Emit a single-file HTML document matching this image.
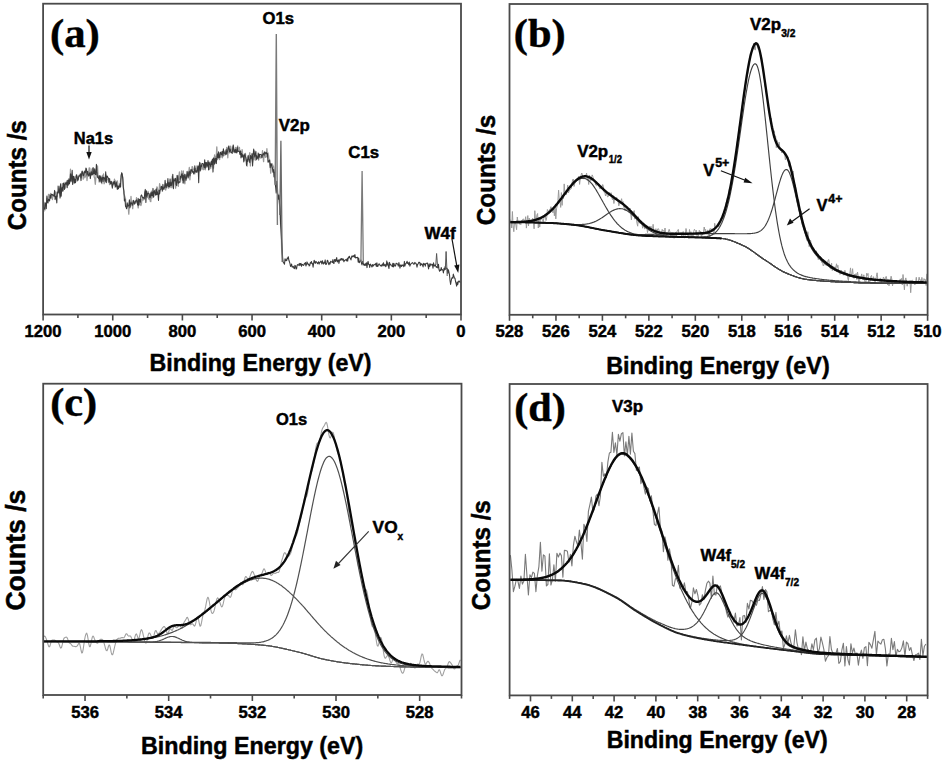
<!DOCTYPE html>
<html><head><meta charset="utf-8"><style>html,body{margin:0;padding:0;background:#fff;width:945px;height:762px;overflow:hidden}svg{display:block}</style></head>
<body><svg width="945" height="762" viewBox="0 0 945 762">
<rect width="945" height="762" fill="#fff"/>
<g clip-path="none">
<polyline fill="none" stroke="#9a9a9a" stroke-width="1.3" stroke-linejoin="round" points="43.6,201.7 44.1,202.7 44.7,209.4 45.2,209.9 45.8,204.4 46.3,205.0 46.9,198.2 47.4,198.5 48.0,199.1 48.5,194.4 49.1,194.4 49.6,197.8 50.2,196.1 50.7,193.4 51.3,197.9 51.8,195.5 52.4,199.5 52.9,195.8 53.5,194.3 54.0,195.3 54.6,193.9 55.1,191.8 55.7,192.2 56.2,195.5 56.8,194.7 57.3,196.4 57.9,186.1 58.4,190.0 59.0,189.4 59.5,190.8 60.1,188.2 60.6,187.5 61.2,191.2 61.7,188.6 62.3,183.7 62.8,191.4 63.4,189.7 63.9,184.0 64.5,188.0 65.0,182.3 65.6,188.0 66.1,183.2 66.7,181.0 67.2,182.1 67.8,180.4 68.3,183.3 68.9,182.9 69.4,182.1 70.0,179.8 70.5,169.2 71.1,181.3 71.6,174.4 72.2,181.1 72.7,183.7 73.3,180.5 73.8,178.0 74.4,178.4 74.9,178.2 75.5,176.5 76.0,176.0 76.6,174.6 77.1,181.2 77.7,176.9 78.2,179.8 78.8,175.5 79.3,176.2 79.9,175.1 80.4,176.9 81.0,177.7 81.5,175.5 82.1,172.1 82.6,171.5 83.2,179.2 83.7,172.5 84.3,172.1 84.8,177.8 85.4,176.5 85.9,174.6 86.5,171.5 87.0,180.5 87.6,174.0 88.1,174.5 88.7,172.0 89.2,167.9 89.8,168.1 90.3,173.8 90.9,173.7 91.4,171.9 92.0,169.1 92.5,168.5 93.1,172.5 93.6,169.0 94.2,177.1 94.7,178.3 95.3,184.3 95.8,178.4 96.4,174.1 96.9,173.8 97.5,165.8 98.0,175.8 98.6,177.7 99.1,182.0 99.7,181.4 100.2,181.2 100.8,179.9 101.3,181.2 101.9,183.7 102.4,175.3 103.0,177.2 103.5,174.0 104.1,183.8 104.6,182.6 105.2,180.7 105.7,174.1 106.3,178.9 106.8,178.1 107.4,179.7 107.9,179.4 108.5,182.3 109.0,179.9 109.6,184.6 110.1,183.1 110.7,181.9 111.2,182.9 111.8,181.9 112.3,186.2 112.9,182.7 113.4,184.7 114.0,182.6 114.5,179.1 115.1,187.1 115.6,180.8 116.2,186.6 116.7,186.7 117.3,180.9 117.8,184.2 118.4,186.6 118.9,186.5 119.5,185.3 120.0,187.5 120.6,180.1 121.1,177.9 121.7,173.0 122.2,176.5 122.8,176.9 123.3,185.6 123.9,193.4 124.4,195.2 125.0,197.2 125.5,198.8 126.1,206.5 126.6,208.3 127.2,206.0 127.7,204.0 128.3,208.1 128.8,214.2 129.4,204.8 129.9,206.6 130.5,206.5 131.0,196.5 131.6,205.1 132.1,202.1 132.7,208.7 133.2,203.0 133.8,201.0 134.3,202.6 134.9,203.6 135.4,200.9 136.0,202.3 136.5,197.7 137.1,201.2 137.6,204.2 138.2,207.9 138.7,203.4 139.3,201.7 139.8,204.5 140.4,203.7 140.9,205.5 141.5,203.3 142.0,199.1 142.6,200.1 143.1,199.6 143.7,199.8 144.2,199.2 144.8,195.7 145.3,191.1 145.9,195.6 146.4,190.9 147.0,197.5 147.5,197.1 148.1,191.3 148.6,198.9 149.2,199.2 149.7,196.4 150.3,201.3 150.8,201.6 151.4,191.1 151.9,198.2 152.5,195.9 153.0,195.5 153.6,196.8 154.1,191.0 154.7,191.1 155.2,190.0 155.8,189.9 156.3,191.7 156.9,186.9 157.4,187.9 158.0,192.9 158.5,190.4 159.1,191.5 159.6,183.7 160.2,187.0 160.7,187.4 161.3,189.0 161.8,186.6 162.4,191.3 162.9,187.7 163.5,187.6 164.0,187.2 164.6,189.2 165.1,185.0 165.7,190.0 166.2,187.5 166.8,186.2 167.3,185.6 167.9,186.9 168.4,188.2 169.0,187.7 169.5,185.6 170.1,186.9 170.6,184.2 171.2,187.6 171.7,183.1 172.3,176.1 172.8,187.1 173.4,182.8 173.9,178.3 174.5,181.2 175.0,178.7 175.6,188.2 176.1,182.7 176.7,175.6 177.2,182.3 177.8,178.9 178.3,186.3 178.9,176.2 179.4,172.0 180.0,179.3 180.5,177.6 181.1,177.0 181.6,171.0 182.2,179.1 182.7,182.9 183.3,170.8 183.8,180.6 184.4,174.5 184.9,183.8 185.5,177.2 186.0,174.8 186.6,178.7 187.1,176.5 187.7,172.5 188.2,176.4 188.8,172.1 189.3,167.5 189.9,179.8 190.4,171.6 191.0,170.4 191.5,173.2 192.1,166.6 192.6,167.0 193.2,169.5 193.7,169.1 194.3,170.7 194.8,173.9 195.4,168.4 195.9,171.4 196.5,171.5 197.0,165.8 197.6,169.9 198.1,165.8 198.7,172.2 199.2,169.9 199.8,168.3 200.3,163.6 200.9,168.2 201.4,165.0 202.0,169.7 202.5,166.7 203.1,164.2 203.6,169.7 204.2,168.8 204.7,164.3 205.3,169.8 205.8,164.8 206.4,164.5 206.9,165.8 207.5,162.6 208.0,163.4 208.6,164.2 209.1,169.5 209.7,168.9 210.2,162.6 210.8,168.2 211.3,162.2 211.9,163.0 212.4,164.1 213.0,161.6 213.5,168.1 214.1,160.4 214.6,155.0 215.2,162.8 215.7,156.5 216.3,156.3 216.8,146.9 217.4,159.5 217.9,158.4 218.5,157.7 219.0,157.8 219.6,159.6 220.1,153.9 220.7,157.2 221.2,151.7 221.8,153.1 222.3,157.8 222.9,155.7 223.4,150.0 224.0,155.7 224.5,153.5 225.1,151.1 225.6,154.8 226.2,151.7 226.7,147.5 227.3,148.6 227.8,157.8 228.4,146.6 228.9,151.9 229.5,152.8 230.0,152.6 230.6,146.1 231.1,148.7 231.7,149.8 232.2,151.6 232.8,146.5 233.3,144.8 233.9,152.1 234.4,152.6 235.0,150.4 235.5,147.4 236.1,150.9 236.6,150.1 237.2,152.7 237.7,146.0 238.3,150.7 238.8,150.0 239.4,147.4 239.9,152.4 240.5,152.5 241.0,151.6 241.6,154.9 242.1,149.6 242.7,154.7 243.2,157.0 243.8,157.2 244.3,160.5 244.9,153.7 245.4,153.4 246.0,159.9 246.5,160.9 247.1,166.1 247.6,160.8 248.2,155.6 248.7,160.9 249.3,155.1 249.8,152.7 250.4,165.9 250.9,158.1 251.5,159.1 252.0,158.3 252.6,162.2 253.1,156.8 253.7,159.6 254.2,152.1 254.8,150.9 255.3,160.1 255.9,160.2 256.4,157.0 257.0,155.9 257.5,155.7 258.1,152.8 258.6,160.1 259.2,157.1 259.7,156.5 260.3,156.0 260.8,158.2 261.4,156.3 261.9,157.1 262.5,150.7 263.0,156.2 263.6,161.6 264.1,152.6 264.7,153.9 265.2,157.2 265.8,157.3 266.3,156.1 266.9,148.7 267.4,156.9 268.0,152.8 268.5,155.4 269.1,161.1 269.6,159.5 270.2,164.3 270.7,173.2 271.3,166.5 271.8,167.7 272.4,163.8 272.9,166.1 273.5,166.1 274.0,169.3 274.6,170.9 275.1,179.4 275.7,185.8 276.2,184.7 276.8,184.8 277.3,186.9 277.9,195.1 278.4,196.0 279.0,201.4 279.5,204.4 280.1,210.9 280.6,225.2 281.2,229.2 281.7,251.5 282.3,256.5 282.8,260.4 283.4,261.1" />
<polyline fill="none" stroke="#3a3a3a" stroke-width="1.05" stroke-linejoin="round" points="43.6,212.0 44.1,208.1 44.7,208.8 45.2,202.8 45.8,204.3 46.3,208.7 46.9,196.1 47.4,202.0 48.0,203.0 48.5,199.1 49.1,199.8 49.6,201.0 50.2,195.3 50.7,198.1 51.3,194.2 51.8,194.5 52.4,194.4 52.9,195.4 53.5,195.8 54.0,196.2 54.6,190.4 55.1,199.7 55.7,196.8 56.2,196.0 56.8,202.9 57.3,191.9 57.9,193.3 58.4,192.4 59.0,186.0 59.5,192.4 60.1,198.1 60.6,183.8 61.2,196.3 61.7,189.1 62.3,187.2 62.8,190.9 63.4,183.0 63.9,184.2 64.5,189.5 65.0,184.2 65.6,183.1 66.1,184.3 66.7,182.3 67.2,187.7 67.8,180.3 68.3,185.1 68.9,178.7 69.4,183.9 70.0,181.3 70.5,173.8 71.1,180.9 71.6,177.6 72.2,170.2 72.7,184.4 73.3,176.4 73.8,176.2 74.4,183.1 74.9,179.0 75.5,182.8 76.0,178.9 76.6,175.1 77.1,177.1 77.7,180.5 78.2,179.4 78.8,176.3 79.3,176.1 79.9,175.3 80.4,173.7 81.0,180.6 81.5,174.7 82.1,171.1 82.6,172.7 83.2,175.8 83.7,175.2 84.3,172.7 84.8,171.0 85.4,173.0 85.9,168.0 86.5,169.0 87.0,175.1 87.6,171.3 88.1,173.7 88.7,176.1 89.2,174.4 89.8,172.6 90.3,178.6 90.9,174.4 91.4,171.7 92.0,175.1 92.5,174.5 93.1,167.6 93.6,174.0 94.2,173.6 94.7,168.8 95.3,174.5 95.8,174.7 96.4,164.3 96.9,171.9 97.5,177.3 98.0,177.6 98.6,178.6 99.1,175.6 99.7,181.2 100.2,175.8 100.8,178.5 101.3,182.8 101.9,176.9 102.4,177.3 103.0,181.8 103.5,177.4 104.1,177.6 104.6,178.9 105.2,181.2 105.7,171.7 106.3,182.7 106.8,176.0 107.4,176.3 107.9,177.6 108.5,178.2 109.0,182.0 109.6,178.6 110.1,182.7 110.7,184.0 111.2,181.2 111.8,183.8 112.3,188.2 112.9,184.6 113.4,181.9 114.0,183.7 114.5,181.4 115.1,184.9 115.6,186.7 116.2,182.0 116.7,184.8 117.3,189.5 117.8,185.9 118.4,188.8 118.9,186.3 119.5,186.9 120.0,183.6 120.6,187.0 121.1,175.5 121.7,172.9 122.2,173.9 122.8,179.0 123.3,187.5 123.9,191.0 124.4,200.9 125.0,199.3 125.5,206.4 126.1,206.8 126.6,208.8 127.2,202.8 127.7,206.2 128.3,206.1 128.8,205.3 129.4,199.7 129.9,207.9 130.5,204.1 131.0,202.1 131.6,203.9 132.1,203.7 132.7,205.3 133.2,200.3 133.8,201.0 134.3,204.1 134.9,203.4 135.4,201.7 136.0,200.9 136.5,199.9 137.1,201.8 137.6,205.0 138.2,198.4 138.7,205.4 139.3,199.4 139.8,199.3 140.4,202.5 140.9,195.9 141.5,194.9 142.0,195.9 142.6,198.1 143.1,198.1 143.7,197.3 144.2,198.8 144.8,192.3 145.3,189.4 145.9,202.5 146.4,191.1 147.0,196.2 147.5,193.8 148.1,193.0 148.6,193.8 149.2,193.7 149.7,197.8 150.3,197.4 150.8,192.7 151.4,195.8 151.9,192.2 152.5,195.7 153.0,188.4 153.6,197.2 154.1,192.0 154.7,190.8 155.2,193.7 155.8,195.3 156.3,188.9 156.9,194.6 157.4,191.7 158.0,194.4 158.5,200.5 159.1,190.0 159.6,194.0 160.2,190.1 160.7,189.5 161.3,186.3 161.8,187.7 162.4,190.4 162.9,184.2 163.5,189.3 164.0,188.1 164.6,187.6 165.1,180.3 165.7,186.0 166.2,187.8 166.8,183.6 167.3,185.7 167.9,178.5 168.4,186.8 169.0,182.7 169.5,186.8 170.1,178.9 170.6,185.7 171.2,182.8 171.7,185.5 172.3,180.4 172.8,174.3 173.4,188.7 173.9,179.8 174.5,179.9 175.0,180.8 175.6,178.4 176.1,184.4 176.7,185.6 177.2,178.5 177.8,175.4 178.3,183.2 178.9,182.8 179.4,181.7 180.0,182.3 180.5,176.3 181.1,177.9 181.6,174.2 182.2,173.8 182.7,180.2 183.3,175.2 183.8,183.1 184.4,176.6 184.9,174.3 185.5,178.0 186.0,180.5 186.6,176.5 187.1,171.3 187.7,175.5 188.2,178.0 188.8,172.4 189.3,171.3 189.9,176.0 190.4,173.2 191.0,169.4 191.5,171.0 192.1,169.7 192.6,172.3 193.2,171.4 193.7,174.0 194.3,172.5 194.8,165.8 195.4,171.1 195.9,172.3 196.5,170.8 197.0,172.2 197.6,167.6 198.1,166.2 198.7,182.8 199.2,165.5 199.8,162.2 200.3,170.9 200.9,165.8 201.4,166.7 202.0,163.4 202.5,163.4 203.1,163.7 203.6,165.7 204.2,167.5 204.7,159.8 205.3,168.1 205.8,162.5 206.4,162.6 206.9,167.2 207.5,164.9 208.0,160.6 208.6,169.9 209.1,162.0 209.7,164.7 210.2,164.0 210.8,166.8 211.3,161.1 211.9,164.6 212.4,159.1 213.0,172.1 213.5,158.0 214.1,158.5 214.6,164.3 215.2,159.3 215.7,158.2 216.3,163.6 216.8,157.8 217.4,153.9 217.9,157.7 218.5,151.8 219.0,157.7 219.6,157.4 220.1,152.5 220.7,152.4 221.2,154.7 221.8,154.3 222.3,151.6 222.9,156.0 223.4,148.7 224.0,153.3 224.5,153.0 225.1,153.0 225.6,154.3 226.2,149.6 226.7,154.3 227.3,151.8 227.8,150.1 228.4,147.7 228.9,145.9 229.5,151.8 230.0,149.0 230.6,150.3 231.1,152.7 231.7,152.3 232.2,153.4 232.8,147.8 233.3,145.6 233.9,151.7 234.4,149.9 235.0,152.3 235.5,149.4 236.1,152.9 236.6,152.1 237.2,147.0 237.7,151.5 238.3,151.4 238.8,151.1 239.4,151.7 239.9,154.5 240.5,150.9 241.0,157.9 241.6,153.3 242.1,157.0 242.7,154.7 243.2,154.9 243.8,162.0 244.3,156.1 244.9,154.1 245.4,156.4 246.0,158.2 246.5,165.4 247.1,159.7 247.6,161.4 248.2,155.7 248.7,159.2 249.3,159.8 249.8,162.7 250.4,155.4 250.9,158.7 251.5,157.6 252.0,153.6 252.6,165.9 253.1,155.2 253.7,149.1 254.2,153.7 254.8,157.0 255.3,154.2 255.9,151.6 256.4,159.4 257.0,155.9 257.5,158.0 258.1,159.0 258.6,153.5 259.2,157.2 259.7,154.2 260.3,154.6 260.8,154.5 261.4,154.7 261.9,157.7 262.5,154.9 263.0,154.0 263.6,153.6 264.1,155.3 264.7,151.8 265.2,152.8 265.8,154.0 266.3,152.5 266.9,153.7 267.4,153.5 268.0,162.3 268.5,161.8 269.1,160.5 269.6,160.3 270.2,167.8 270.7,163.7 271.3,163.7 271.8,166.2 272.4,167.6 272.9,172.2 273.5,169.6 274.0,177.0 274.6,172.1 275.1,183.5 275.7,187.6 276.2,193.1 276.8,181.2 277.3,191.2 277.9,196.2 278.4,199.3 279.0,194.9 279.5,200.0 280.1,208.1 280.6,223.4 281.2,233.7 281.7,242.9 282.3,250.6 282.8,261.7 283.4,262.0 283.9,263.3 284.5,264.2 285.0,258.7 285.6,260.8 286.1,259.8 286.7,260.6 287.2,258.0 287.8,258.6 288.3,256.7 288.9,260.3 289.4,261.7 290.0,263.7 290.5,266.5 291.1,265.8 291.6,264.0 292.2,267.2 292.7,266.9 293.3,266.3 293.8,268.1 294.4,268.6 294.9,265.3 295.5,265.8 296.0,269.0 296.6,268.7 297.1,265.4 297.7,264.5 298.2,265.1 298.8,265.2 299.3,263.4 299.9,265.6 300.4,263.5 301.0,263.4 301.5,266.3 302.1,264.4 302.6,264.5 303.2,265.3 303.7,265.4 304.3,263.6 304.8,263.9 305.4,262.5 305.9,266.0 306.5,264.4 307.0,261.9 307.6,263.5 308.1,264.5 308.7,264.1 309.2,266.0 309.8,265.4 310.3,262.6 310.9,263.2 311.4,261.5 312.0,263.7 312.5,263.5 313.1,267.2 313.6,263.4 314.2,260.2 314.7,262.3 315.3,263.4 315.8,261.4 316.4,261.9 316.9,262.6 317.5,263.7 318.0,262.9 318.6,261.8 319.1,264.2 319.7,262.3 320.2,262.4 320.8,261.1 321.3,261.9 321.9,264.0 322.4,260.7 323.0,262.9 323.5,264.0 324.1,262.3 324.6,263.1 325.2,259.9 325.7,264.5 326.3,264.2 326.8,262.9 327.4,260.2 327.9,260.9 328.5,263.7 329.0,264.7 329.6,262.6 330.1,263.9 330.7,261.2 331.2,261.7 331.8,261.9 332.3,262.5 332.9,259.6 333.4,263.1 334.0,263.5 334.5,259.8 335.1,259.4 335.6,261.6 336.2,260.2 336.7,257.6 337.3,262.0 337.8,261.0 338.4,259.9 338.9,263.5 339.5,260.6 340.0,259.2 340.6,260.3 341.1,258.5 341.7,258.8 342.2,260.3 342.8,258.8 343.3,258.9 343.9,261.8 344.4,260.5 345.0,260.3 345.5,259.8 346.1,259.6 346.6,260.9 347.2,258.6 347.7,261.2 348.3,257.0 348.8,257.9 349.4,256.2 349.9,257.7 350.5,258.7 351.0,259.9 351.6,256.7 352.1,255.8 352.7,256.9 353.2,256.3 353.8,255.5 354.3,257.2 354.9,254.6 355.4,257.7 356.0,258.0 356.5,257.4 357.1,257.4 357.6,257.2 358.2,262.3 358.7,258.1 359.3,262.7 359.8,262.0 360.4,260.7 360.9,260.0 361.5,263.5 362.0,264.9 362.6,261.4 363.1,262.7 363.7,265.0 364.2,264.3 364.8,265.5 365.3,263.7 365.9,265.3 366.4,262.7 367.0,267.6 367.5,263.5 368.1,261.4 368.6,264.4 369.2,264.4 369.7,267.4 370.3,264.1 370.8,264.6 371.4,265.9 371.9,267.0 372.5,264.6 373.0,266.2 373.6,265.4 374.1,264.3 374.7,264.8 375.2,264.8 375.8,263.4 376.3,266.5 376.9,262.8 377.4,266.5 378.0,266.2 378.5,264.7 379.1,263.7 379.6,264.5 380.2,265.5 380.7,265.9 381.3,265.1 381.8,266.3 382.4,264.1 382.9,265.3 383.5,262.7 384.0,266.0 384.6,265.2 385.1,264.4 385.7,266.7 386.2,266.0 386.8,260.9 387.3,265.0 387.9,262.8 388.4,266.4 389.0,268.5 389.5,262.3 390.1,264.9 390.6,264.4 391.2,265.3 391.7,265.7 392.3,266.6 392.8,263.3 393.4,266.9 393.9,263.3 394.5,265.0 395.0,266.3 395.6,265.6 396.1,263.2 396.7,263.5 397.2,263.8 397.8,264.4 398.3,266.1 398.9,262.5 399.4,265.1 400.0,268.1 400.5,265.1 401.1,265.0 401.6,266.5 402.2,265.0 402.7,265.5 403.3,265.0 403.8,266.8 404.4,261.4 404.9,266.0 405.5,263.7 406.0,263.7 406.6,262.6 407.1,261.3 407.7,263.5 408.2,262.9 408.8,264.8 409.3,262.0 409.9,266.2 410.4,264.5 411.0,263.8 411.5,263.2 412.1,263.1 412.6,262.6 413.2,263.5 413.7,264.3 414.3,264.1 414.8,262.4 415.4,263.3 415.9,263.2 416.5,264.7 417.0,267.2 417.6,264.2 418.1,264.1 418.7,262.3 419.2,262.6 419.8,262.2 420.3,265.7 420.9,263.6 421.4,264.8 422.0,263.9 422.5,265.0 423.1,266.9 423.6,263.3 424.2,264.4 424.7,263.8 425.3,266.2 425.8,263.5 426.4,263.4 426.9,263.1 427.5,263.1 428.0,265.8 428.6,268.9 429.1,263.7 429.7,266.6 430.2,265.6 430.8,263.7 431.3,264.9 431.9,265.0 432.4,264.4 433.0,268.2 433.5,262.7 434.1,266.0 434.6,266.0 435.2,264.8 435.7,266.1 436.3,267.4 436.8,266.6 437.4,267.2 437.9,267.9 438.5,264.2 439.0,269.6 439.6,271.2 440.1,269.9 440.7,270.5 441.2,267.5 441.8,269.9 442.3,269.5 442.9,270.4 443.4,273.0 444.0,268.4 444.5,269.9 445.1,266.5 445.6,268.3 446.2,268.4 446.7,268.0 447.3,268.8 447.8,273.4 448.4,269.7 448.9,271.9 449.5,274.9 450.0,280.5 450.6,284.5 451.1,281.4 451.7,278.5 452.2,277.5 452.8,278.3 453.3,274.1 453.9,276.1 454.4,278.0 455.0,278.3 455.5,281.3 456.1,283.5 456.6,286.1 457.2,281.9 457.7,284.7 458.3,282.1 458.8,281.1 459.4,281.1 459.9,282.3 460.5,281.6" />
<polyline fill="none" stroke="#7a7a7a" stroke-width="1.4" points="275.2,185 276.3,34 277.4,225"/>
<polyline fill="none" stroke="#6a6a6a" stroke-width="1.3" points="279.8,215 280.9,140.7 282.2,262"/>
<polyline fill="none" stroke="#7a7a7a" stroke-width="1.3" points="360.9,262 362.1,171 363.3,263"/>
<polyline fill="none" stroke="#555" stroke-width="1.0" points="435.8,265 436.6,253.5 437.6,267"/>
<polyline fill="none" stroke="#555" stroke-width="1.0" points="445.3,270 446.1,251.5 447.2,276"/>
<text x="73.80" y="144.00" style="font-family:'Liberation Sans',sans-serif;font-weight:bold;font-size:16px" text-anchor="start" textLength="39.20" lengthAdjust="spacingAndGlyphs" stroke="#000" stroke-width="0.45" >Na1s</text>
<line x1="89" y1="145.5" x2="89" y2="154" stroke="#111" stroke-width="1.2"/>
<polygon points="86.3,152 91.7,152 89,159.5" fill="#111"/>
<text x="262.60" y="24.00" style="font-family:'Liberation Sans',sans-serif;font-weight:bold;font-size:16px" text-anchor="start" textLength="31.50" lengthAdjust="spacingAndGlyphs" stroke="#000" stroke-width="0.45" >O1s</text>
<text x="278.80" y="131.00" style="font-family:'Liberation Sans',sans-serif;font-weight:bold;font-size:16px" text-anchor="start" textLength="31.00" lengthAdjust="spacingAndGlyphs" stroke="#000" stroke-width="0.45" >V2p</text>
<text x="348.30" y="158.20" style="font-family:'Liberation Sans',sans-serif;font-weight:bold;font-size:16px" text-anchor="start" textLength="30.80" lengthAdjust="spacingAndGlyphs" stroke="#000" stroke-width="0.45" >C1s</text>
<text x="424.50" y="238.50" style="font-family:'Liberation Sans',sans-serif;font-weight:bold;font-size:16px" text-anchor="start" textLength="31.20" lengthAdjust="spacingAndGlyphs" stroke="#000" stroke-width="0.45" >W4f</text>
<line x1="452" y1="239" x2="456.8" y2="266" stroke="#111" stroke-width="1.2"/>
<polygon points="454.2,265.5 459.4,264.6 458.2,273" fill="#111"/>
<polyline fill="none" stroke="#9a9a9a" stroke-width="1.0" stroke-linejoin="round" points="510.3,220.1 511.0,220.2 511.7,228.0 512.4,211.5 513.1,225.8 513.8,231.7 514.5,222.2 515.2,222.0 515.9,225.1 516.6,229.7 517.3,217.0 518.0,222.4 518.7,221.2 519.4,224.3 520.1,222.6 520.8,224.7 521.5,220.1 522.2,222.1 522.9,219.0 523.6,219.0 524.3,221.1 525.0,221.1 525.7,216.7 526.4,228.1 527.1,220.9 527.8,215.6 528.5,225.9 529.2,218.1 529.9,223.2 530.6,220.9 531.3,221.9 532.0,221.5 532.7,218.2 533.4,220.6 534.1,228.8 534.8,210.7 535.5,220.2 536.2,221.5 536.9,215.0 537.6,213.5 538.3,228.0 539.0,217.1 539.7,227.1 540.4,220.3 541.1,218.1 541.8,219.4 542.5,219.7 543.2,221.6 543.9,218.0 544.6,216.4 545.3,216.0 546.0,220.5 546.7,217.7 547.4,209.5 548.1,210.5 548.8,214.0 549.5,209.4 550.2,209.8 550.9,206.7 551.6,208.9 552.3,211.1 553.0,212.8 553.7,207.9 554.4,215.8 555.1,205.9 555.8,218.9 556.5,208.8 557.2,205.9 557.9,200.8 558.6,190.2 559.3,200.5 560.0,201.0 560.7,207.4 561.4,192.6 562.1,205.4 562.8,195.4 563.5,198.6 564.2,183.9 564.9,194.2 565.6,191.3 566.3,194.6 567.0,191.2 567.7,185.1 568.4,193.0 569.1,191.0 569.8,189.7 570.5,189.4 571.2,188.8 571.9,184.6 572.6,179.8 573.3,179.0 574.0,186.5 574.7,183.8 575.4,181.3 576.1,179.1 576.8,179.9 577.5,179.3 578.2,177.8 578.9,176.2 579.6,184.4 580.3,178.2 581.0,175.4 581.7,173.0 582.4,174.5 583.1,178.7 583.8,178.7 584.5,175.7 585.2,176.5 585.9,175.4 586.6,173.1 587.3,180.5 588.0,177.9 588.7,184.5 589.4,175.1 590.1,177.3 590.8,180.8 591.5,177.8 592.2,174.9 592.9,176.7 593.6,180.4 594.3,181.7 595.0,181.0 595.7,185.0 596.4,185.6 597.1,184.2 597.8,184.0 598.5,183.9 599.2,187.0 599.9,188.8 600.6,186.9 601.3,188.7 602.0,187.1 602.7,184.5 603.4,186.4 604.1,192.3 604.8,192.0 605.5,196.0 606.2,192.0 606.9,195.0 607.6,196.9 608.3,196.5 609.0,192.2 609.7,194.0 610.4,195.5 611.1,192.7 611.8,197.6 612.5,199.7 613.2,195.7 613.9,203.5 614.6,197.2 615.3,197.9 616.0,198.3 616.7,197.4 617.4,201.2 618.1,200.5 618.8,205.9 619.5,203.2 620.2,203.5 620.9,201.8 621.6,198.7 622.3,203.2 623.0,201.5 623.7,207.4 624.4,205.1 625.1,210.8 625.8,208.6 626.5,209.5 627.2,208.4 627.9,209.0 628.6,211.0 629.3,212.5 630.0,208.3 630.7,212.7 631.4,219.8 632.1,212.4 632.8,212.6 633.5,212.1 634.2,210.6 634.9,219.2 635.6,216.6 636.3,218.1 637.0,223.4 637.7,226.2 638.4,216.7 639.1,223.2 639.8,222.6 640.5,222.7 641.2,223.6 641.9,222.7 642.6,228.2 643.3,225.9 644.0,225.7 644.7,228.9 645.4,228.4 646.1,227.7 646.8,227.8 647.5,232.6 648.2,229.3 648.9,227.9 649.6,226.1 650.3,228.0 651.0,226.3 651.7,230.1 652.4,230.9 653.1,224.3 653.8,230.8 654.5,233.0 655.2,231.8 655.9,228.7 656.6,235.5 657.3,229.9 658.0,228.5 658.7,229.1 659.4,232.4 660.1,235.6 660.8,236.3 661.5,233.5 662.2,229.4 662.9,231.1 663.6,230.5 664.3,232.8 665.0,228.0 665.7,233.8 666.4,235.4 667.1,233.1 667.8,235.0 668.5,230.8 669.2,229.3 669.9,231.8 670.6,237.2 671.3,236.8 672.0,232.4 672.7,237.4 673.4,232.8 674.1,238.3 674.8,235.2 675.5,232.4 676.2,236.2 676.9,231.4 677.6,231.0 678.3,229.4 679.0,234.5 679.7,233.6 680.4,233.5 681.1,232.5 681.8,238.0 682.5,232.5 683.2,231.5 683.9,237.4 684.6,238.0 685.3,234.7 686.0,228.5 686.7,231.9 687.4,235.5 688.1,233.7 688.8,238.3 689.5,229.5 690.2,235.7 690.9,231.7 691.6,237.6 692.3,233.4 693.0,236.7 693.7,231.6 694.4,229.3 695.1,230.2 695.8,231.7 696.5,230.4 697.2,237.1 697.9,237.5 698.6,234.3 699.3,230.3 700.0,233.0 700.7,231.3 701.4,237.6 702.1,234.2 702.8,234.6 703.5,231.9 704.2,227.0 704.9,230.6 705.6,229.4 706.3,233.8 707.0,232.8 707.7,229.9 708.4,230.9 709.1,236.6 709.8,228.8 710.5,228.6 711.2,230.3 711.9,228.6 712.6,228.9 713.3,231.4 714.0,234.5 714.7,223.3 715.4,228.0 716.1,227.4 716.8,226.3 717.5,225.1 718.2,223.7 718.9,226.7 719.6,221.1 720.3,220.8 721.0,219.8 721.7,218.6 722.4,216.2 723.1,217.9 723.8,213.0 724.5,211.5 725.2,208.6 725.9,203.3 726.6,201.3 727.3,197.9 728.0,198.8 728.7,193.0 729.4,188.7 730.1,189.2 730.8,186.5 731.5,175.9 732.2,182.3 732.9,173.2 733.6,168.6 734.3,167.6 735.0,160.1 735.7,153.4 736.4,156.9 737.1,142.2 737.8,140.1 738.5,137.8 739.2,126.9 739.9,124.5 740.6,120.7 741.3,121.5 742.0,106.4 742.7,103.7 743.4,100.7 744.1,93.9 744.8,85.2 745.5,85.2 746.2,79.7 746.9,76.3 747.6,74.1 748.3,69.7 749.0,64.2 749.7,60.4 750.4,53.1 751.1,53.1 751.8,51.6 752.5,47.6 753.2,47.3 753.9,43.0 754.6,49.0 755.3,50.1 756.0,42.2 756.7,44.7 757.4,43.5 758.1,49.4 758.8,48.8 759.5,50.2 760.2,52.3 760.9,56.8 761.6,57.2 762.3,66.4 763.0,66.7 763.7,75.1 764.4,78.7 765.1,86.5 765.8,88.2 766.5,96.3 767.2,95.4 767.9,104.8 768.6,107.0 769.3,112.8 770.0,116.7 770.7,123.4 771.4,118.3 772.1,128.8 772.8,126.6 773.5,137.6 774.2,130.7 774.9,136.0 775.6,136.0 776.3,147.7 777.0,140.4 777.7,145.9 778.4,145.0 779.1,142.2 779.8,147.3 780.5,151.0 781.2,149.0 781.9,153.0 782.6,149.7 783.3,151.5 784.0,151.1 784.7,154.2 785.4,159.9 786.1,156.4 786.8,157.2 787.5,156.3 788.2,157.6 788.9,166.3 789.6,160.8 790.3,163.9 791.0,169.0 791.7,170.8 792.4,180.9 793.1,171.0 793.8,182.5 794.5,186.8 795.2,184.7 795.9,189.6 796.6,196.3 797.3,203.3 798.0,199.0 798.7,200.3 799.4,211.3 800.1,216.1 800.8,213.5 801.5,210.9 802.2,224.7 802.9,222.4 803.6,228.9 804.3,227.8 805.0,229.1 805.7,231.0 806.4,238.8 807.1,240.6 807.8,231.7 808.5,237.0 809.2,246.7 809.9,241.8 810.6,240.3 811.3,245.7 812.0,246.7 812.7,247.9 813.4,247.9 814.1,249.5 814.8,250.0 815.5,253.3 816.2,250.8 816.9,253.2 817.6,254.5 818.3,259.6 819.0,257.6 819.7,256.9 820.4,259.5 821.1,259.8 821.8,262.5 822.5,261.4 823.2,265.9 823.9,265.2 824.6,261.6 825.3,261.0 826.0,265.5 826.7,264.9 827.4,263.7 828.1,260.1 828.8,259.5 829.5,266.6 830.2,268.4 830.9,269.0 831.6,263.2 832.3,270.6 833.0,266.4 833.7,269.6 834.4,270.1 835.1,266.8 835.8,267.9 836.5,263.8 837.2,267.6 837.9,265.3 838.6,272.3 839.3,271.5 840.0,274.4 840.7,273.2 841.4,270.1 842.1,273.7 842.8,271.5 843.5,275.2 844.2,274.5 844.9,270.3 845.6,273.9 846.3,274.4 847.0,273.4 847.7,277.7 848.4,280.7 849.1,273.9 849.8,274.1 850.5,267.9 851.2,275.3 851.9,274.4 852.6,268.7 853.3,277.2 854.0,278.4 854.7,274.0 855.4,275.4 856.1,273.5 856.8,279.6 857.5,272.0 858.2,276.2 858.9,284.0 859.6,277.7 860.3,279.2 861.0,277.3 861.7,273.9 862.4,277.9 863.1,279.5 863.8,274.8 864.5,279.5 865.2,282.7 865.9,282.2 866.6,273.3 867.3,275.5 868.0,273.4 868.7,282.6 869.4,281.2 870.1,281.6 870.8,276.3 871.5,275.4 872.2,279.7 872.9,279.9 873.6,276.7 874.3,280.1 875.0,281.9 875.7,280.6 876.4,276.3 877.1,272.8 877.8,279.1 878.5,280.6 879.2,279.2 879.9,278.7 880.6,277.9 881.3,282.7 882.0,280.2 882.7,280.8 883.4,277.1 884.1,278.4 884.8,281.1 885.5,277.2 886.2,276.4 886.9,279.6 887.6,284.8 888.3,281.4 889.0,285.8 889.7,280.4 890.4,279.9 891.1,276.2 891.8,279.1 892.5,285.9 893.2,282.2 893.9,283.6 894.6,283.6 895.3,281.2 896.0,280.6 896.7,281.7 897.4,283.6 898.1,283.0 898.8,283.1 899.5,282.0 900.2,278.9 900.9,280.7 901.6,278.4 902.3,285.0 903.0,274.5 903.7,281.0 904.4,289.8 905.1,280.6 905.8,277.9 906.5,281.8 907.2,286.2 907.9,281.3 908.6,284.0 909.3,282.3 910.0,280.7 910.7,292.7 911.4,282.3 912.1,280.2 912.8,280.4 913.5,283.4 914.2,283.5 914.9,284.8 915.6,282.7 916.3,277.3 917.0,284.0 917.7,281.2 918.4,281.3 919.1,277.2 919.8,280.3 920.5,279.8 921.2,282.2 921.9,277.4 922.6,282.5 923.3,282.8 924.0,278.6 924.7,280.3 925.4,279.5 926.1,285.5 926.8,273.8" />
<polyline fill="none" stroke="#404040" stroke-width="1.15" stroke-linejoin="round" points="510.3,222.1 511.0,222.1 511.7,222.1 512.4,222.1 513.1,222.1 513.8,222.1 514.5,222.1 515.2,222.1 515.9,222.1 516.6,222.0 517.3,222.0 518.0,222.0 518.7,222.0 519.4,222.0 520.1,221.9 520.8,221.9 521.5,221.9 522.2,221.9 522.9,221.8 523.6,221.8 524.3,221.7 525.0,221.7 525.7,221.6 526.4,221.5 527.1,221.5 527.8,221.4 528.5,221.3 529.2,221.2 529.9,221.1 530.6,221.0 531.3,220.9 532.0,220.7 532.7,220.6 533.4,220.4 534.1,220.3 534.8,220.1 535.5,219.9 536.2,219.7 536.9,219.5 537.6,219.2 538.3,219.0 539.0,218.7 539.7,218.4 540.4,218.1 541.1,217.7 541.8,217.4 542.5,217.0 543.2,216.6 543.9,216.2 544.6,215.8 545.3,215.3 546.0,214.8 546.7,214.3 547.4,213.8 548.1,213.2 548.8,212.6 549.5,212.0 550.2,211.4 550.9,210.7 551.6,210.0 552.3,209.3 553.0,208.6 553.7,207.8 554.4,207.1 555.1,206.3 555.8,205.5 556.5,204.6 557.2,203.8 557.9,202.9 558.6,202.0 559.3,201.2 560.0,200.3 560.7,199.3 561.4,198.4 562.1,197.5 562.8,196.6 563.5,195.6 564.2,194.7 564.9,193.7 565.6,192.8 566.3,191.9 567.0,191.0 567.7,190.1 568.4,189.2 569.1,188.3 569.8,187.4 570.5,186.6 571.2,185.8 571.9,185.0 572.6,184.3 573.3,183.5 574.0,182.9 574.7,182.2 575.4,181.6 576.1,181.0 576.8,180.5 577.5,180.1 578.2,179.6 578.9,179.3 579.6,179.0 580.3,178.7 581.0,178.5 581.7,178.4 582.4,178.3 583.1,178.3 583.8,178.3 584.5,178.4 585.2,178.6 585.9,178.8 586.6,179.2 587.3,179.5 588.0,180.0 588.7,180.6 589.4,181.2 590.1,181.8 590.8,182.6 591.5,183.4 592.2,184.2 592.9,185.1 593.6,186.1 594.3,187.1 595.0,188.2 595.7,189.3 596.4,190.4 597.1,191.6 597.8,192.7 598.5,194.0 599.2,195.2 599.9,196.4 600.6,197.7 601.3,199.0 602.0,200.2 602.7,201.5 603.4,202.8 604.1,204.0 604.8,205.3 605.5,206.5 606.2,207.7 606.9,208.9 607.6,210.1 608.3,211.3 609.0,212.4 609.7,213.5 610.4,214.6 611.1,215.7 611.8,216.7 612.5,217.7 613.2,218.7 613.9,219.6 614.6,220.5 615.3,221.4 616.0,222.2 616.7,223.0 617.4,223.8 618.1,224.5 618.8,225.2 619.5,225.9 620.2,226.5 620.9,227.1 621.6,227.7 622.3,228.3 623.0,228.8 623.7,229.3 624.4,229.7 625.1,230.2 625.8,230.6 626.5,231.0 627.2,231.4 627.9,231.7 628.6,232.0 629.3,232.3 630.0,232.6 630.7,232.9 631.4,233.1 632.1,233.4 632.8,233.6 633.5,233.8 634.2,234.0 634.9,234.2 635.6,234.3 636.3,234.5 637.0,234.6 637.7,234.8 638.4,234.9 639.1,235.0 639.8,235.1 640.5,235.2 641.2,235.3 641.9,235.4 642.6,235.4 643.3,235.5 644.0,235.6 644.7,235.6 645.4,235.7 646.1,235.7 646.8,235.8 647.5,235.8 648.2,235.9 648.9,235.9 649.6,236.0 650.3,236.0 651.0,236.0 651.7,236.1 652.4,236.1 653.1,236.1 653.8,236.2 654.5,236.2 655.2,236.2 655.9,236.2 656.6,236.3 657.3,236.3 658.0,236.3 658.7,236.4 659.4,236.4 660.1,236.4 660.8,236.4 661.5,236.4 662.2,236.5 662.9,236.5 663.6,236.5 664.3,236.5 665.0,236.5 665.7,236.6 666.4,236.6 667.1,236.6 667.8,236.6 668.5,236.6 669.2,236.7 669.9,236.7 670.6,236.7 671.3,236.7 672.0,236.7 672.7,236.7 673.4,236.8 674.1,236.8 674.8,236.8 675.5,236.8 676.2,236.8 676.9,236.8 677.6,236.9 678.3,236.9 679.0,236.9 679.7,236.9 680.4,236.9 681.1,236.9 681.8,237.0 682.5,237.0 683.2,237.0 683.9,237.0 684.6,237.0 685.3,237.1 686.0,237.1 686.7,237.1 687.4,237.1 688.1,237.1 688.8,237.2 689.5,237.2 690.2,237.2 690.9,237.2 691.6,237.3 692.3,237.3 693.0,237.3 693.7,237.3 694.4,237.3 695.1,237.4 695.8,237.4 696.5,237.4 697.2,237.4 697.9,237.4 698.6,237.5 699.3,237.5 700.0,237.5 700.7,237.5 701.4,237.5 702.1,237.6 702.8,237.6 703.5,237.6 704.2,237.6 704.9,237.6 705.6,237.7 706.3,237.7 707.0,237.7 707.7,237.7 708.4,237.8 709.1,237.8 709.8,237.8 710.5,237.8 711.2,237.9 711.9,237.9 712.6,237.9 713.3,238.0 714.0,238.0 714.7,238.0 715.4,238.1 716.1,238.1 716.8,238.2 717.5,238.2 718.2,238.2 718.9,238.3 719.6,238.3 720.3,238.4 721.0,238.4 721.7,238.5 722.4,238.5 723.1,238.6 723.8,238.7 724.5,238.8 725.2,238.9 725.9,239.1 726.6,239.2 727.3,239.4 728.0,239.6 728.7,239.8 729.4,240.0 730.1,240.2 730.8,240.4 731.5,240.7 732.2,240.9 732.9,241.2 733.6,241.5 734.3,241.7 735.0,242.0 735.7,242.3 736.4,242.6 737.1,242.9 737.8,243.2 738.5,243.5 739.2,243.8 739.9,244.1 740.6,244.4 741.3,244.7 742.0,245.1 742.7,245.4 743.4,245.7 744.1,246.0 744.8,246.4 745.5,246.7 746.2,247.1 746.9,247.5 747.6,247.9 748.3,248.3 749.0,248.8 749.7,249.2 750.4,249.7 751.1,250.2 751.8,250.7 752.5,251.1 753.2,251.6 753.9,252.1 754.6,252.6 755.3,253.1 756.0,253.7 756.7,254.2 757.4,254.7 758.1,255.2 758.8,255.7 759.5,256.2 760.2,256.7 760.9,257.2 761.6,257.7 762.3,258.2 763.0,258.7 763.7,259.2 764.4,259.6 765.1,260.1 765.8,260.5 766.5,261.0 767.2,261.4 767.9,261.9 768.6,262.4 769.3,262.9 770.0,263.3 770.7,263.8 771.4,264.3 772.1,264.8 772.8,265.3 773.5,265.7 774.2,266.2 774.9,266.7 775.6,267.2 776.3,267.6 777.0,268.1 777.7,268.5 778.4,269.0 779.1,269.4 779.8,269.8 780.5,270.2 781.2,270.6 781.9,271.0 782.6,271.4 783.3,271.8 784.0,272.1 784.7,272.4 785.4,272.7 786.1,273.0 786.8,273.3 787.5,273.6 788.2,273.9 788.9,274.2 789.6,274.5 790.3,274.7 791.0,275.0 791.7,275.3 792.4,275.5 793.1,275.8 793.8,276.1 794.5,276.3 795.2,276.6 795.9,276.8 796.6,277.0 797.3,277.3 798.0,277.5 798.7,277.7 799.4,277.9 800.1,278.1 800.8,278.3 801.5,278.5 802.2,278.6 802.9,278.8 803.6,278.9 804.3,279.1 805.0,279.2 805.7,279.3 806.4,279.4 807.1,279.5 807.8,279.6 808.5,279.7 809.2,279.8 809.9,279.9 810.6,279.9 811.3,280.0 812.0,280.1 812.7,280.2 813.4,280.2 814.1,280.3 814.8,280.4 815.5,280.4 816.2,280.5 816.9,280.6 817.6,280.6 818.3,280.7 819.0,280.7 819.7,280.8 820.4,280.9 821.1,280.9 821.8,281.0 822.5,281.0 823.2,281.1 823.9,281.1 824.6,281.2 825.3,281.2 826.0,281.3 826.7,281.3 827.4,281.4 828.1,281.4 828.8,281.4 829.5,281.5 830.2,281.5 830.9,281.6 831.6,281.6 832.3,281.6 833.0,281.7 833.7,281.7 834.4,281.7 835.1,281.8 835.8,281.8 836.5,281.8 837.2,281.9 837.9,281.9 838.6,281.9 839.3,282.0 840.0,282.0 840.7,282.0 841.4,282.1 842.1,282.1 842.8,282.1 843.5,282.2 844.2,282.2 844.9,282.2 845.6,282.2 846.3,282.3 847.0,282.3 847.7,282.3 848.4,282.4 849.1,282.4 849.8,282.4 850.5,282.4 851.2,282.5 851.9,282.5 852.6,282.5 853.3,282.5 854.0,282.6 854.7,282.6 855.4,282.6 856.1,282.6 856.8,282.7 857.5,282.7 858.2,282.7 858.9,282.7 859.6,282.8 860.3,282.8 861.0,282.8 861.7,282.8 862.4,282.8 863.1,282.9 863.8,282.9 864.5,282.9 865.2,282.9 865.9,282.9 866.6,283.0 867.3,283.0 868.0,283.0 868.7,283.0 869.4,283.0 870.1,283.0 870.8,283.1 871.5,283.1 872.2,283.1 872.9,283.1 873.6,283.1 874.3,283.1 875.0,283.1 875.7,283.1 876.4,283.2 877.1,283.2 877.8,283.2 878.5,283.2 879.2,283.2 879.9,283.2 880.6,283.2 881.3,283.2 882.0,283.2 882.7,283.2 883.4,283.2 884.1,283.2 884.8,283.2 885.5,283.3 886.2,283.3 886.9,283.3 887.6,283.3 888.3,283.3 889.0,283.3 889.7,283.3 890.4,283.3 891.1,283.3 891.8,283.3 892.5,283.3 893.2,283.3 893.9,283.3 894.6,283.3 895.3,283.3 896.0,283.4 896.7,283.4 897.4,283.4 898.1,283.4 898.8,283.4 899.5,283.4 900.2,283.4 900.9,283.4 901.6,283.4 902.3,283.4 903.0,283.4 903.7,283.4 904.4,283.4 905.1,283.4 905.8,283.4 906.5,283.4 907.2,283.4 907.9,283.4 908.6,283.4 909.3,283.4 910.0,283.4 910.7,283.5 911.4,283.5 912.1,283.5 912.8,283.5 913.5,283.5 914.2,283.5 914.9,283.5 915.6,283.5 916.3,283.5 917.0,283.5 917.7,283.5 918.4,283.5 919.1,283.5 919.8,283.5 920.5,283.5 921.2,283.5 921.9,283.5 922.6,283.5 923.3,283.5 924.0,283.5 924.7,283.5 925.4,283.5 926.1,283.5 926.8,283.5" />
<polyline fill="none" stroke="#404040" stroke-width="1.15" stroke-linejoin="round" points="510.3,222.2 511.0,222.2 511.7,222.2 512.4,222.2 513.1,222.2 513.8,222.2 514.5,222.2 515.2,222.2 515.9,222.2 516.6,222.2 517.3,222.2 518.0,222.2 518.7,222.3 519.4,222.3 520.1,222.3 520.8,222.3 521.5,222.3 522.2,222.3 522.9,222.3 523.6,222.3 524.3,222.3 525.0,222.3 525.7,222.4 526.4,222.4 527.1,222.4 527.8,222.4 528.5,222.4 529.2,222.4 529.9,222.4 530.6,222.5 531.3,222.5 532.0,222.5 532.7,222.5 533.4,222.5 534.1,222.5 534.8,222.6 535.5,222.6 536.2,222.6 536.9,222.6 537.6,222.6 538.3,222.6 539.0,222.7 539.7,222.7 540.4,222.7 541.1,222.7 541.8,222.7 542.5,222.8 543.2,222.8 543.9,222.8 544.6,222.8 545.3,222.8 546.0,222.9 546.7,222.9 547.4,222.9 548.1,222.9 548.8,223.0 549.5,223.0 550.2,223.0 550.9,223.0 551.6,223.1 552.3,223.1 553.0,223.1 553.7,223.1 554.4,223.2 555.1,223.2 555.8,223.3 556.5,223.3 557.2,223.3 557.9,223.4 558.6,223.4 559.3,223.5 560.0,223.5 560.7,223.6 561.4,223.6 562.1,223.7 562.8,223.7 563.5,223.8 564.2,223.8 564.9,223.9 565.6,223.9 566.3,224.0 567.0,224.0 567.7,224.1 568.4,224.1 569.1,224.2 569.8,224.2 570.5,224.3 571.2,224.3 571.9,224.3 572.6,224.4 573.3,224.4 574.0,224.4 574.7,224.5 575.4,224.5 576.1,224.5 576.8,224.5 577.5,224.5 578.2,224.5 578.9,224.5 579.6,224.5 580.3,224.5 581.0,224.5 581.7,224.5 582.4,224.4 583.1,224.4 583.8,224.3 584.5,224.3 585.2,224.2 585.9,224.1 586.6,224.0 587.3,223.9 588.0,223.8 588.7,223.7 589.4,223.5 590.1,223.3 590.8,223.1 591.5,222.9 592.2,222.7 592.9,222.4 593.6,222.2 594.3,221.9 595.0,221.6 595.7,221.3 596.4,220.9 597.1,220.6 597.8,220.2 598.5,219.8 599.2,219.4 599.9,219.0 600.6,218.6 601.3,218.1 602.0,217.7 602.7,217.2 603.4,216.7 604.1,216.2 604.8,215.7 605.5,215.2 606.2,214.7 606.9,214.2 607.6,213.8 608.3,213.3 609.0,212.8 609.7,212.4 610.4,211.9 611.1,211.5 611.8,211.1 612.5,210.7 613.2,210.4 613.9,210.1 614.6,209.8 615.3,209.5 616.0,209.3 616.7,209.1 617.4,208.9 618.1,208.8 618.8,208.7 619.5,208.6 620.2,208.6 620.9,208.7 621.6,208.7 622.3,208.8 623.0,209.0 623.7,209.2 624.4,209.4 625.1,209.7 625.8,210.1 626.5,210.4 627.2,210.8 627.9,211.3 628.6,211.8 629.3,212.3 630.0,212.8 630.7,213.4 631.4,214.0 632.1,214.6 632.8,215.2 633.5,215.9 634.2,216.6 634.9,217.3 635.6,218.0 636.3,218.7 637.0,219.4 637.7,220.1 638.4,220.8 639.1,221.5 639.8,222.2 640.5,222.8 641.2,223.5 641.9,224.2 642.6,224.8 643.3,225.5 644.0,226.1 644.7,226.7 645.4,227.3 646.1,227.8 646.8,228.4 647.5,228.9 648.2,229.4 648.9,229.9 649.6,230.3 650.3,230.8 651.0,231.2 651.7,231.6 652.4,232.0 653.1,232.3 653.8,232.7 654.5,233.0 655.2,233.3 655.9,233.6 656.6,233.8 657.3,234.1 658.0,234.3 658.7,234.5 659.4,234.7 660.1,234.9 660.8,235.1 661.5,235.2 662.2,235.4 662.9,235.5 663.6,235.6 664.3,235.7 665.0,235.8 665.7,235.9 666.4,236.0 667.1,236.1 667.8,236.2 668.5,236.3 669.2,236.3 669.9,236.4 670.6,236.4 671.3,236.5 672.0,236.5 672.7,236.6 673.4,236.6 674.1,236.6 674.8,236.7 675.5,236.7 676.2,236.7 676.9,236.8 677.6,236.8 678.3,236.8 679.0,236.8 679.7,236.9 680.4,236.9 681.1,236.9 681.8,236.9 682.5,237.0 683.2,237.0 683.9,237.0 684.6,237.0 685.3,237.0 686.0,237.1 686.7,237.1 687.4,237.1 688.1,237.1 688.8,237.2 689.5,237.2 690.2,237.2 690.9,237.2 691.6,237.2 692.3,237.3 693.0,237.3 693.7,237.3 694.4,237.3 695.1,237.4 695.8,237.4 696.5,237.4 697.2,237.4 697.9,237.4 698.6,237.5 699.3,237.5 700.0,237.5 700.7,237.5 701.4,237.5 702.1,237.6 702.8,237.6 703.5,237.6 704.2,237.6 704.9,237.6 705.6,237.7 706.3,237.7 707.0,237.7 707.7,237.7 708.4,237.8 709.1,237.8 709.8,237.8 710.5,237.8 711.2,237.9 711.9,237.9 712.6,237.9 713.3,238.0 714.0,238.0 714.7,238.0 715.4,238.1 716.1,238.1 716.8,238.2 717.5,238.2 718.2,238.2 718.9,238.3 719.6,238.3 720.3,238.4 721.0,238.4 721.7,238.5 722.4,238.5 723.1,238.6 723.8,238.7 724.5,238.8 725.2,238.9 725.9,239.1 726.6,239.2 727.3,239.4 728.0,239.6 728.7,239.8 729.4,240.0 730.1,240.2 730.8,240.4 731.5,240.7 732.2,240.9 732.9,241.2 733.6,241.5 734.3,241.7 735.0,242.0 735.7,242.3 736.4,242.6 737.1,242.9 737.8,243.2 738.5,243.5 739.2,243.8 739.9,244.1 740.6,244.4 741.3,244.7 742.0,245.1 742.7,245.4 743.4,245.7 744.1,246.0 744.8,246.4 745.5,246.7 746.2,247.1 746.9,247.5 747.6,247.9 748.3,248.3 749.0,248.8 749.7,249.2 750.4,249.7 751.1,250.2 751.8,250.7 752.5,251.1 753.2,251.6 753.9,252.1 754.6,252.6 755.3,253.1 756.0,253.7 756.7,254.2 757.4,254.7 758.1,255.2 758.8,255.7 759.5,256.2 760.2,256.7 760.9,257.2 761.6,257.7 762.3,258.2 763.0,258.7 763.7,259.2 764.4,259.6 765.1,260.1 765.8,260.5 766.5,261.0 767.2,261.4 767.9,261.9 768.6,262.4 769.3,262.9 770.0,263.3 770.7,263.8 771.4,264.3 772.1,264.8 772.8,265.3 773.5,265.7 774.2,266.2 774.9,266.7 775.6,267.2 776.3,267.6 777.0,268.1 777.7,268.5 778.4,269.0 779.1,269.4 779.8,269.8 780.5,270.2 781.2,270.6 781.9,271.0 782.6,271.4 783.3,271.8 784.0,272.1 784.7,272.4 785.4,272.7 786.1,273.0 786.8,273.3 787.5,273.6 788.2,273.9 788.9,274.2 789.6,274.5 790.3,274.7 791.0,275.0 791.7,275.3 792.4,275.5 793.1,275.8 793.8,276.1 794.5,276.3 795.2,276.6 795.9,276.8 796.6,277.0 797.3,277.3 798.0,277.5 798.7,277.7 799.4,277.9 800.1,278.1 800.8,278.3 801.5,278.5 802.2,278.6 802.9,278.8 803.6,278.9 804.3,279.1 805.0,279.2 805.7,279.3 806.4,279.4 807.1,279.5 807.8,279.6 808.5,279.7 809.2,279.8 809.9,279.9 810.6,279.9 811.3,280.0 812.0,280.1 812.7,280.2 813.4,280.2 814.1,280.3 814.8,280.4 815.5,280.4 816.2,280.5 816.9,280.6 817.6,280.6 818.3,280.7 819.0,280.7 819.7,280.8 820.4,280.9 821.1,280.9 821.8,281.0 822.5,281.0 823.2,281.1 823.9,281.1 824.6,281.2 825.3,281.2 826.0,281.3 826.7,281.3 827.4,281.4 828.1,281.4 828.8,281.4 829.5,281.5 830.2,281.5 830.9,281.6 831.6,281.6 832.3,281.6 833.0,281.7 833.7,281.7 834.4,281.7 835.1,281.8 835.8,281.8 836.5,281.8 837.2,281.9 837.9,281.9 838.6,281.9 839.3,282.0 840.0,282.0 840.7,282.0 841.4,282.1 842.1,282.1 842.8,282.1 843.5,282.2 844.2,282.2 844.9,282.2 845.6,282.2 846.3,282.3 847.0,282.3 847.7,282.3 848.4,282.4 849.1,282.4 849.8,282.4 850.5,282.4 851.2,282.5 851.9,282.5 852.6,282.5 853.3,282.5 854.0,282.6 854.7,282.6 855.4,282.6 856.1,282.6 856.8,282.7 857.5,282.7 858.2,282.7 858.9,282.7 859.6,282.8 860.3,282.8 861.0,282.8 861.7,282.8 862.4,282.8 863.1,282.9 863.8,282.9 864.5,282.9 865.2,282.9 865.9,282.9 866.6,283.0 867.3,283.0 868.0,283.0 868.7,283.0 869.4,283.0 870.1,283.0 870.8,283.1 871.5,283.1 872.2,283.1 872.9,283.1 873.6,283.1 874.3,283.1 875.0,283.1 875.7,283.1 876.4,283.2 877.1,283.2 877.8,283.2 878.5,283.2 879.2,283.2 879.9,283.2 880.6,283.2 881.3,283.2 882.0,283.2 882.7,283.2 883.4,283.2 884.1,283.2 884.8,283.2 885.5,283.3 886.2,283.3 886.9,283.3 887.6,283.3 888.3,283.3 889.0,283.3 889.7,283.3 890.4,283.3 891.1,283.3 891.8,283.3 892.5,283.3 893.2,283.3 893.9,283.3 894.6,283.3 895.3,283.3 896.0,283.4 896.7,283.4 897.4,283.4 898.1,283.4 898.8,283.4 899.5,283.4 900.2,283.4 900.9,283.4 901.6,283.4 902.3,283.4 903.0,283.4 903.7,283.4 904.4,283.4 905.1,283.4 905.8,283.4 906.5,283.4 907.2,283.4 907.9,283.4 908.6,283.4 909.3,283.4 910.0,283.4 910.7,283.5 911.4,283.5 912.1,283.5 912.8,283.5 913.5,283.5 914.2,283.5 914.9,283.5 915.6,283.5 916.3,283.5 917.0,283.5 917.7,283.5 918.4,283.5 919.1,283.5 919.8,283.5 920.5,283.5 921.2,283.5 921.9,283.5 922.6,283.5 923.3,283.5 924.0,283.5 924.7,283.5 925.4,283.5 926.1,283.5 926.8,283.5" />
<polyline fill="none" stroke="#404040" stroke-width="1.15" stroke-linejoin="round" points="510.3,222.2 511.0,222.2 511.7,222.2 512.4,222.2 513.1,222.2 513.8,222.2 514.5,222.2 515.2,222.2 515.9,222.2 516.6,222.2 517.3,222.2 518.0,222.2 518.7,222.3 519.4,222.3 520.1,222.3 520.8,222.3 521.5,222.3 522.2,222.3 522.9,222.3 523.6,222.3 524.3,222.3 525.0,222.3 525.7,222.4 526.4,222.4 527.1,222.4 527.8,222.4 528.5,222.4 529.2,222.4 529.9,222.4 530.6,222.5 531.3,222.5 532.0,222.5 532.7,222.5 533.4,222.5 534.1,222.5 534.8,222.6 535.5,222.6 536.2,222.6 536.9,222.6 537.6,222.6 538.3,222.6 539.0,222.7 539.7,222.7 540.4,222.7 541.1,222.7 541.8,222.7 542.5,222.8 543.2,222.8 543.9,222.8 544.6,222.8 545.3,222.8 546.0,222.9 546.7,222.9 547.4,222.9 548.1,222.9 548.8,223.0 549.5,223.0 550.2,223.0 550.9,223.0 551.6,223.1 552.3,223.1 553.0,223.1 553.7,223.2 554.4,223.2 555.1,223.2 555.8,223.3 556.5,223.3 557.2,223.4 557.9,223.4 558.6,223.5 559.3,223.5 560.0,223.6 560.7,223.6 561.4,223.7 562.1,223.7 562.8,223.8 563.5,223.8 564.2,223.9 564.9,224.0 565.6,224.0 566.3,224.1 567.0,224.2 567.7,224.2 568.4,224.3 569.1,224.4 569.8,224.4 570.5,224.5 571.2,224.6 571.9,224.7 572.6,224.7 573.3,224.8 574.0,224.9 574.7,225.0 575.4,225.0 576.1,225.1 576.8,225.2 577.5,225.3 578.2,225.4 578.9,225.5 579.6,225.6 580.3,225.7 581.0,225.8 581.7,225.9 582.4,226.1 583.1,226.2 583.8,226.3 584.5,226.4 585.2,226.6 585.9,226.7 586.6,226.8 587.3,227.0 588.0,227.1 588.7,227.2 589.4,227.4 590.1,227.5 590.8,227.7 591.5,227.8 592.2,227.9 592.9,228.1 593.6,228.2 594.3,228.4 595.0,228.5 595.7,228.7 596.4,228.8 597.1,229.0 597.8,229.1 598.5,229.2 599.2,229.4 599.9,229.5 600.6,229.6 601.3,229.8 602.0,229.9 602.7,230.0 603.4,230.2 604.1,230.3 604.8,230.4 605.5,230.5 606.2,230.6 606.9,230.7 607.6,230.9 608.3,231.0 609.0,231.1 609.7,231.2 610.4,231.3 611.1,231.4 611.8,231.6 612.5,231.7 613.2,231.8 613.9,231.9 614.6,232.0 615.3,232.2 616.0,232.3 616.7,232.4 617.4,232.5 618.1,232.6 618.8,232.8 619.5,232.9 620.2,233.0 620.9,233.1 621.6,233.2 622.3,233.3 623.0,233.4 623.7,233.6 624.4,233.7 625.1,233.8 625.8,233.9 626.5,234.0 627.2,234.1 627.9,234.2 628.6,234.3 629.3,234.4 630.0,234.5 630.7,234.6 631.4,234.7 632.1,234.7 632.8,234.8 633.5,234.9 634.2,235.0 634.9,235.1 635.6,235.1 636.3,235.2 637.0,235.3 637.7,235.3 638.4,235.4 639.1,235.4 639.8,235.5 640.5,235.5 641.2,235.6 641.9,235.6 642.6,235.7 643.3,235.7 644.0,235.7 644.7,235.8 645.4,235.8 646.1,235.9 646.8,235.9 647.5,235.9 648.2,236.0 648.9,236.0 649.6,236.0 650.3,236.0 651.0,236.1 651.7,236.1 652.4,236.1 653.1,236.2 653.8,236.2 654.5,236.2 655.2,236.2 655.9,236.3 656.6,236.3 657.3,236.3 658.0,236.3 658.7,236.4 659.4,236.4 660.1,236.4 660.8,236.4 661.5,236.4 662.2,236.5 662.9,236.5 663.6,236.5 664.3,236.5 665.0,236.5 665.7,236.6 666.4,236.6 667.1,236.6 667.8,236.6 668.5,236.6 669.2,236.7 669.9,236.7 670.6,236.7 671.3,236.7 672.0,236.7 672.7,236.7 673.4,236.8 674.1,236.8 674.8,236.8 675.5,236.8 676.2,236.8 676.9,236.8 677.6,236.9 678.3,236.9 679.0,236.9 679.7,236.9 680.4,236.9 681.1,236.9 681.8,237.0 682.5,237.0 683.2,237.0 683.9,237.0 684.6,237.0 685.3,237.1 686.0,237.1 686.7,237.1 687.4,237.1 688.1,237.1 688.8,237.1 689.5,237.2 690.2,237.2 690.9,237.2 691.6,237.2 692.3,237.2 693.0,237.3 693.7,237.3 694.4,237.3 695.1,237.3 695.8,237.3 696.5,237.3 697.2,237.3 697.9,237.3 698.6,237.3 699.3,237.3 700.0,237.3 700.7,237.2 701.4,237.2 702.1,237.2 702.8,237.1 703.5,237.1 704.2,237.0 704.9,236.9 705.6,236.8 706.3,236.7 707.0,236.6 707.7,236.4 708.4,236.3 709.1,236.1 709.8,235.8 710.5,235.6 711.2,235.3 711.9,234.9 712.6,234.6 713.3,234.1 714.0,233.6 714.7,233.1 715.4,232.5 716.1,231.8 716.8,231.1 717.5,230.2 718.2,229.3 718.9,228.3 719.6,227.2 720.3,226.0 721.0,224.6 721.7,223.2 722.4,221.6 723.1,219.9 723.8,218.1 724.5,216.1 725.2,214.0 725.9,211.8 726.6,209.4 727.3,206.9 728.0,204.2 728.7,201.3 729.4,198.3 730.1,195.1 730.8,191.7 731.5,188.2 732.2,184.5 732.9,180.7 733.6,176.7 734.3,172.5 735.0,168.2 735.7,163.8 736.4,159.3 737.1,154.6 737.8,149.9 738.5,145.1 739.2,140.2 739.9,135.3 740.6,130.3 741.3,125.4 742.0,120.5 742.7,115.6 743.4,110.8 744.1,106.0 744.8,101.5 745.5,97.0 746.2,92.8 746.9,88.8 747.6,85.0 748.3,81.4 749.0,78.1 749.7,75.2 750.4,72.5 751.1,70.2 751.8,68.2 752.5,66.5 753.2,65.3 753.9,64.4 754.6,63.9 755.3,63.8 756.0,64.2 756.7,65.0 757.4,66.5 758.1,68.6 758.8,71.4 759.5,74.7 760.2,78.6 760.9,83.0 761.6,87.9 762.3,93.2 763.0,98.8 763.7,104.7 764.4,110.9 765.1,117.3 765.8,123.9 766.5,130.6 767.2,137.3 767.9,144.1 768.6,150.9 769.3,157.6 770.0,164.3 770.7,170.8 771.4,177.2 772.1,183.4 772.8,189.4 773.5,195.2 774.2,200.8 774.9,206.2 775.6,211.3 776.3,216.2 777.0,220.8 777.7,225.1 778.4,229.2 779.1,233.0 779.8,236.6 780.5,239.9 781.2,243.0 781.9,245.9 782.6,248.5 783.3,250.9 784.0,253.2 784.7,255.2 785.4,257.1 786.1,258.8 786.8,260.3 787.5,261.8 788.2,263.1 788.9,264.3 789.6,265.3 790.3,266.4 791.0,267.3 791.7,268.1 792.4,268.9 793.1,269.6 793.8,270.3 794.5,270.9 795.2,271.5 795.9,272.0 796.6,272.5 797.3,273.0 798.0,273.4 798.7,273.8 799.4,274.2 800.1,274.5 800.8,274.8 801.5,275.1 802.2,275.4 802.9,275.7 803.6,275.9 804.3,276.2 805.0,276.4 805.7,276.6 806.4,276.8 807.1,276.9 807.8,277.1 808.5,277.3 809.2,277.4 809.9,277.5 810.6,277.7 811.3,277.8 812.0,277.9 812.7,278.1 813.4,278.2 814.1,278.3 814.8,278.4 815.5,278.5 816.2,278.6 816.9,278.7 817.6,278.8 818.3,278.9 819.0,279.0 819.7,279.1 820.4,279.2 821.1,279.3 821.8,279.4 822.5,279.5 823.2,279.6 823.9,279.6 824.6,279.7 825.3,279.8 826.0,279.9 826.7,279.9 827.4,280.0 828.1,280.1 828.8,280.1 829.5,280.2 830.2,280.3 830.9,280.3 831.6,280.4 832.3,280.4 833.0,280.5 833.7,280.6 834.4,280.6 835.1,280.7 835.8,280.7 836.5,280.8 837.2,280.8 837.9,280.9 838.6,280.9 839.3,281.0 840.0,281.0 840.7,281.1 841.4,281.1 842.1,281.1 842.8,281.2 843.5,281.2 844.2,281.3 844.9,281.3 845.6,281.4 846.3,281.4 847.0,281.4 847.7,281.5 848.4,281.5 849.1,281.6 849.8,281.6 850.5,281.6 851.2,281.7 851.9,281.7 852.6,281.8 853.3,281.8 854.0,281.8 854.7,281.9 855.4,281.9 856.1,281.9 856.8,282.0 857.5,282.0 858.2,282.0 858.9,282.1 859.6,282.1 860.3,282.1 861.0,282.2 861.7,282.2 862.4,282.2 863.1,282.2 863.8,282.3 864.5,282.3 865.2,282.3 865.9,282.4 866.6,282.4 867.3,282.4 868.0,282.4 868.7,282.4 869.4,282.5 870.1,282.5 870.8,282.5 871.5,282.5 872.2,282.6 872.9,282.6 873.6,282.6 874.3,282.6 875.0,282.6 875.7,282.6 876.4,282.7 877.1,282.7 877.8,282.7 878.5,282.7 879.2,282.7 879.9,282.7 880.6,282.8 881.3,282.8 882.0,282.8 882.7,282.8 883.4,282.8 884.1,282.8 884.8,282.8 885.5,282.8 886.2,282.8 886.9,282.9 887.6,282.9 888.3,282.9 889.0,282.9 889.7,282.9 890.4,282.9 891.1,282.9 891.8,282.9 892.5,282.9 893.2,283.0 893.9,283.0 894.6,283.0 895.3,283.0 896.0,283.0 896.7,283.0 897.4,283.0 898.1,283.0 898.8,283.0 899.5,283.0 900.2,283.0 900.9,283.1 901.6,283.1 902.3,283.1 903.0,283.1 903.7,283.1 904.4,283.1 905.1,283.1 905.8,283.1 906.5,283.1 907.2,283.1 907.9,283.1 908.6,283.1 909.3,283.1 910.0,283.1 910.7,283.2 911.4,283.2 912.1,283.2 912.8,283.2 913.5,283.2 914.2,283.2 914.9,283.2 915.6,283.2 916.3,283.2 917.0,283.2 917.7,283.2 918.4,283.2 919.1,283.2 919.8,283.2 920.5,283.2 921.2,283.2 921.9,283.2 922.6,283.2 923.3,283.2 924.0,283.2 924.7,283.2 925.4,283.3 926.1,283.3 926.8,283.3" />
<polyline fill="none" stroke="#404040" stroke-width="1.15" stroke-linejoin="round" points="510.3,222.2 511.0,222.2 511.7,222.2 512.4,222.2 513.1,222.2 513.8,222.2 514.5,222.2 515.2,222.2 515.9,222.2 516.6,222.2 517.3,222.2 518.0,222.2 518.7,222.3 519.4,222.3 520.1,222.3 520.8,222.3 521.5,222.3 522.2,222.3 522.9,222.3 523.6,222.3 524.3,222.3 525.0,222.3 525.7,222.4 526.4,222.4 527.1,222.4 527.8,222.4 528.5,222.4 529.2,222.4 529.9,222.4 530.6,222.5 531.3,222.5 532.0,222.5 532.7,222.5 533.4,222.5 534.1,222.5 534.8,222.6 535.5,222.6 536.2,222.6 536.9,222.6 537.6,222.6 538.3,222.6 539.0,222.7 539.7,222.7 540.4,222.7 541.1,222.7 541.8,222.7 542.5,222.8 543.2,222.8 543.9,222.8 544.6,222.8 545.3,222.8 546.0,222.9 546.7,222.9 547.4,222.9 548.1,222.9 548.8,223.0 549.5,223.0 550.2,223.0 550.9,223.0 551.6,223.1 552.3,223.1 553.0,223.1 553.7,223.2 554.4,223.2 555.1,223.2 555.8,223.3 556.5,223.3 557.2,223.4 557.9,223.4 558.6,223.5 559.3,223.5 560.0,223.6 560.7,223.6 561.4,223.7 562.1,223.7 562.8,223.8 563.5,223.8 564.2,223.9 564.9,224.0 565.6,224.0 566.3,224.1 567.0,224.2 567.7,224.2 568.4,224.3 569.1,224.4 569.8,224.4 570.5,224.5 571.2,224.6 571.9,224.7 572.6,224.7 573.3,224.8 574.0,224.9 574.7,225.0 575.4,225.0 576.1,225.1 576.8,225.2 577.5,225.3 578.2,225.4 578.9,225.5 579.6,225.6 580.3,225.7 581.0,225.8 581.7,226.0 582.4,226.1 583.1,226.2 583.8,226.3 584.5,226.5 585.2,226.6 585.9,226.7 586.6,226.9 587.3,227.0 588.0,227.2 588.7,227.3 589.4,227.4 590.1,227.6 590.8,227.7 591.5,227.9 592.2,228.0 592.9,228.2 593.6,228.3 594.3,228.5 595.0,228.6 595.7,228.8 596.4,228.9 597.1,229.0 597.8,229.2 598.5,229.3 599.2,229.5 599.9,229.6 600.6,229.7 601.3,229.8 602.0,230.0 602.7,230.1 603.4,230.2 604.1,230.3 604.8,230.4 605.5,230.5 606.2,230.6 606.9,230.7 607.6,230.8 608.3,230.9 609.0,231.0 609.7,231.1 610.4,231.2 611.1,231.4 611.8,231.5 612.5,231.6 613.2,231.7 613.9,231.8 614.6,231.9 615.3,232.0 616.0,232.1 616.7,232.2 617.4,232.3 618.1,232.4 618.8,232.5 619.5,232.6 620.2,232.8 620.9,232.9 621.6,233.0 622.3,233.1 623.0,233.1 623.7,233.2 624.4,233.3 625.1,233.4 625.8,233.5 626.5,233.6 627.2,233.7 627.9,233.8 628.6,233.8 629.3,233.9 630.0,234.0 630.7,234.0 631.4,234.1 632.1,234.2 632.8,234.2 633.5,234.3 634.2,234.3 634.9,234.4 635.6,234.4 636.3,234.4 637.0,234.4 637.7,234.5 638.4,234.5 639.1,234.5 639.8,234.5 640.5,234.5 641.2,234.5 641.9,234.5 642.6,234.5 643.3,234.5 644.0,234.5 644.7,234.5 645.4,234.4 646.1,234.4 646.8,234.4 647.5,234.4 648.2,234.4 648.9,234.4 649.6,234.4 650.3,234.3 651.0,234.3 651.7,234.3 652.4,234.3 653.1,234.3 653.8,234.3 654.5,234.2 655.2,234.2 655.9,234.2 656.6,234.2 657.3,234.2 658.0,234.2 658.7,234.2 659.4,234.2 660.1,234.1 660.8,234.1 661.5,234.1 662.2,234.1 662.9,234.1 663.6,234.1 664.3,234.1 665.0,234.1 665.7,234.0 666.4,234.0 667.1,234.0 667.8,234.0 668.5,234.0 669.2,234.0 669.9,234.0 670.6,234.0 671.3,233.9 672.0,233.9 672.7,233.9 673.4,233.9 674.1,233.9 674.8,233.9 675.5,233.9 676.2,233.9 676.9,233.8 677.6,233.8 678.3,233.8 679.0,233.8 679.7,233.8 680.4,233.8 681.1,233.8 681.8,233.8 682.5,233.8 683.2,233.7 683.9,233.7 684.6,233.7 685.3,233.7 686.0,233.7 686.7,233.7 687.4,233.7 688.1,233.7 688.8,233.7 689.5,233.7 690.2,233.7 690.9,233.6 691.6,233.6 692.3,233.6 693.0,233.6 693.7,233.6 694.4,233.6 695.1,233.6 695.8,233.6 696.5,233.6 697.2,233.6 697.9,233.6 698.6,233.6 699.3,233.6 700.0,233.6 700.7,233.6 701.4,233.6 702.1,233.6 702.8,233.6 703.5,233.6 704.2,233.6 704.9,233.6 705.6,233.6 706.3,233.6 707.0,233.6 707.7,233.6 708.4,233.6 709.1,233.6 709.8,233.6 710.5,233.6 711.2,233.6 711.9,233.6 712.6,233.6 713.3,233.6 714.0,233.6 714.7,233.6 715.4,233.6 716.1,233.6 716.8,233.6 717.5,233.6 718.2,233.6 718.9,233.6 719.6,233.6 720.3,233.6 721.0,233.6 721.7,233.6 722.4,233.6 723.1,233.6 723.8,233.6 724.5,233.6 725.2,233.6 725.9,233.6 726.6,233.6 727.3,233.6 728.0,233.6 728.7,233.6 729.4,233.6 730.1,233.6 730.8,233.6 731.5,233.6 732.2,233.6 732.9,233.6 733.6,233.6 734.3,233.6 735.0,233.7 735.7,233.7 736.4,233.7 737.1,233.7 737.8,233.7 738.5,233.7 739.2,233.7 739.9,233.7 740.6,233.7 741.3,233.7 742.0,233.7 742.7,233.7 743.4,233.7 744.1,233.7 744.8,233.7 745.5,233.7 746.2,233.7 746.9,233.7 747.6,233.6 748.3,233.6 749.0,233.6 749.7,233.6 750.4,233.6 751.1,233.5 751.8,233.5 752.5,233.4 753.2,233.3 753.9,233.2 754.6,233.1 755.3,233.0 756.0,232.8 756.7,232.6 757.4,232.4 758.1,232.2 758.8,231.8 759.5,231.5 760.2,231.1 760.9,230.6 761.6,230.0 762.3,229.4 763.0,228.7 763.7,227.9 764.4,227.0 765.1,226.0 765.8,224.9 766.5,223.6 767.2,222.3 767.9,220.8 768.6,219.2 769.3,217.4 770.0,215.6 770.7,213.6 771.4,211.5 772.1,209.3 772.8,206.9 773.5,204.5 774.2,202.0 774.9,199.5 775.6,196.9 776.3,194.2 777.0,191.6 777.7,189.0 778.4,186.4 779.1,183.9 779.8,181.6 780.5,179.3 781.2,177.2 781.9,175.4 782.6,173.7 783.3,172.3 784.0,171.2 784.7,170.4 785.4,169.8 786.1,169.6 786.8,169.6 787.5,170.0 788.2,170.7 788.9,171.8 789.6,173.3 790.3,175.0 791.0,177.0 791.7,179.2 792.4,181.7 793.1,184.3 793.8,187.1 794.5,190.1 795.2,193.2 795.9,196.3 796.6,199.5 797.3,202.7 798.0,205.9 798.7,209.0 799.4,212.1 800.1,215.1 800.8,218.0 801.5,220.8 802.2,223.5 802.9,226.1 803.6,228.5 804.3,230.8 805.0,233.0 805.7,235.1 806.4,237.0 807.1,238.8 807.8,240.6 808.5,242.2 809.2,243.8 809.9,245.2 810.6,246.6 811.3,247.9 812.0,249.1 812.7,250.3 813.4,251.4 814.1,252.4 814.8,253.3 815.5,254.2 816.2,255.1 816.9,255.9 817.6,256.7 818.3,257.5 819.0,258.2 819.7,258.9 820.4,259.6 821.1,260.2 821.8,260.8 822.5,261.4 823.2,262.0 823.9,262.6 824.6,263.2 825.3,263.7 826.0,264.2 826.7,264.8 827.4,265.3 828.1,265.8 828.8,266.3 829.5,266.8 830.2,267.3 830.9,267.8 831.6,268.3 832.3,268.7 833.0,269.1 833.7,269.6 834.4,270.0 835.1,270.4 835.8,270.7 836.5,271.1 837.2,271.4 837.9,271.7 838.6,272.0 839.3,272.3 840.0,272.6 840.7,272.9 841.4,273.2 842.1,273.5 842.8,273.8 843.5,274.0 844.2,274.3 844.9,274.6 845.6,274.8 846.3,275.0 847.0,275.3 847.7,275.5 848.4,275.7 849.1,275.9 849.8,276.1 850.5,276.3 851.2,276.5 851.9,276.7 852.6,276.8 853.3,277.0 854.0,277.1 854.7,277.3 855.4,277.4 856.1,277.5 856.8,277.7 857.5,277.8 858.2,277.9 858.9,278.0 859.6,278.2 860.3,278.3 861.0,278.4 861.7,278.5 862.4,278.6 863.1,278.7 863.8,278.9 864.5,279.0 865.2,279.1 865.9,279.2 866.6,279.3 867.3,279.4 868.0,279.4 868.7,279.5 869.4,279.6 870.1,279.7 870.8,279.8 871.5,279.9 872.2,280.0 872.9,280.0 873.6,280.1 874.3,280.2 875.0,280.2 875.7,280.3 876.4,280.4 877.1,280.4 877.8,280.5 878.5,280.5 879.2,280.6 879.9,280.6 880.6,280.7 881.3,280.7 882.0,280.8 882.7,280.8 883.4,280.9 884.1,280.9 884.8,281.0 885.5,281.0 886.2,281.1 886.9,281.1 887.6,281.1 888.3,281.2 889.0,281.2 889.7,281.3 890.4,281.3 891.1,281.4 891.8,281.4 892.5,281.4 893.2,281.5 893.9,281.5 894.6,281.6 895.3,281.6 896.0,281.6 896.7,281.7 897.4,281.7 898.1,281.7 898.8,281.8 899.5,281.8 900.2,281.9 900.9,281.9 901.6,281.9 902.3,282.0 903.0,282.0 903.7,282.0 904.4,282.1 905.1,282.1 905.8,282.1 906.5,282.1 907.2,282.2 907.9,282.2 908.6,282.2 909.3,282.3 910.0,282.3 910.7,282.3 911.4,282.3 912.1,282.4 912.8,282.4 913.5,282.4 914.2,282.4 914.9,282.4 915.6,282.5 916.3,282.5 917.0,282.5 917.7,282.5 918.4,282.5 919.1,282.5 919.8,282.6 920.5,282.6 921.2,282.6 921.9,282.6 922.6,282.6 923.3,282.6 924.0,282.6 924.7,282.6 925.4,282.6 926.1,282.6 926.8,282.6" />
<polyline fill="none" stroke="#454545" stroke-width="1.15" stroke-linejoin="round" points="510.3,222.2 511.0,222.2 511.7,222.2 512.4,222.2 513.1,222.2 513.8,222.2 514.5,222.2 515.2,222.2 515.9,222.2 516.6,222.2 517.3,222.2 518.0,222.2 518.7,222.3 519.4,222.3 520.1,222.3 520.8,222.3 521.5,222.3 522.2,222.3 522.9,222.3 523.6,222.3 524.3,222.3 525.0,222.3 525.7,222.4 526.4,222.4 527.1,222.4 527.8,222.4 528.5,222.4 529.2,222.4 529.9,222.4 530.6,222.5 531.3,222.5 532.0,222.5 532.7,222.5 533.4,222.5 534.1,222.5 534.8,222.6 535.5,222.6 536.2,222.6 536.9,222.6 537.6,222.6 538.3,222.6 539.0,222.7 539.7,222.7 540.4,222.7 541.1,222.7 541.8,222.7 542.5,222.8 543.2,222.8 543.9,222.8 544.6,222.8 545.3,222.8 546.0,222.9 546.7,222.9 547.4,222.9 548.1,222.9 548.8,223.0 549.5,223.0 550.2,223.0 550.9,223.0 551.6,223.1 552.3,223.1 553.0,223.1 553.7,223.2 554.4,223.2 555.1,223.2 555.8,223.3 556.5,223.3 557.2,223.4 557.9,223.4 558.6,223.5 559.3,223.5 560.0,223.6 560.7,223.6 561.4,223.7 562.1,223.7 562.8,223.8 563.5,223.8 564.2,223.9 564.9,224.0 565.6,224.0 566.3,224.1 567.0,224.2 567.7,224.2 568.4,224.3 569.1,224.4 569.8,224.4 570.5,224.5 571.2,224.6 571.9,224.7 572.6,224.7 573.3,224.8 574.0,224.9 574.7,225.0 575.4,225.0 576.1,225.1 576.8,225.2 577.5,225.3 578.2,225.4 578.9,225.5 579.6,225.6 580.3,225.7 581.0,225.8 581.7,225.9 582.4,226.1 583.1,226.2 583.8,226.3 584.5,226.4 585.2,226.6 585.9,226.7 586.6,226.8 587.3,227.0 588.0,227.1 588.7,227.2 589.4,227.4 590.1,227.5 590.8,227.7 591.5,227.8 592.2,227.9 592.9,228.1 593.6,228.2 594.3,228.4 595.0,228.5 595.7,228.7 596.4,228.8 597.1,229.0 597.8,229.1 598.5,229.2 599.2,229.4 599.9,229.5 600.6,229.6 601.3,229.8 602.0,229.9 602.7,230.0 603.4,230.2 604.1,230.3 604.8,230.4 605.5,230.5 606.2,230.6 606.9,230.7 607.6,230.9 608.3,231.0 609.0,231.1 609.7,231.2 610.4,231.3 611.1,231.4 611.8,231.6 612.5,231.7 613.2,231.8 613.9,231.9 614.6,232.0 615.3,232.2 616.0,232.3 616.7,232.4 617.4,232.5 618.1,232.6 618.8,232.8 619.5,232.9 620.2,233.0 620.9,233.1 621.6,233.2 622.3,233.3 623.0,233.4 623.7,233.6 624.4,233.7 625.1,233.8 625.8,233.9 626.5,234.0 627.2,234.1 627.9,234.2 628.6,234.3 629.3,234.4 630.0,234.5 630.7,234.6 631.4,234.7 632.1,234.7 632.8,234.8 633.5,234.9 634.2,235.0 634.9,235.1 635.6,235.1 636.3,235.2 637.0,235.3 637.7,235.3 638.4,235.4 639.1,235.4 639.8,235.5 640.5,235.5 641.2,235.6 641.9,235.6 642.6,235.7 643.3,235.7 644.0,235.7 644.7,235.8 645.4,235.8 646.1,235.9 646.8,235.9 647.5,235.9 648.2,236.0 648.9,236.0 649.6,236.0 650.3,236.0 651.0,236.1 651.7,236.1 652.4,236.1 653.1,236.2 653.8,236.2 654.5,236.2 655.2,236.2 655.9,236.3 656.6,236.3 657.3,236.3 658.0,236.3 658.7,236.4 659.4,236.4 660.1,236.4 660.8,236.4 661.5,236.4 662.2,236.5 662.9,236.5 663.6,236.5 664.3,236.5 665.0,236.5 665.7,236.6 666.4,236.6 667.1,236.6 667.8,236.6 668.5,236.6 669.2,236.7 669.9,236.7 670.6,236.7 671.3,236.7 672.0,236.7 672.7,236.7 673.4,236.8 674.1,236.8 674.8,236.8 675.5,236.8 676.2,236.8 676.9,236.8 677.6,236.9 678.3,236.9 679.0,236.9 679.7,236.9 680.4,236.9 681.1,236.9 681.8,237.0 682.5,237.0 683.2,237.0 683.9,237.0 684.6,237.0 685.3,237.1 686.0,237.1 686.7,237.1 687.4,237.1 688.1,237.1 688.8,237.2 689.5,237.2 690.2,237.2 690.9,237.2 691.6,237.3 692.3,237.3 693.0,237.3 693.7,237.3 694.4,237.3 695.1,237.4 695.8,237.4 696.5,237.4 697.2,237.4 697.9,237.4 698.6,237.5 699.3,237.5 700.0,237.5 700.7,237.5 701.4,237.5 702.1,237.6 702.8,237.6 703.5,237.6 704.2,237.6 704.9,237.6 705.6,237.7 706.3,237.7 707.0,237.7 707.7,237.7 708.4,237.8 709.1,237.8 709.8,237.8 710.5,237.8 711.2,237.9 711.9,237.9 712.6,237.9 713.3,238.0 714.0,238.0 714.7,238.0 715.4,238.1 716.1,238.1 716.8,238.2 717.5,238.2 718.2,238.2 718.9,238.3 719.6,238.3 720.3,238.4 721.0,238.4 721.7,238.5 722.4,238.5 723.1,238.6 723.8,238.7 724.5,238.8 725.2,238.9 725.9,239.1 726.6,239.2 727.3,239.4 728.0,239.6 728.7,239.8 729.4,240.0 730.1,240.2 730.8,240.4 731.5,240.7 732.2,240.9 732.9,241.2 733.6,241.5 734.3,241.7 735.0,242.0 735.7,242.3 736.4,242.6 737.1,242.9 737.8,243.2 738.5,243.5 739.2,243.8 739.9,244.1 740.6,244.4 741.3,244.7 742.0,245.1 742.7,245.4 743.4,245.7 744.1,246.0 744.8,246.4 745.5,246.7 746.2,247.1 746.9,247.5 747.6,247.9 748.3,248.3 749.0,248.8 749.7,249.2 750.4,249.7 751.1,250.2 751.8,250.7 752.5,251.1 753.2,251.6 753.9,252.1 754.6,252.6 755.3,253.1 756.0,253.7 756.7,254.2 757.4,254.7 758.1,255.2 758.8,255.7 759.5,256.2 760.2,256.7 760.9,257.2 761.6,257.7 762.3,258.2 763.0,258.7 763.7,259.2 764.4,259.6 765.1,260.1 765.8,260.5 766.5,261.0 767.2,261.4 767.9,261.9 768.6,262.4 769.3,262.9 770.0,263.3 770.7,263.8 771.4,264.3 772.1,264.8 772.8,265.3 773.5,265.7 774.2,266.2 774.9,266.7 775.6,267.2 776.3,267.6 777.0,268.1 777.7,268.5 778.4,269.0 779.1,269.4 779.8,269.8 780.5,270.2 781.2,270.6 781.9,271.0 782.6,271.4 783.3,271.8 784.0,272.1 784.7,272.4 785.4,272.7 786.1,273.0 786.8,273.3 787.5,273.6 788.2,273.9 788.9,274.2 789.6,274.5 790.3,274.7 791.0,275.0 791.7,275.3 792.4,275.5 793.1,275.8 793.8,276.1 794.5,276.3 795.2,276.6 795.9,276.8 796.6,277.0 797.3,277.3 798.0,277.5 798.7,277.7 799.4,277.9 800.1,278.1 800.8,278.3 801.5,278.5 802.2,278.6 802.9,278.8 803.6,278.9 804.3,279.1 805.0,279.2 805.7,279.3 806.4,279.4 807.1,279.5 807.8,279.6 808.5,279.7 809.2,279.8 809.9,279.9 810.6,279.9 811.3,280.0 812.0,280.1 812.7,280.2 813.4,280.2 814.1,280.3 814.8,280.4 815.5,280.4 816.2,280.5 816.9,280.6 817.6,280.6 818.3,280.7 819.0,280.7 819.7,280.8 820.4,280.9 821.1,280.9 821.8,281.0 822.5,281.0 823.2,281.1 823.9,281.1 824.6,281.2 825.3,281.2 826.0,281.3 826.7,281.3 827.4,281.4 828.1,281.4 828.8,281.4 829.5,281.5 830.2,281.5 830.9,281.6 831.6,281.6 832.3,281.6 833.0,281.7 833.7,281.7 834.4,281.7 835.1,281.8 835.8,281.8 836.5,281.8 837.2,281.9 837.9,281.9 838.6,281.9 839.3,282.0 840.0,282.0 840.7,282.0 841.4,282.1 842.1,282.1 842.8,282.1 843.5,282.2 844.2,282.2 844.9,282.2 845.6,282.2 846.3,282.3 847.0,282.3 847.7,282.3 848.4,282.4 849.1,282.4 849.8,282.4 850.5,282.4 851.2,282.5 851.9,282.5 852.6,282.5 853.3,282.5 854.0,282.6 854.7,282.6 855.4,282.6 856.1,282.6 856.8,282.7 857.5,282.7 858.2,282.7 858.9,282.7 859.6,282.8 860.3,282.8 861.0,282.8 861.7,282.8 862.4,282.8 863.1,282.9 863.8,282.9 864.5,282.9 865.2,282.9 865.9,282.9 866.6,283.0 867.3,283.0 868.0,283.0 868.7,283.0 869.4,283.0 870.1,283.0 870.8,283.1 871.5,283.1 872.2,283.1 872.9,283.1 873.6,283.1 874.3,283.1 875.0,283.1 875.7,283.1 876.4,283.2 877.1,283.2 877.8,283.2 878.5,283.2 879.2,283.2 879.9,283.2 880.6,283.2 881.3,283.2 882.0,283.2 882.7,283.2 883.4,283.2 884.1,283.2 884.8,283.2 885.5,283.3 886.2,283.3 886.9,283.3 887.6,283.3 888.3,283.3 889.0,283.3 889.7,283.3 890.4,283.3 891.1,283.3 891.8,283.3 892.5,283.3 893.2,283.3 893.9,283.3 894.6,283.3 895.3,283.3 896.0,283.4 896.7,283.4 897.4,283.4 898.1,283.4 898.8,283.4 899.5,283.4 900.2,283.4 900.9,283.4 901.6,283.4 902.3,283.4 903.0,283.4 903.7,283.4 904.4,283.4 905.1,283.4 905.8,283.4 906.5,283.4 907.2,283.4 907.9,283.4 908.6,283.4 909.3,283.4 910.0,283.4 910.7,283.5 911.4,283.5 912.1,283.5 912.8,283.5 913.5,283.5 914.2,283.5 914.9,283.5 915.6,283.5 916.3,283.5 917.0,283.5 917.7,283.5 918.4,283.5 919.1,283.5 919.8,283.5 920.5,283.5 921.2,283.5 921.9,283.5 922.6,283.5 923.3,283.5 924.0,283.5 924.7,283.5 925.4,283.5 926.1,283.5 926.8,283.5" />
<polyline fill="none" stroke="#111" stroke-width="2.0" stroke-linejoin="round" points="510.3,222.2 511.0,222.2 511.7,222.2 512.4,222.2 513.1,222.2 513.8,222.2 514.5,222.2 515.2,222.2 515.9,222.2 516.6,222.2 517.3,222.2 518.0,222.2 518.7,222.3 519.4,222.3 520.1,222.3 520.8,222.3 521.5,222.3 522.2,222.3 522.9,222.3 523.6,222.3 524.3,222.3 525.0,222.3 525.7,222.4 526.4,222.4 527.1,222.4 527.8,222.4 528.5,222.4 529.2,222.4 529.9,222.4 530.6,222.5 531.3,222.5 532.0,222.5 532.7,222.5 533.4,222.5 534.1,222.5 534.8,222.6 535.5,222.6 536.2,222.6 536.9,222.6 537.6,222.6 538.3,222.6 539.0,222.7 539.7,222.7 540.4,222.7 541.1,222.7 541.8,222.7 542.5,222.8 543.2,222.8 543.9,222.8 544.6,222.8 545.3,222.8 546.0,222.9 546.7,222.9 547.4,222.9 548.1,222.9 548.8,223.0 549.5,223.0 550.2,223.0 550.9,223.0 551.6,223.1 552.3,223.1 553.0,223.1 553.7,223.2 554.4,223.2 555.1,223.2 555.8,223.3 556.5,223.3 557.2,223.4 557.9,223.4 558.6,223.5 559.3,223.5 560.0,223.6 560.7,223.6 561.4,223.7 562.1,223.7 562.8,223.8 563.5,223.8 564.2,223.9 564.9,224.0 565.6,224.0 566.3,224.1 567.0,224.2 567.7,224.2 568.4,224.3 569.1,224.4 569.8,224.4 570.5,224.5 571.2,224.6 571.9,224.7 572.6,224.7 573.3,224.8 574.0,224.9 574.7,225.0 575.4,225.0 576.1,225.1 576.8,225.2 577.5,225.3 578.2,225.4 578.9,225.5 579.6,225.6 580.3,225.7 581.0,225.8 581.7,225.9 582.4,226.1 583.1,226.2 583.8,226.3 584.5,226.4 585.2,226.6 585.9,226.7 586.6,226.8 587.3,227.0 588.0,227.1 588.7,227.2 589.4,227.4 590.1,227.5 590.8,227.7 591.5,227.8 592.2,227.9 592.9,228.1 593.6,228.2 594.3,228.4 595.0,228.5 595.7,228.7 596.4,228.8 597.1,229.0 597.8,229.1 598.5,229.2 599.2,229.4 599.9,229.5 600.6,229.6 601.3,229.8 602.0,229.9 602.7,230.0 603.4,230.2 604.1,230.3 604.8,230.4 605.5,230.5 606.2,230.6 606.9,230.7 607.6,230.9 608.3,231.0 609.0,231.1 609.7,231.2 610.4,231.3 611.1,231.4 611.8,231.6 612.5,231.7 613.2,231.8 613.9,231.9 614.6,232.0 615.3,232.2 616.0,232.3 616.7,232.4 617.4,232.5 618.1,232.6 618.8,232.8 619.5,232.9 620.2,233.0 620.9,233.1 621.6,233.2 622.3,233.3 623.0,233.4 623.7,233.6 624.4,233.7 625.1,233.8 625.8,233.9 626.5,234.0 627.2,234.1 627.9,234.2 628.6,234.3 629.3,234.4 630.0,234.5 630.7,234.6 631.4,234.7 632.1,234.7 632.8,234.8 633.5,234.9 634.2,235.0 634.9,235.1 635.6,235.1 636.3,235.2 637.0,235.3 637.7,235.3 638.4,235.4 639.1,235.4 639.8,235.5 640.5,235.5 641.2,235.6 641.9,235.6 642.6,235.7 643.3,235.7 644.0,235.7 644.7,235.8 645.4,235.8 646.1,235.9 646.8,235.9 647.5,235.9 648.2,236.0 648.9,236.0 649.6,236.0 650.3,236.0 651.0,236.1 651.7,236.1 652.4,236.1 653.1,236.2 653.8,236.2 654.5,236.2 655.2,236.2 655.9,236.3 656.6,236.3 657.3,236.3 658.0,236.3 658.7,236.4 659.4,236.4 660.1,236.4 660.8,236.4 661.5,236.4 662.2,236.5 662.9,236.5 663.6,236.5 664.3,236.5 665.0,236.5 665.7,236.6 666.4,236.6 667.1,236.6 667.8,236.6 668.5,236.6 669.2,236.7 669.9,236.7 670.6,236.7 671.3,236.7 672.0,236.7 672.7,236.7 673.4,236.8 674.1,236.8 674.8,236.8 675.5,236.8 676.2,236.8 676.9,236.8 677.6,236.9 678.3,236.9 679.0,236.9 679.7,236.9 680.4,236.9 681.1,236.9 681.8,237.0 682.5,237.0 683.2,237.0 683.9,237.0 684.6,237.0 685.3,237.1 686.0,237.1 686.7,237.1 687.4,237.1 688.1,237.1 688.8,237.2 689.5,237.2 690.2,237.2 690.9,237.2 691.6,237.3 692.3,237.3 693.0,237.3 693.7,237.3 694.4,237.3 695.1,237.4 695.8,237.4 696.5,237.4 697.2,237.4 697.9,237.4 698.6,237.5 699.3,237.5 700.0,237.5 700.7,237.5 701.4,237.5 702.1,237.6 702.8,237.6 703.5,237.6 704.2,237.6 704.9,237.6 705.6,237.7 706.3,237.7 707.0,237.7 707.7,237.7 708.4,237.8 709.1,237.8 709.8,237.8 710.5,237.8 711.2,237.9 711.9,237.9 712.6,237.9 713.3,238.0 714.0,238.0 714.7,238.0 715.4,238.1 716.1,238.1 716.8,238.2 717.5,238.2 718.2,238.2 718.9,238.3 719.6,238.3 720.3,238.4 721.0,238.4 721.7,238.5" />
<polyline fill="none" stroke="#0a0a0a" stroke-width="2.4" stroke-linejoin="round" points="510.3,222.1 511.0,222.1 511.7,222.1 512.4,222.1 513.1,222.1 513.8,222.1 514.5,222.1 515.2,222.1 515.9,222.1 516.6,222.0 517.3,222.0 518.0,222.0 518.7,222.0 519.4,222.0 520.1,221.9 520.8,221.9 521.5,221.9 522.2,221.9 522.9,221.8 523.6,221.8 524.3,221.7 525.0,221.7 525.7,221.6 526.4,221.5 527.1,221.5 527.8,221.4 528.5,221.3 529.2,221.2 529.9,221.1 530.6,221.0 531.3,220.9 532.0,220.7 532.7,220.6 533.4,220.4 534.1,220.3 534.8,220.1 535.5,219.9 536.2,219.7 536.9,219.5 537.6,219.2 538.3,219.0 539.0,218.7 539.7,218.4 540.4,218.1 541.1,217.7 541.8,217.4 542.5,217.0 543.2,216.6 543.9,216.2 544.6,215.8 545.3,215.3 546.0,214.8 546.7,214.3 547.4,213.8 548.1,213.2 548.8,212.6 549.5,212.0 550.2,211.4 550.9,210.7 551.6,210.0 552.3,209.3 553.0,208.6 553.7,207.8 554.4,207.0 555.1,206.3 555.8,205.4 556.5,204.6 557.2,203.8 557.9,202.9 558.6,202.0 559.3,201.1 560.0,200.2 560.7,199.3 561.4,198.4 562.1,197.4 562.8,196.5 563.5,195.5 564.2,194.6 564.9,193.7 565.6,192.7 566.3,191.8 567.0,190.8 567.7,189.9 568.4,189.0 569.1,188.1 569.8,187.2 570.5,186.4 571.2,185.5 571.9,184.7 572.6,183.9 573.3,183.1 574.0,182.4 574.7,181.7 575.4,181.0 576.1,180.4 576.8,179.8 577.5,179.3 578.2,178.8 578.9,178.3 579.6,177.9 580.3,177.5 581.0,177.2 581.7,176.9 582.4,176.7 583.1,176.5 583.8,176.4 584.5,176.3 585.2,176.3 585.9,176.3 586.6,176.4 587.3,176.6 588.0,176.8 588.7,177.0 589.4,177.3 590.1,177.7 590.8,178.1 591.5,178.6 592.2,179.0 592.9,179.6 593.6,180.1 594.3,180.7 595.0,181.3 595.7,182.0 596.4,182.6 597.1,183.3 597.8,184.0 598.5,184.6 599.2,185.3 599.9,186.0 600.6,186.7 601.3,187.4 602.0,188.1 602.7,188.7 603.4,189.4 604.1,190.0 604.8,190.6 605.5,191.2 606.2,191.8 606.9,192.4 607.6,193.0 608.3,193.5 609.0,194.1 609.7,194.6 610.4,195.1 611.1,195.6 611.8,196.1 612.5,196.6 613.2,197.1 613.9,197.6 614.6,198.1 615.3,198.5 616.0,199.0 616.7,199.5 617.4,200.0 618.1,200.4 618.8,200.9 619.5,201.4 620.2,201.9 620.9,202.4 621.6,202.9 622.3,203.5 623.0,204.0 623.7,204.6 624.4,205.2 625.1,205.8 625.8,206.4 626.5,207.0 627.2,207.7 627.9,208.4 628.6,209.0 629.3,209.7 630.0,210.5 630.7,211.2 631.4,211.9 632.1,212.7 632.8,213.4 633.5,214.2 634.2,214.9 634.9,215.7 635.6,216.4 636.3,217.2 637.0,217.9 637.7,218.6 638.4,219.4 639.1,220.1 639.8,220.8 640.5,221.5 641.2,222.1 641.9,222.8 642.6,223.4 643.3,224.0 644.0,224.6 644.7,225.2 645.4,225.7 646.1,226.3 646.8,226.8 647.5,227.3 648.2,227.8 648.9,228.2 649.6,228.6 650.3,229.0 651.0,229.4 651.7,229.8 652.4,230.1 653.1,230.4 653.8,230.7 654.5,231.0 655.2,231.3 655.9,231.5 656.6,231.7 657.3,231.9 658.0,232.1 658.7,232.3 659.4,232.5 660.1,232.6 660.8,232.8 661.5,232.9 662.2,233.0 662.9,233.1 663.6,233.2 664.3,233.3 665.0,233.4 665.7,233.4 666.4,233.5 667.1,233.5 667.8,233.6 668.5,233.6 669.2,233.6 669.9,233.7 670.6,233.7 671.3,233.7 672.0,233.7 672.7,233.7 673.4,233.8 674.1,233.8 674.8,233.8 675.5,233.8 676.2,233.8 676.9,233.8 677.6,233.8 678.3,233.8 679.0,233.8 679.7,233.8 680.4,233.7 681.1,233.7 681.8,233.7 682.5,233.7 683.2,233.7 683.9,233.7 684.6,233.7 685.3,233.7 686.0,233.7 686.7,233.7 687.4,233.7 688.1,233.7 688.8,233.6 689.5,233.6 690.2,233.6 690.9,233.6 691.6,233.6 692.3,233.6 693.0,233.6 693.7,233.6 694.4,233.6 695.1,233.5 695.8,233.5 696.5,233.5 697.2,233.5 697.9,233.5 698.6,233.4 699.3,233.4 700.0,233.4 700.7,233.3 701.4,233.3 702.1,233.2 702.8,233.2 703.5,233.1 704.2,233.0 704.9,232.9 705.6,232.8 706.3,232.6 707.0,232.5 707.7,232.3 708.4,232.1 709.1,231.9 709.8,231.6 710.5,231.3 711.2,231.0 711.9,230.6 712.6,230.2 713.3,229.8 714.0,229.3 714.7,228.7 715.4,228.0 716.1,227.3 716.8,226.5 717.5,225.7 718.2,224.7 718.9,223.6 719.6,222.5 720.3,221.2 721.0,219.8 721.7,218.3 722.4,216.7 723.1,214.9 723.8,213.0 724.5,210.9 725.2,208.7 725.9,206.3 726.6,203.8 727.3,201.1 728.0,198.2 728.7,195.2 729.4,191.9 730.1,188.5 730.8,184.9 731.5,181.2 732.2,177.2 732.9,173.1 733.6,168.9 734.3,164.4 735.0,159.9 735.7,155.2 736.4,150.3 737.1,145.4 737.8,140.4 738.5,135.2 739.2,130.1 739.9,124.8 740.6,119.6 741.3,114.3 742.0,109.1 742.7,103.9 743.4,98.7 744.1,93.7 744.8,88.8 745.5,84.0 746.2,79.4 746.9,74.9 747.6,70.7 748.3,66.7 749.0,63.0 749.7,59.5 750.4,56.3 751.1,53.5 751.8,51.0 752.5,48.8 753.2,47.0 753.9,45.5 754.6,44.4 755.3,43.7 756.0,43.3 756.7,43.5 757.4,44.2 758.1,45.6 758.8,47.5 759.5,50.0 760.2,53.0 760.9,56.4 761.6,60.2 762.3,64.4 763.0,68.8 763.7,73.5 764.4,78.3 765.1,83.2 765.8,88.2 766.5,93.2 767.2,98.1 767.9,103.0 768.6,107.7 769.3,112.2 770.0,116.5 770.7,120.5 771.4,124.3 772.1,127.9 772.8,131.1 773.5,134.0 774.2,136.6 774.9,139.0 775.6,141.0 776.3,142.8 777.0,144.3 777.7,145.6 778.4,146.7 779.1,147.6 779.8,148.3 780.5,149.0 781.2,149.6 781.9,150.2 782.6,150.8 783.3,151.5 784.0,152.3 784.7,153.2 785.4,154.2 786.1,155.3 786.8,156.6 787.5,158.1 788.2,159.9 788.9,161.9 789.6,164.1 790.3,166.6 791.0,169.2 791.7,172.1 792.4,175.0 793.1,178.1 793.8,181.4 794.5,184.7 795.2,188.1 795.9,191.5 796.6,195.0 797.3,198.4 798.0,201.8 798.7,205.1 799.4,208.3 800.1,211.5 800.8,214.6 801.5,217.5 802.2,220.3 802.9,223.0 803.6,225.5 804.3,227.9 805.0,230.2 805.7,232.3 806.4,234.4 807.1,236.3 807.8,238.1 808.5,239.8 809.2,241.4 809.9,242.9 810.6,244.4 811.3,245.7 812.0,247.0 812.7,248.2 813.4,249.3 814.1,250.4 814.8,251.4 815.5,252.3 816.2,253.2 816.9,254.1 817.6,254.9 818.3,255.7 819.0,256.5 819.7,257.2 820.4,257.9 821.1,258.6 821.8,259.3 822.5,259.9 823.2,260.5 823.9,261.1 824.6,261.7 825.3,262.3 826.0,262.8 826.7,263.4 827.4,263.9 828.1,264.5 828.8,265.0 829.5,265.5 830.2,266.1 830.9,266.6 831.6,267.0 832.3,267.5 833.0,268.0 833.7,268.4 834.4,268.8 835.1,269.3 835.8,269.6 836.5,270.0 837.2,270.4 837.9,270.7 838.6,271.0 839.3,271.3 840.0,271.6 840.7,272.0 841.4,272.3 842.1,272.6 842.8,272.8 843.5,273.1 844.2,273.4 844.9,273.7 845.6,273.9 846.3,274.2 847.0,274.4 847.7,274.7 848.4,274.9 849.1,275.1 849.8,275.3 850.5,275.5 851.2,275.7 851.9,275.9 852.6,276.1 853.3,276.2 854.0,276.4 854.7,276.5 855.4,276.7 856.1,276.8 856.8,277.0 857.5,277.1 858.2,277.3 858.9,277.4 859.6,277.5 860.3,277.6 861.0,277.8 861.7,277.9 862.4,278.0 863.1,278.1 863.8,278.2 864.5,278.4 865.2,278.5 865.9,278.6 866.6,278.7 867.3,278.8 868.0,278.9 868.7,279.0 869.4,279.1 870.1,279.2 870.8,279.3 871.5,279.3 872.2,279.4 872.9,279.5 873.6,279.6 874.3,279.7 875.0,279.7 875.7,279.8 876.4,279.9 877.1,279.9 877.8,280.0 878.5,280.1 879.2,280.1 879.9,280.2 880.6,280.2 881.3,280.3 882.0,280.3 882.7,280.4 883.4,280.4 884.1,280.5 884.8,280.5 885.5,280.6 886.2,280.6 886.9,280.7 887.6,280.7 888.3,280.8 889.0,280.8 889.7,280.9 890.4,280.9 891.1,281.0 891.8,281.0 892.5,281.1 893.2,281.1 893.9,281.1 894.6,281.2 895.3,281.2 896.0,281.3 896.7,281.3 897.4,281.4 898.1,281.4 898.8,281.4 899.5,281.5 900.2,281.5 900.9,281.6 901.6,281.6 902.3,281.6 903.0,281.7 903.7,281.7 904.4,281.7 905.1,281.8 905.8,281.8 906.5,281.8 907.2,281.9 907.9,281.9 908.6,281.9 909.3,282.0 910.0,282.0 910.7,282.0 911.4,282.0 912.1,282.1 912.8,282.1 913.5,282.1 914.2,282.1 914.9,282.2 915.6,282.2 916.3,282.2 917.0,282.2 917.7,282.2 918.4,282.3 919.1,282.3 919.8,282.3 920.5,282.3 921.2,282.3 921.9,282.3 922.6,282.3 923.3,282.4 924.0,282.4 924.7,282.4 925.4,282.4 926.1,282.4 926.8,282.4" />
<text x="577.20" y="156.80" style="font-family:'Liberation Sans',sans-serif;font-weight:bold;font-size:16px" text-anchor="start" textLength="31.00" lengthAdjust="spacingAndGlyphs" stroke="#000" stroke-width="0.45" >V2p</text>
<text x="608.80" y="163.20" style="font-family:'Liberation Sans',sans-serif;font-weight:bold;font-size:11px" text-anchor="start" textLength="13.20" lengthAdjust="spacingAndGlyphs" stroke="#000" stroke-width="0.45" >1/2</text>
<text x="750.00" y="30.00" style="font-family:'Liberation Sans',sans-serif;font-weight:bold;font-size:16px" text-anchor="start" textLength="31.00" lengthAdjust="spacingAndGlyphs" stroke="#000" stroke-width="0.45" >V2p</text>
<text x="781.20" y="36.80" style="font-family:'Liberation Sans',sans-serif;font-weight:bold;font-size:11px" text-anchor="start" textLength="14.20" lengthAdjust="spacingAndGlyphs" stroke="#000" stroke-width="0.45" >3/2</text>
<text x="703.20" y="175.60" style="font-family:'Liberation Sans',sans-serif;font-weight:bold;font-size:16px" text-anchor="start" textLength="11.00" lengthAdjust="spacingAndGlyphs" stroke="#000" stroke-width="0.45" >V</text>
<text x="715.20" y="166.50" style="font-family:'Liberation Sans',sans-serif;font-weight:bold;font-size:12px" text-anchor="start" textLength="14.20" lengthAdjust="spacingAndGlyphs" stroke="#000" stroke-width="0.45" >5+</text>
<line x1="720.9" y1="170.7" x2="747" y2="181" stroke="#111" stroke-width="1.2"/>
<polygon points="745.2,177.8 743.6,182.4 752.6,183.2" fill="#111"/>
<text x="816.60" y="210.60" style="font-family:'Liberation Sans',sans-serif;font-weight:bold;font-size:16px" text-anchor="start" textLength="11.00" lengthAdjust="spacingAndGlyphs" stroke="#000" stroke-width="0.45" >V</text>
<text x="828.30" y="202.60" style="font-family:'Liberation Sans',sans-serif;font-weight:bold;font-size:12px" text-anchor="start" textLength="14.20" lengthAdjust="spacingAndGlyphs" stroke="#000" stroke-width="0.45" >4+</text>
<line x1="809.6" y1="208.7" x2="792" y2="221.5" stroke="#111" stroke-width="1.2"/>
<polygon points="790,218.5 793.6,222.8 786.8,225.6" fill="#111"/>
<polyline fill="none" stroke="#a0a0a0" stroke-width="1.1" stroke-linejoin="round" points="44.0,636.4 44.7,636.0 45.4,636.9 46.1,638.5 46.8,640.5 47.5,642.7 48.2,645.1 48.9,646.8 49.6,646.7 50.3,644.7 51.0,642.1 51.7,640.5 52.4,640.0 53.1,640.1 53.8,640.1 54.5,640.1 55.2,640.5 55.9,641.1 56.6,641.7 57.3,642.0 58.0,642.3 58.7,643.2 59.4,645.0 60.1,647.0 60.8,648.1 61.5,647.5 62.2,644.9 62.9,641.6 63.6,639.1 64.3,637.9 65.0,637.6 65.7,637.3 66.4,637.1 67.1,637.7 67.8,639.3 68.5,641.4 69.2,642.7 69.9,643.2 70.6,643.6 71.3,644.5 72.0,645.5 72.7,646.2 73.4,646.3 74.1,646.3 74.8,646.5 75.5,646.6 76.2,646.6 76.9,646.2 77.6,645.4 78.3,644.1 79.0,643.2 79.7,643.9 80.4,646.8 81.1,650.5 81.8,653.0 82.5,652.5 83.2,649.1 83.9,644.4 84.6,639.7 85.3,636.1 86.0,633.8 86.7,633.2 87.4,635.1 88.1,639.1 88.8,643.8 89.5,646.7 90.2,646.7 90.9,643.9 91.6,640.1 92.3,637.1 93.0,636.0 93.7,636.9 94.4,638.8 95.1,640.5 95.8,641.7 96.5,642.7 97.2,643.3 97.9,643.0 98.6,641.8 99.3,640.4 100.0,639.6 100.7,639.4 101.4,639.4 102.1,639.4 102.8,639.9 103.5,641.3 104.2,643.6 104.9,646.2 105.6,648.8 106.3,650.5 107.0,650.7 107.7,649.0 108.4,646.5 109.1,644.9 109.8,645.6 110.5,648.7 111.2,652.4 111.9,654.7 112.6,654.7 113.3,652.7 114.0,649.7 114.7,646.5 115.4,643.6 116.1,641.3 116.8,639.7 117.5,638.9 118.2,638.4 118.9,638.2 119.6,638.2 120.3,638.1 121.0,637.9 121.7,637.6 122.4,637.5 123.1,637.7 123.8,637.8 124.5,637.0 125.2,635.5 125.9,634.1 126.6,633.7 127.3,634.5 128.0,635.6 128.7,636.1 129.4,636.0 130.1,635.8 130.8,636.4 131.5,637.9 132.2,639.8 132.9,641.0 133.6,640.9 134.3,639.2 135.0,636.6 135.7,634.4 136.4,633.9 137.1,635.3 137.8,637.5 138.5,638.6 139.2,637.5 139.9,634.5 140.6,631.2 141.3,629.6 142.0,630.3 142.7,632.7 143.4,635.7 144.1,638.6 144.8,641.2 145.5,643.0 146.2,643.0 146.9,640.8 147.6,637.6 148.3,634.6 149.0,633.0 149.7,633.0 150.4,634.2 151.1,636.0 151.8,637.7 152.5,638.4 153.2,637.8 153.9,635.7 154.6,632.8 155.3,630.8 156.0,630.6 156.7,632.0 157.4,633.5 158.1,633.9 158.8,633.4 159.5,632.5 160.2,631.5 160.9,630.4 161.6,629.2 162.3,628.2 163.0,627.3 163.7,626.6 164.4,626.5 165.1,627.5 165.8,629.4 166.5,631.6 167.2,633.3 167.9,633.5 168.6,632.1 169.3,630.0 170.0,628.6 170.7,628.9 171.4,630.0 172.1,630.4 172.8,629.3 173.5,627.5 174.2,626.3 174.9,626.4 175.6,627.1 176.3,627.7 177.0,627.7 177.7,627.0 178.4,626.1 179.1,625.4 179.8,625.5 180.5,626.5 181.2,627.8 181.9,628.2 182.6,626.9 183.3,624.6 184.0,622.4 184.7,621.2 185.4,620.3 186.1,619.0 186.8,617.6 187.5,617.4 188.2,618.9 188.9,621.5 189.6,623.8 190.3,624.8 191.0,624.5 191.7,623.9 192.4,623.7 193.1,624.4 193.8,625.5 194.5,626.1 195.2,625.2 195.9,622.6 196.6,619.4 197.3,617.3 198.0,617.6 198.7,620.3 199.4,624.0 200.1,626.3 200.8,625.7 201.5,622.7 202.2,618.8 202.9,615.4 203.6,613.2 204.3,611.5 205.0,609.4 205.7,606.2 206.4,602.3 207.1,598.9 207.8,597.2 208.5,598.0 209.2,601.0 209.9,605.1 210.6,608.9 211.3,611.7 212.0,613.2 212.7,613.4 213.4,612.5 214.1,610.7 214.8,608.0 215.5,604.7 216.2,601.3 216.9,598.8 217.6,597.8 218.3,598.4 219.0,599.9 219.7,601.9 220.4,604.0 221.1,606.0 221.8,607.0 222.5,606.2 223.2,603.7 223.9,600.5 224.6,597.6 225.3,595.9 226.0,595.3 226.7,595.3 227.4,595.4 228.1,595.4 228.8,595.9 229.5,596.8 230.2,597.4 230.9,596.6 231.6,594.3 232.3,591.2 233.0,589.0 233.7,588.3 234.4,588.8 235.1,589.6 235.8,589.6 236.5,588.8 237.2,588.0 237.9,587.4 238.6,586.9 239.3,585.8 240.0,584.1 240.7,583.0 241.4,583.2 242.1,584.3 242.8,584.8 243.5,583.5 244.2,580.7 244.9,577.9 245.6,576.5 246.3,576.8 247.0,577.9 247.7,578.8 248.4,578.8 249.1,578.1 249.8,576.9 250.5,575.1 251.2,573.2 251.9,571.7 252.6,571.4 253.3,572.3 254.0,574.1 254.7,575.9 255.4,577.7 256.1,579.4 256.8,580.9 257.5,581.4 258.2,580.4 258.9,578.3 259.6,576.2 260.3,574.9 261.0,574.3 261.7,573.7 262.4,572.3 263.1,570.3 263.8,568.9 264.5,569.1 265.2,570.9 265.9,573.2 266.6,574.6 267.3,574.4 268.0,573.2 268.7,572.4 269.4,572.6 270.1,573.9 270.8,575.2 271.5,575.4 272.2,574.7 272.9,573.6 273.6,573.0 274.3,573.1 275.0,573.4 275.7,573.2 276.4,572.8 277.1,572.4 277.8,572.5 278.5,572.5 279.2,571.4 279.9,568.7 280.6,565.2 281.3,562.2 282.0,559.9 282.7,557.7 283.4,555.3 284.1,553.3 284.8,552.6 285.5,553.2 286.2,554.4 286.9,555.6 287.6,556.5 288.3,556.6 289.0,555.9 289.7,554.9 290.4,553.8 291.1,552.1 291.8,548.9 292.5,544.4 293.2,540.1 293.9,537.3 294.6,536.3 295.3,536.1 296.0,535.9 296.7,534.9 297.4,532.8 298.1,529.8 298.8,526.4 299.5,523.2 300.2,520.3 300.9,517.3 301.6,513.9 302.3,510.0 303.0,506.0 303.7,501.9 304.4,498.7 305.1,497.1 305.8,496.9 306.5,496.7 307.2,495.0 307.9,491.2 308.6,486.0 309.3,480.7 310.0,476.5 310.7,473.8 311.4,472.1 312.1,470.4 312.8,467.7 313.5,463.9 314.2,459.1 314.9,453.9 315.6,449.1 316.3,445.5 317.0,443.5 317.7,442.8 318.4,442.4 319.1,441.4 319.8,439.3 320.5,436.3 321.2,433.0 321.9,430.1 322.6,428.2 323.3,427.0 324.0,426.1 324.7,424.8 325.4,423.3 326.1,422.3 326.8,423.1 327.5,426.2 328.2,430.5 328.9,434.7 329.6,437.4 330.3,438.0 331.0,436.4 331.7,434.0 332.4,432.3 333.1,432.5 333.8,434.7 334.5,438.2 335.2,441.8 335.9,445.3 336.6,448.4 337.3,451.3 338.0,453.6 338.7,455.4 339.4,456.8 340.1,458.6 340.8,461.4 341.5,465.4 342.2,470.0 342.9,474.6 343.6,478.9 344.3,482.4 345.0,485.0 345.7,487.4 346.4,490.8 347.1,495.9 347.8,502.5 348.5,509.1 349.2,514.6 349.9,518.5 350.6,521.4 351.3,523.7 352.0,526.1 352.7,528.8 353.4,532.3 354.1,536.5 354.8,540.8 355.5,544.9 356.2,549.2 356.9,554.5 357.6,560.4 358.3,565.4 359.0,568.1 359.7,568.8 360.4,569.3 361.1,571.0 361.8,574.5 362.5,579.0 363.2,583.5 363.9,586.9 364.6,588.6 365.3,589.2 366.0,589.6 366.7,591.0 367.4,593.8 368.1,598.0 368.8,603.3 369.5,609.1 370.2,615.1 370.9,620.5 371.6,624.6 372.3,626.5 373.0,626.7 373.7,626.7 374.4,628.2 375.1,631.9 375.8,636.9 376.5,642.0 377.2,645.3 377.9,646.2 378.6,644.6 379.3,641.5 380.0,638.6 380.7,637.3 381.4,638.6 382.1,642.1 382.8,647.1 383.5,652.2 384.2,656.1 384.9,658.0 385.6,658.1 386.3,657.0 387.0,656.0 387.7,655.5 388.4,656.1 389.1,657.7 389.8,660.1 390.5,662.2 391.2,663.0 391.9,662.0 392.6,660.0 393.3,658.2 394.0,657.6 394.7,658.5 395.4,660.3 396.1,662.2 396.8,663.4 397.5,663.6 398.2,663.6 398.9,664.3 399.6,666.1 400.3,668.4 401.0,670.6 401.7,672.3 402.4,673.2 403.1,673.0 403.8,671.5 404.5,669.1 405.2,666.7 405.9,665.1 406.6,664.6 407.3,665.0 408.0,665.6 408.7,665.6 409.4,664.9 410.1,663.8 410.8,663.3 411.5,663.9 412.2,665.0 412.9,666.2 413.6,667.1 414.3,667.7 415.0,668.0 415.7,667.3 416.4,665.9 417.1,664.5 417.8,664.0 418.5,664.2 419.2,664.2 419.9,662.6 420.6,659.4 421.3,655.9 422.0,653.9 422.7,654.5 423.4,657.1 424.1,660.5 424.8,663.1 425.5,664.1 426.2,663.6 426.9,662.3 427.6,661.4 428.3,661.4 429.0,662.3 429.7,663.8 430.4,665.7 431.1,667.3 431.8,668.3 432.5,668.9 433.2,669.6 433.9,670.4 434.6,671.0 435.3,671.5 436.0,672.1 436.7,672.7 437.4,672.6 438.1,671.5 438.8,670.1 439.5,669.8 440.2,671.4 440.9,673.8 441.6,675.6 442.3,675.8 443.0,674.5 443.7,672.4 444.4,670.3 445.1,668.9 445.8,668.4 446.5,667.8 447.2,666.5 447.9,664.3 448.6,662.4 449.3,661.6 450.0,662.0 450.7,662.9 451.4,663.9 452.1,664.9 452.8,666.4 453.5,668.0 454.2,668.9 454.9,668.8 455.6,667.7 456.3,666.5 457.0,665.9 457.7,665.6 458.4,664.8 459.1,662.8 459.8,660.7 460.5,659.8" />
<polyline fill="none" stroke="#505050" stroke-width="1.2" stroke-linejoin="round" points="44.0,641.5 44.7,641.5 45.4,641.5 46.1,641.5 46.8,641.5 47.5,641.5 48.2,641.5 48.9,641.5 49.6,641.5 50.3,641.5 51.0,641.5 51.7,641.5 52.4,641.5 53.1,641.5 53.8,641.5 54.5,641.5 55.2,641.5 55.9,641.5 56.6,641.5 57.3,641.5 58.0,641.5 58.7,641.5 59.4,641.5 60.1,641.5 60.8,641.5 61.5,641.5 62.2,641.5 62.9,641.5 63.6,641.6 64.3,641.6 65.0,641.6 65.7,641.6 66.4,641.6 67.1,641.6 67.8,641.6 68.5,641.6 69.2,641.6 69.9,641.6 70.6,641.6 71.3,641.6 72.0,641.6 72.7,641.6 73.4,641.6 74.1,641.6 74.8,641.6 75.5,641.6 76.2,641.6 76.9,641.6 77.6,641.6 78.3,641.6 79.0,641.6 79.7,641.6 80.4,641.6 81.1,641.6 81.8,641.6 82.5,641.6 83.2,641.6 83.9,641.6 84.6,641.6 85.3,641.6 86.0,641.6 86.7,641.6 87.4,641.6 88.1,641.6 88.8,641.6 89.5,641.7 90.2,641.7 90.9,641.7 91.6,641.7 92.3,641.7 93.0,641.7 93.7,641.7 94.4,641.7 95.1,641.7 95.8,641.7 96.5,641.7 97.2,641.7 97.9,641.7 98.6,641.7 99.3,641.7 100.0,641.7 100.7,641.7 101.4,641.7 102.1,641.7 102.8,641.7 103.5,641.7 104.2,641.7 104.9,641.7 105.6,641.7 106.3,641.7 107.0,641.7 107.7,641.8 108.4,641.8 109.1,641.8 109.8,641.8 110.5,641.8 111.2,641.8 111.9,641.8 112.6,641.8 113.3,641.8 114.0,641.8 114.7,641.8 115.4,641.8 116.1,641.8 116.8,641.8 117.5,641.8 118.2,641.8 118.9,641.8 119.6,641.8 120.3,641.8 121.0,641.8 121.7,641.8 122.4,641.8 123.1,641.9 123.8,641.9 124.5,641.9 125.2,641.9 125.9,641.9 126.6,641.9 127.3,641.9 128.0,641.9 128.7,641.9 129.4,641.9 130.1,641.9 130.8,641.9 131.5,641.9 132.2,641.9 132.9,641.9 133.6,641.9 134.3,641.9 135.0,641.9 135.7,641.9 136.4,641.9 137.1,641.9 137.8,642.0 138.5,642.0 139.2,642.0 139.9,642.0 140.6,642.0 141.3,642.0 142.0,642.0 142.7,642.0 143.4,642.0 144.1,642.0 144.8,642.0 145.5,642.0 146.2,642.0 146.9,642.0 147.6,642.0 148.3,642.0 149.0,642.0 149.7,642.0 150.4,642.0 151.1,642.0 151.8,642.1 152.5,642.1 153.2,642.1 153.9,642.1 154.6,642.1 155.3,642.1 156.0,642.1 156.7,642.1 157.4,642.1 158.1,642.1 158.8,642.1 159.5,642.1 160.2,642.1 160.9,642.1 161.6,642.1 162.3,642.1 163.0,642.1 163.7,642.1 164.4,642.1 165.1,642.1 165.8,642.1 166.5,642.2 167.2,642.2 167.9,642.2 168.6,642.2 169.3,642.2 170.0,642.2 170.7,642.2 171.4,642.2 172.1,642.2 172.8,642.2 173.5,642.2 174.2,642.2 174.9,642.2 175.6,642.2 176.3,642.2 177.0,642.2 177.7,642.2 178.4,642.2 179.1,642.2 179.8,642.2 180.5,642.2 181.2,642.2 181.9,642.3 182.6,642.3 183.3,642.3 184.0,642.3 184.7,642.3 185.4,642.3 186.1,642.3 186.8,642.3 187.5,642.3 188.2,642.3 188.9,642.3 189.6,642.3 190.3,642.3 191.0,642.3 191.7,642.3 192.4,642.3 193.1,642.3 193.8,642.3 194.5,642.3 195.2,642.3 195.9,642.3 196.6,642.3 197.3,642.3 198.0,642.4 198.7,642.4 199.4,642.4 200.1,642.4 200.8,642.4 201.5,642.4 202.2,642.4 202.9,642.4 203.6,642.4 204.3,642.4 205.0,642.4 205.7,642.4 206.4,642.4 207.1,642.4 207.8,642.4 208.5,642.4 209.2,642.4 209.9,642.4 210.6,642.4 211.3,642.5 212.0,642.5 212.7,642.5 213.4,642.5 214.1,642.5 214.8,642.5 215.5,642.5 216.2,642.5 216.9,642.5 217.6,642.5 218.3,642.5 219.0,642.5 219.7,642.5 220.4,642.5 221.1,642.5 221.8,642.6 222.5,642.6 223.2,642.6 223.9,642.6 224.6,642.6 225.3,642.6 226.0,642.6 226.7,642.6 227.4,642.6 228.1,642.6 228.8,642.6 229.5,642.6 230.2,642.6 230.9,642.7 231.6,642.7 232.3,642.7 233.0,642.7 233.7,642.7 234.4,642.7 235.1,642.7 235.8,642.7 236.5,642.7 237.2,642.8 237.9,642.8 238.6,642.8 239.3,642.8 240.0,642.8 240.7,642.8 241.4,642.8 242.1,642.8 242.8,642.9 243.5,642.9 244.2,642.9 244.9,642.9 245.6,642.9 246.3,642.9 247.0,642.9 247.7,642.9 248.4,642.9 249.1,642.9 249.8,642.9 250.5,642.9 251.2,642.9 251.9,642.9 252.6,642.9 253.3,642.9 254.0,642.8 254.7,642.8 255.4,642.8 256.1,642.7 256.8,642.7 257.5,642.6 258.2,642.6 258.9,642.5 259.6,642.4 260.3,642.3 261.0,642.2 261.7,642.0 262.4,641.9 263.1,641.8 263.8,641.6 264.5,641.4 265.2,641.2 265.9,641.0 266.6,640.7 267.3,640.5 268.0,640.2 268.7,639.9 269.4,639.6 270.1,639.2 270.8,638.8 271.5,638.4 272.2,637.9 272.9,637.4 273.6,636.9 274.3,636.3 275.0,635.7 275.7,635.1 276.4,634.4 277.1,633.6 277.8,632.8 278.5,632.0 279.2,631.0 279.9,630.1 280.6,629.0 281.3,627.9 282.0,626.7 282.7,625.5 283.4,624.2 284.1,622.8 284.8,621.3 285.5,619.8 286.2,618.2 286.9,616.5 287.6,614.7 288.3,612.8 289.0,610.8 289.7,608.8 290.4,606.7 291.1,604.4 291.8,602.1 292.5,599.7 293.2,597.2 293.9,594.6 294.6,592.0 295.3,589.2 296.0,586.4 296.7,583.5 297.4,580.4 298.1,577.4 298.8,574.2 299.5,571.0 300.2,567.7 300.9,564.3 301.6,560.9 302.3,557.5 303.0,554.0 303.7,550.4 304.4,546.8 305.1,543.2 305.8,539.6 306.5,535.9 307.2,532.3 307.9,528.6 308.6,524.9 309.3,521.3 310.0,517.6 310.7,514.0 311.4,510.4 312.1,506.9 312.8,503.4 313.5,500.0 314.2,496.7 314.9,493.4 315.6,490.2 316.3,487.1 317.0,484.1 317.7,481.2 318.4,478.5 319.1,475.8 319.8,473.3 320.5,471.0 321.2,468.8 321.9,466.8 322.6,464.9 323.3,463.2 324.0,461.6 324.7,460.3 325.4,459.1 326.1,458.2 326.8,457.4 327.5,456.9 328.2,456.5 328.9,456.3 329.6,456.4 330.3,456.6 331.0,457.1 331.7,457.7 332.4,458.5 333.1,459.4 333.8,460.5 334.5,461.8 335.2,463.3 335.9,464.9 336.6,466.7 337.3,468.6 338.0,470.7 338.7,472.9 339.4,475.3 340.1,477.8 340.8,480.4 341.5,483.2 342.2,486.0 342.9,489.0 343.6,492.0 344.3,495.1 345.0,498.4 345.7,501.7 346.4,505.0 347.1,508.5 347.8,512.0 348.5,515.5 349.2,519.1 349.9,522.7 350.6,526.3 351.3,530.0 352.0,533.7 352.7,537.3 353.4,541.0 354.1,544.7 354.8,548.4 355.5,552.0 356.2,555.6 356.9,559.2 357.6,562.8 358.3,566.3 359.0,569.8 359.7,573.3 360.4,576.7 361.1,580.0 361.8,583.3 362.5,586.5 363.2,589.7 363.9,592.8 364.6,595.8 365.3,598.7 366.0,601.6 366.7,604.4 367.4,607.2 368.1,609.8 368.8,612.4 369.5,614.9 370.2,617.3 370.9,619.7 371.6,622.0 372.3,624.1 373.0,626.3 373.7,628.3 374.4,630.2 375.1,632.1 375.8,633.9 376.5,635.7 377.2,637.3 377.9,638.9 378.6,640.4 379.3,641.9 380.0,643.3 380.7,644.6 381.4,645.9 382.1,647.1 382.8,648.2 383.5,649.3 384.2,650.3 384.9,651.3 385.6,652.2 386.3,653.1 387.0,653.9 387.7,654.7 388.4,655.4 389.1,656.1 389.8,656.8 390.5,657.4 391.2,658.0 391.9,658.6 392.6,659.1 393.3,659.6 394.0,660.0 394.7,660.5 395.4,660.9 396.1,661.3 396.8,661.6 397.5,662.0 398.2,662.3 398.9,662.6 399.6,662.8 400.3,663.1 401.0,663.3 401.7,663.5 402.4,663.8 403.1,664.0 403.8,664.1 404.5,664.3 405.2,664.5 405.9,664.6 406.6,664.8 407.3,664.9 408.0,665.0 408.7,665.1 409.4,665.2 410.1,665.3 410.8,665.4 411.5,665.5 412.2,665.6 412.9,665.7 413.6,665.7 414.3,665.8 415.0,665.9 415.7,665.9 416.4,666.0 417.1,666.0 417.8,666.1 418.5,666.1 419.2,666.2 419.9,666.2 420.6,666.3 421.3,666.3 422.0,666.3 422.7,666.4 423.4,666.4 424.1,666.4 424.8,666.5 425.5,666.5 426.2,666.5 426.9,666.5 427.6,666.6 428.3,666.6 429.0,666.6 429.7,666.6 430.4,666.7 431.1,666.7 431.8,666.7 432.5,666.7 433.2,666.7 433.9,666.7 434.6,666.8 435.3,666.8 436.0,666.8 436.7,666.8 437.4,666.8 438.1,666.8 438.8,666.8 439.5,666.9 440.2,666.9 440.9,666.9 441.6,666.9 442.3,666.9 443.0,666.9 443.7,666.9 444.4,667.0 445.1,667.0 445.8,667.0 446.5,667.0 447.2,667.0 447.9,667.0 448.6,667.0 449.3,667.0 450.0,667.0 450.7,667.1 451.4,667.1 452.1,667.1 452.8,667.1 453.5,667.1 454.2,667.1 454.9,667.1 455.6,667.1 456.3,667.1 457.0,667.1 457.7,667.1 458.4,667.1 459.1,667.1 459.8,667.1 460.5,667.2" />
<polyline fill="none" stroke="#505050" stroke-width="1.2" stroke-linejoin="round" points="44.0,641.4 44.7,641.4 45.4,641.4 46.1,641.4 46.8,641.4 47.5,641.4 48.2,641.4 48.9,641.4 49.6,641.4 50.3,641.4 51.0,641.4 51.7,641.4 52.4,641.4 53.1,641.4 53.8,641.4 54.5,641.4 55.2,641.4 55.9,641.4 56.6,641.4 57.3,641.4 58.0,641.4 58.7,641.4 59.4,641.4 60.1,641.4 60.8,641.4 61.5,641.4 62.2,641.4 62.9,641.4 63.6,641.4 64.3,641.4 65.0,641.4 65.7,641.4 66.4,641.4 67.1,641.4 67.8,641.4 68.5,641.4 69.2,641.4 69.9,641.4 70.6,641.4 71.3,641.4 72.0,641.4 72.7,641.4 73.4,641.4 74.1,641.4 74.8,641.4 75.5,641.4 76.2,641.4 76.9,641.4 77.6,641.4 78.3,641.4 79.0,641.4 79.7,641.4 80.4,641.4 81.1,641.4 81.8,641.4 82.5,641.4 83.2,641.4 83.9,641.4 84.6,641.4 85.3,641.4 86.0,641.4 86.7,641.4 87.4,641.4 88.1,641.4 88.8,641.4 89.5,641.4 90.2,641.4 90.9,641.4 91.6,641.4 92.3,641.4 93.0,641.4 93.7,641.4 94.4,641.4 95.1,641.4 95.8,641.4 96.5,641.4 97.2,641.4 97.9,641.4 98.6,641.4 99.3,641.4 100.0,641.4 100.7,641.4 101.4,641.4 102.1,641.3 102.8,641.3 103.5,641.3 104.2,641.3 104.9,641.3 105.6,641.3 106.3,641.3 107.0,641.3 107.7,641.3 108.4,641.3 109.1,641.3 109.8,641.3 110.5,641.2 111.2,641.2 111.9,641.2 112.6,641.2 113.3,641.2 114.0,641.2 114.7,641.2 115.4,641.1 116.1,641.1 116.8,641.1 117.5,641.1 118.2,641.1 118.9,641.0 119.6,641.0 120.3,641.0 121.0,641.0 121.7,640.9 122.4,640.9 123.1,640.9 123.8,640.9 124.5,640.8 125.2,640.8 125.9,640.8 126.6,640.7 127.3,640.7 128.0,640.7 128.7,640.6 129.4,640.6 130.1,640.5 130.8,640.5 131.5,640.5 132.2,640.4 132.9,640.4 133.6,640.3 134.3,640.2 135.0,640.2 135.7,640.1 136.4,640.1 137.1,640.0 137.8,639.9 138.5,639.9 139.2,639.8 139.9,639.7 140.6,639.7 141.3,639.6 142.0,639.5 142.7,639.4 143.4,639.3 144.1,639.3 144.8,639.2 145.5,639.1 146.2,639.0 146.9,638.9 147.6,638.8 148.3,638.7 149.0,638.5 149.7,638.4 150.4,638.3 151.1,638.2 151.8,638.1 152.5,637.9 153.2,637.8 153.9,637.7 154.6,637.5 155.3,637.4 156.0,637.2 156.7,637.1 157.4,636.9 158.1,636.7 158.8,636.6 159.5,636.4 160.2,636.2 160.9,636.0 161.6,635.9 162.3,635.7 163.0,635.5 163.7,635.3 164.4,635.0 165.1,634.8 165.8,634.6 166.5,634.4 167.2,634.2 167.9,633.9 168.6,633.7 169.3,633.4 170.0,633.2 170.7,632.9 171.4,632.7 172.1,632.4 172.8,632.1 173.5,631.8 174.2,631.5 174.9,631.2 175.6,630.9 176.3,630.6 177.0,630.3 177.7,630.0 178.4,629.7 179.1,629.3 179.8,629.0 180.5,628.6 181.2,628.3 181.9,627.9 182.6,627.6 183.3,627.2 184.0,626.8 184.7,626.4 185.4,626.0 186.1,625.6 186.8,625.2 187.5,624.8 188.2,624.4 188.9,624.0 189.6,623.5 190.3,623.1 191.0,622.7 191.7,622.2 192.4,621.8 193.1,621.3 193.8,620.8 194.5,620.4 195.2,619.9 195.9,619.4 196.6,618.9 197.3,618.4 198.0,617.9 198.7,617.4 199.4,616.9 200.1,616.4 200.8,615.8 201.5,615.3 202.2,614.8 202.9,614.2 203.6,613.7 204.3,613.2 205.0,612.6 205.7,612.0 206.4,611.5 207.1,610.9 207.8,610.4 208.5,609.8 209.2,609.2 209.9,608.6 210.6,608.1 211.3,607.5 212.0,606.9 212.7,606.3 213.4,605.7 214.1,605.2 214.8,604.6 215.5,604.0 216.2,603.4 216.9,602.8 217.6,602.2 218.3,601.6 219.0,601.0 219.7,600.4 220.4,599.9 221.1,599.3 221.8,598.7 222.5,598.1 223.2,597.5 223.9,596.9 224.6,596.4 225.3,595.8 226.0,595.2 226.7,594.7 227.4,594.1 228.1,593.5 228.8,593.0 229.5,592.4 230.2,591.9 230.9,591.3 231.6,590.8 232.3,590.3 233.0,589.8 233.7,589.3 234.4,588.8 235.1,588.3 235.8,587.8 236.5,587.3 237.2,586.8 237.9,586.4 238.6,585.9 239.3,585.5 240.0,585.1 240.7,584.6 241.4,584.2 242.1,583.8 242.8,583.5 243.5,583.1 244.2,582.7 244.9,582.4 245.6,582.0 246.3,581.7 247.0,581.4 247.7,581.1 248.4,580.8 249.1,580.5 249.8,580.3 250.5,580.0 251.2,579.8 251.9,579.6 252.6,579.4 253.3,579.2 254.0,579.0 254.7,578.9 255.4,578.7 256.1,578.6 256.8,578.5 257.5,578.4 258.2,578.3 258.9,578.3 259.6,578.2 260.3,578.2 261.0,578.2 261.7,578.2 262.4,578.2 263.1,578.2 263.8,578.3 264.5,578.4 265.2,578.4 265.9,578.5 266.6,578.7 267.3,578.8 268.0,579.0 268.7,579.2 269.4,579.4 270.1,579.6 270.8,579.9 271.5,580.1 272.2,580.4 272.9,580.7 273.6,581.0 274.3,581.4 275.0,581.7 275.7,582.1 276.4,582.5 277.1,582.9 277.8,583.3 278.5,583.7 279.2,584.2 279.9,584.7 280.6,585.1 281.3,585.6 282.0,586.1 282.7,586.7 283.4,587.2 284.1,587.8 284.8,588.3 285.5,588.9 286.2,589.5 286.9,590.1 287.6,590.7 288.3,591.3 289.0,591.9 289.7,592.6 290.4,593.2 291.1,593.9 291.8,594.5 292.5,595.2 293.2,595.9 293.9,596.6 294.6,597.3 295.3,598.0 296.0,598.7 296.7,599.4 297.4,600.1 298.1,600.8 298.8,601.6 299.5,602.3 300.2,603.1 300.9,603.8 301.6,604.6 302.3,605.4 303.0,606.1 303.7,606.9 304.4,607.7 305.1,608.5 305.8,609.3 306.5,610.1 307.2,611.0 307.9,611.8 308.6,612.6 309.3,613.4 310.0,614.2 310.7,615.0 311.4,615.9 312.1,616.7 312.8,617.5 313.5,618.3 314.2,619.1 314.9,619.9 315.6,620.7 316.3,621.5 317.0,622.3 317.7,623.1 318.4,623.9 319.1,624.7 319.8,625.4 320.5,626.2 321.2,627.0 321.9,627.7 322.6,628.4 323.3,629.2 324.0,629.9 324.7,630.6 325.4,631.3 326.1,631.9 326.8,632.6 327.5,633.3 328.2,634.0 328.9,634.6 329.6,635.3 330.3,635.9 331.0,636.6 331.7,637.2 332.4,637.8 333.1,638.4 333.8,639.0 334.5,639.6 335.2,640.2 335.9,640.8 336.6,641.4 337.3,642.0 338.0,642.5 338.7,643.1 339.4,643.6 340.1,644.2 340.8,644.7 341.5,645.2 342.2,645.7 342.9,646.2 343.6,646.7 344.3,647.2 345.0,647.7 345.7,648.1 346.4,648.6 347.1,649.1 347.8,649.5 348.5,649.9 349.2,650.4 349.9,650.8 350.6,651.2 351.3,651.6 352.0,652.0 352.7,652.4 353.4,652.8 354.1,653.1 354.8,653.5 355.5,653.9 356.2,654.2 356.9,654.6 357.6,654.9 358.3,655.2 359.0,655.6 359.7,655.9 360.4,656.2 361.1,656.5 361.8,656.8 362.5,657.1 363.2,657.4 363.9,657.7 364.6,657.9 365.3,658.2 366.0,658.5 366.7,658.7 367.4,659.0 368.1,659.2 368.8,659.5 369.5,659.7 370.2,659.9 370.9,660.1 371.6,660.3 372.3,660.5 373.0,660.8 373.7,660.9 374.4,661.1 375.1,661.3 375.8,661.5 376.5,661.7 377.2,661.8 377.9,662.0 378.6,662.2 379.3,662.3 380.0,662.5 380.7,662.6 381.4,662.8 382.1,662.9 382.8,663.0 383.5,663.2 384.2,663.3 384.9,663.4 385.6,663.5 386.3,663.6 387.0,663.7 387.7,663.9 388.4,664.0 389.1,664.1 389.8,664.2 390.5,664.3 391.2,664.4 391.9,664.5 392.6,664.6 393.3,664.6 394.0,664.7 394.7,664.8 395.4,664.9 396.1,665.0 396.8,665.0 397.5,665.1 398.2,665.2 398.9,665.3 399.6,665.3 400.3,665.4 401.0,665.5 401.7,665.5 402.4,665.6 403.1,665.6 403.8,665.7 404.5,665.8 405.2,665.8 405.9,665.9 406.6,665.9 407.3,666.0 408.0,666.0 408.7,666.1 409.4,666.1 410.1,666.2 410.8,666.2 411.5,666.2 412.2,666.3 412.9,666.3 413.6,666.4 414.3,666.4 415.0,666.4 415.7,666.5 416.4,666.5 417.1,666.5 417.8,666.6 418.5,666.6 419.2,666.6 419.9,666.6 420.6,666.7 421.3,666.7 422.0,666.7 422.7,666.7 423.4,666.8 424.1,666.8 424.8,666.8 425.5,666.8 426.2,666.9 426.9,666.9 427.6,666.9 428.3,666.9 429.0,666.9 429.7,666.9 430.4,667.0 431.1,667.0 431.8,667.0 432.5,667.0 433.2,667.0 433.9,667.0 434.6,667.0 435.3,667.1 436.0,667.1 436.7,667.1 437.4,667.1 438.1,667.1 438.8,667.1 439.5,667.1 440.2,667.1 440.9,667.2 441.6,667.2 442.3,667.2 443.0,667.2 443.7,667.2 444.4,667.2 445.1,667.2 445.8,667.2 446.5,667.2 447.2,667.2 447.9,667.2 448.6,667.3 449.3,667.3 450.0,667.3 450.7,667.3 451.4,667.3 452.1,667.3 452.8,667.3 453.5,667.3 454.2,667.3 454.9,667.3 455.6,667.3 456.3,667.3 457.0,667.3 457.7,667.3 458.4,667.3 459.1,667.3 459.8,667.3 460.5,667.3" />
<polyline fill="none" stroke="#505050" stroke-width="1.2" stroke-linejoin="round" points="44.0,641.6 44.7,641.6 45.4,641.6 46.1,641.6 46.8,641.6 47.5,641.6 48.2,641.6 48.9,641.6 49.6,641.6 50.3,641.6 51.0,641.6 51.7,641.6 52.4,641.6 53.1,641.6 53.8,641.6 54.5,641.6 55.2,641.6 55.9,641.6 56.6,641.6 57.3,641.6 58.0,641.6 58.7,641.6 59.4,641.6 60.1,641.6 60.8,641.6 61.5,641.6 62.2,641.6 62.9,641.6 63.6,641.6 64.3,641.6 65.0,641.6 65.7,641.7 66.4,641.7 67.1,641.7 67.8,641.7 68.5,641.7 69.2,641.7 69.9,641.7 70.6,641.7 71.3,641.7 72.0,641.7 72.7,641.7 73.4,641.7 74.1,641.7 74.8,641.7 75.5,641.7 76.2,641.7 76.9,641.7 77.6,641.7 78.3,641.7 79.0,641.7 79.7,641.7 80.4,641.7 81.1,641.7 81.8,641.7 82.5,641.7 83.2,641.7 83.9,641.7 84.6,641.7 85.3,641.7 86.0,641.7 86.7,641.8 87.4,641.8 88.1,641.8 88.8,641.8 89.5,641.8 90.2,641.8 90.9,641.8 91.6,641.8 92.3,641.8 93.0,641.8 93.7,641.8 94.4,641.8 95.1,641.8 95.8,641.8 96.5,641.8 97.2,641.8 97.9,641.8 98.6,641.8 99.3,641.8 100.0,641.8 100.7,641.8 101.4,641.8 102.1,641.8 102.8,641.9 103.5,641.9 104.2,641.9 104.9,641.9 105.6,641.9 106.3,641.9 107.0,641.9 107.7,641.9 108.4,641.9 109.1,641.9 109.8,641.9 110.5,641.9 111.2,641.9 111.9,641.9 112.6,641.9 113.3,641.9 114.0,641.9 114.7,641.9 115.4,641.9 116.1,641.9 116.8,642.0 117.5,642.0 118.2,642.0 118.9,642.0 119.6,642.0 120.3,642.0 121.0,642.0 121.7,642.0 122.4,642.0 123.1,642.0 123.8,642.0 124.5,642.0 125.2,642.0 125.9,642.0 126.6,642.0 127.3,642.0 128.0,642.0 128.7,642.0 129.4,642.1 130.1,642.1 130.8,642.1 131.5,642.1 132.2,642.1 132.9,642.1 133.6,642.1 134.3,642.1 135.0,642.1 135.7,642.1 136.4,642.1 137.1,642.1 137.8,642.1 138.5,642.1 139.2,642.1 139.9,642.1 140.6,642.1 141.3,642.1 142.0,642.1 142.7,642.2 143.4,642.2 144.1,642.2 144.8,642.2 145.5,642.2 146.2,642.2 146.9,642.2 147.6,642.2 148.3,642.1 149.0,642.1 149.7,642.1 150.4,642.1 151.1,642.1 151.8,642.0 152.5,642.0 153.2,641.9 153.9,641.9 154.6,641.8 155.3,641.7 156.0,641.6 156.7,641.5 157.4,641.3 158.1,641.1 158.8,641.0 159.5,640.7 160.2,640.5 160.9,640.2 161.6,640.0 162.3,639.7 163.0,639.4 163.7,639.1 164.4,638.7 165.1,638.4 165.8,638.1 166.5,637.8 167.2,637.5 167.9,637.2 168.6,637.0 169.3,636.8 170.0,636.6 170.7,636.5 171.4,636.5 172.1,636.5 172.8,636.5 173.5,636.6 174.2,636.7 174.9,636.9 175.6,637.1 176.3,637.4 177.0,637.7 177.7,638.0 178.4,638.3 179.1,638.6 179.8,639.0 180.5,639.3 181.2,639.6 181.9,640.0 182.6,640.3 183.3,640.5 184.0,640.8 184.7,641.1 185.4,641.3 186.1,641.5 186.8,641.7 187.5,641.8 188.2,641.9 188.9,642.1 189.6,642.2 190.3,642.3 191.0,642.3 191.7,642.4 192.4,642.5 193.1,642.5 193.8,642.5 194.5,642.6 195.2,642.6 195.9,642.6 196.6,642.6 197.3,642.7 198.0,642.7 198.7,642.7 199.4,642.7 200.1,642.7 200.8,642.7 201.5,642.7 202.2,642.8 202.9,642.8 203.6,642.8 204.3,642.8 205.0,642.8 205.7,642.8 206.4,642.8 207.1,642.8 207.8,642.8 208.5,642.9 209.2,642.9 209.9,642.9 210.6,642.9 211.3,642.9 212.0,642.9 212.7,642.9 213.4,642.9 214.1,643.0 214.8,643.0 215.5,643.0 216.2,643.0 216.9,643.0 217.6,643.0 218.3,643.0 219.0,643.0 219.7,643.1 220.4,643.1 221.1,643.1 221.8,643.1 222.5,643.1 223.2,643.1 223.9,643.1 224.6,643.2 225.3,643.2 226.0,643.2 226.7,643.2 227.4,643.2 228.1,643.2 228.8,643.3 229.5,643.3 230.2,643.3 230.9,643.3 231.6,643.3 232.3,643.4 233.0,643.4 233.7,643.4 234.4,643.4 235.1,643.4 235.8,643.5 236.5,643.5 237.2,643.5 237.9,643.6 238.6,643.6 239.3,643.6 240.0,643.6 240.7,643.7 241.4,643.7 242.1,643.7 242.8,643.8 243.5,643.8 244.2,643.9 244.9,643.9 245.6,643.9 246.3,644.0 247.0,644.0 247.7,644.1 248.4,644.1 249.1,644.1 249.8,644.2 250.5,644.2 251.2,644.3 251.9,644.3 252.6,644.4 253.3,644.4 254.0,644.5 254.7,644.5 255.4,644.6 256.1,644.6 256.8,644.7 257.5,644.7 258.2,644.8 258.9,644.9 259.6,644.9 260.3,645.0 261.0,645.0 261.7,645.1 262.4,645.2 263.1,645.2 263.8,645.3 264.5,645.3 265.2,645.4 265.9,645.5 266.6,645.6 267.3,645.7 268.0,645.7 268.7,645.8 269.4,645.9 270.1,646.0 270.8,646.1 271.5,646.2 272.2,646.4 272.9,646.5 273.6,646.6 274.3,646.7 275.0,646.8 275.7,647.0 276.4,647.1 277.1,647.2 277.8,647.4 278.5,647.5 279.2,647.7 279.9,647.8 280.6,648.0 281.3,648.1 282.0,648.3 282.7,648.4 283.4,648.6 284.1,648.7 284.8,648.9 285.5,649.1 286.2,649.2 286.9,649.4 287.6,649.5 288.3,649.7 289.0,649.9 289.7,650.0 290.4,650.2 291.1,650.4 291.8,650.5 292.5,650.7 293.2,650.9 293.9,651.0 294.6,651.2 295.3,651.4 296.0,651.5 296.7,651.7 297.4,651.9 298.1,652.0 298.8,652.2 299.5,652.4 300.2,652.5 300.9,652.7 301.6,652.9 302.3,653.1 303.0,653.3 303.7,653.5 304.4,653.7 305.1,653.9 305.8,654.1 306.5,654.3 307.2,654.5 307.9,654.7 308.6,655.0 309.3,655.2 310.0,655.4 310.7,655.6 311.4,655.8 312.1,656.0 312.8,656.2 313.5,656.5 314.2,656.7 314.9,656.9 315.6,657.1 316.3,657.3 317.0,657.5 317.7,657.7 318.4,657.9 319.1,658.1 319.8,658.3 320.5,658.5 321.2,658.6 321.9,658.8 322.6,659.0 323.3,659.1 324.0,659.3 324.7,659.4 325.4,659.6 326.1,659.7 326.8,659.9 327.5,660.0 328.2,660.1 328.9,660.3 329.6,660.4 330.3,660.5 331.0,660.7 331.7,660.8 332.4,660.9 333.1,661.0 333.8,661.2 334.5,661.3 335.2,661.4 335.9,661.5 336.6,661.6 337.3,661.8 338.0,661.9 338.7,662.0 339.4,662.1 340.1,662.2 340.8,662.3 341.5,662.4 342.2,662.5 342.9,662.6 343.6,662.7 344.3,662.8 345.0,662.9 345.7,663.0 346.4,663.1 347.1,663.2 347.8,663.2 348.5,663.3 349.2,663.4 349.9,663.5 350.6,663.6 351.3,663.6 352.0,663.7 352.7,663.8 353.4,663.9 354.1,663.9 354.8,664.0 355.5,664.1 356.2,664.2 356.9,664.2 357.6,664.3 358.3,664.4 359.0,664.4 359.7,664.5 360.4,664.6 361.1,664.6 361.8,664.7 362.5,664.8 363.2,664.8 363.9,664.9 364.6,665.0 365.3,665.0 366.0,665.1 366.7,665.1 367.4,665.2 368.1,665.3 368.8,665.3 369.5,665.4 370.2,665.4 370.9,665.5 371.6,665.5 372.3,665.6 373.0,665.6 373.7,665.7 374.4,665.7 375.1,665.7 375.8,665.8 376.5,665.8 377.2,665.9 377.9,665.9 378.6,665.9 379.3,666.0 380.0,666.0 380.7,666.0 381.4,666.1 382.1,666.1 382.8,666.1 383.5,666.1 384.2,666.2 384.9,666.2 385.6,666.2 386.3,666.3 387.0,666.3 387.7,666.3 388.4,666.3 389.1,666.4 389.8,666.4 390.5,666.4 391.2,666.5 391.9,666.5 392.6,666.5 393.3,666.5 394.0,666.6 394.7,666.6 395.4,666.6 396.1,666.6 396.8,666.7 397.5,666.7 398.2,666.7 398.9,666.7 399.6,666.7 400.3,666.8 401.0,666.8 401.7,666.8 402.4,666.8 403.1,666.9 403.8,666.9 404.5,666.9 405.2,666.9 405.9,666.9 406.6,667.0 407.3,667.0 408.0,667.0 408.7,667.0 409.4,667.0 410.1,667.0 410.8,667.1 411.5,667.1 412.2,667.1 412.9,667.1 413.6,667.1 414.3,667.1 415.0,667.2 415.7,667.2 416.4,667.2 417.1,667.2 417.8,667.2 418.5,667.2 419.2,667.2 419.9,667.3 420.6,667.3 421.3,667.3 422.0,667.3 422.7,667.3 423.4,667.3 424.1,667.3 424.8,667.3 425.5,667.3 426.2,667.4 426.9,667.4 427.6,667.4 428.3,667.4 429.0,667.4 429.7,667.4 430.4,667.4 431.1,667.4 431.8,667.4 432.5,667.4 433.2,667.4 433.9,667.4 434.6,667.4 435.3,667.5 436.0,667.5 436.7,667.5 437.4,667.5 438.1,667.5 438.8,667.5 439.5,667.5 440.2,667.5 440.9,667.5 441.6,667.5 442.3,667.5 443.0,667.5 443.7,667.5 444.4,667.5 445.1,667.5 445.8,667.5 446.5,667.5 447.2,667.5 447.9,667.6 448.6,667.6 449.3,667.6 450.0,667.6 450.7,667.6 451.4,667.6 452.1,667.6 452.8,667.6 453.5,667.6 454.2,667.6 454.9,667.6 455.6,667.6 456.3,667.6 457.0,667.6 457.7,667.6 458.4,667.6 459.1,667.6 459.8,667.6 460.5,667.6" />
<polyline fill="none" stroke="#505050" stroke-width="1.2" stroke-linejoin="round" points="44.0,641.6 44.7,641.6 45.4,641.6 46.1,641.6 46.8,641.6 47.5,641.6 48.2,641.6 48.9,641.6 49.6,641.6 50.3,641.6 51.0,641.6 51.7,641.6 52.4,641.6 53.1,641.6 53.8,641.6 54.5,641.6 55.2,641.6 55.9,641.6 56.6,641.6 57.3,641.6 58.0,641.6 58.7,641.6 59.4,641.6 60.1,641.6 60.8,641.6 61.5,641.6 62.2,641.6 62.9,641.6 63.6,641.6 64.3,641.6 65.0,641.7 65.7,641.7 66.4,641.7 67.1,641.7 67.8,641.7 68.5,641.7 69.2,641.7 69.9,641.7 70.6,641.7 71.3,641.7 72.0,641.7 72.7,641.7 73.4,641.7 74.1,641.7 74.8,641.7 75.5,641.7 76.2,641.7 76.9,641.7 77.6,641.7 78.3,641.7 79.0,641.7 79.7,641.7 80.4,641.7 81.1,641.7 81.8,641.7 82.5,641.7 83.2,641.7 83.9,641.7 84.6,641.7 85.3,641.7 86.0,641.7 86.7,641.8 87.4,641.8 88.1,641.8 88.8,641.8 89.5,641.8 90.2,641.8 90.9,641.8 91.6,641.8 92.3,641.8 93.0,641.8 93.7,641.8 94.4,641.8 95.1,641.8 95.8,641.8 96.5,641.8 97.2,641.8 97.9,641.8 98.6,641.8 99.3,641.8 100.0,641.8 100.7,641.8 101.4,641.8 102.1,641.9 102.8,641.9 103.5,641.9 104.2,641.9 104.9,641.9 105.6,641.9 106.3,641.9 107.0,641.9 107.7,641.9 108.4,641.9 109.1,641.9 109.8,641.9 110.5,641.9 111.2,641.9 111.9,641.9 112.6,641.9 113.3,641.9 114.0,641.9 114.7,641.9 115.4,641.9 116.1,642.0 116.8,642.0 117.5,642.0 118.2,642.0 118.9,642.0 119.6,642.0 120.3,642.0 121.0,642.0 121.7,642.0 122.4,642.0 123.1,642.0 123.8,642.0 124.5,642.0 125.2,642.0 125.9,642.0 126.6,642.0 127.3,642.0 128.0,642.1 128.7,642.1 129.4,642.1 130.1,642.1 130.8,642.1 131.5,642.1 132.2,642.1 132.9,642.1 133.6,642.1 134.3,642.1 135.0,642.1 135.7,642.1 136.4,642.1 137.1,642.1 137.8,642.1 138.5,642.1 139.2,642.2 139.9,642.2 140.6,642.2 141.3,642.2 142.0,642.2 142.7,642.2 143.4,642.2 144.1,642.2 144.8,642.2 145.5,642.2 146.2,642.2 146.9,642.2 147.6,642.2 148.3,642.2 149.0,642.2 149.7,642.2 150.4,642.3 151.1,642.3 151.8,642.3 152.5,642.3 153.2,642.3 153.9,642.3 154.6,642.3 155.3,642.3 156.0,642.3 156.7,642.3 157.4,642.3 158.1,642.3 158.8,642.3 159.5,642.3 160.2,642.3 160.9,642.4 161.6,642.4 162.3,642.4 163.0,642.4 163.7,642.4 164.4,642.4 165.1,642.4 165.8,642.4 166.5,642.4 167.2,642.4 167.9,642.4 168.6,642.4 169.3,642.4 170.0,642.4 170.7,642.4 171.4,642.5 172.1,642.5 172.8,642.5 173.5,642.5 174.2,642.5 174.9,642.5 175.6,642.5 176.3,642.5 177.0,642.5 177.7,642.5 178.4,642.5 179.1,642.5 179.8,642.5 180.5,642.5 181.2,642.6 181.9,642.6 182.6,642.6 183.3,642.6 184.0,642.6 184.7,642.6 185.4,642.6 186.1,642.6 186.8,642.6 187.5,642.6 188.2,642.6 188.9,642.6 189.6,642.6 190.3,642.6 191.0,642.7 191.7,642.7 192.4,642.7 193.1,642.7 193.8,642.7 194.5,642.7 195.2,642.7 195.9,642.7 196.6,642.7 197.3,642.7 198.0,642.7 198.7,642.7 199.4,642.8 200.1,642.8 200.8,642.8 201.5,642.8 202.2,642.8 202.9,642.8 203.6,642.8 204.3,642.8 205.0,642.8 205.7,642.8 206.4,642.8 207.1,642.9 207.8,642.9 208.5,642.9 209.2,642.9 209.9,642.9 210.6,642.9 211.3,642.9 212.0,642.9 212.7,642.9 213.4,643.0 214.1,643.0 214.8,643.0 215.5,643.0 216.2,643.0 216.9,643.0 217.6,643.0 218.3,643.0 219.0,643.1 219.7,643.1 220.4,643.1 221.1,643.1 221.8,643.1 222.5,643.1 223.2,643.1 223.9,643.2 224.6,643.2 225.3,643.2 226.0,643.2 226.7,643.2 227.4,643.2 228.1,643.3 228.8,643.3 229.5,643.3 230.2,643.3 230.9,643.3 231.6,643.3 232.3,643.4 233.0,643.4 233.7,643.4 234.4,643.4 235.1,643.5 235.8,643.5 236.5,643.5 237.2,643.5 237.9,643.6 238.6,643.6 239.3,643.6 240.0,643.7 240.7,643.7 241.4,643.7 242.1,643.8 242.8,643.8 243.5,643.8 244.2,643.9 244.9,643.9 245.6,643.9 246.3,644.0 247.0,644.0 247.7,644.1 248.4,644.1 249.1,644.1 249.8,644.2 250.5,644.2 251.2,644.3 251.9,644.3 252.6,644.4 253.3,644.4 254.0,644.5 254.7,644.5 255.4,644.6 256.1,644.6 256.8,644.7 257.5,644.7 258.2,644.8 258.9,644.9 259.6,644.9 260.3,645.0 261.0,645.0 261.7,645.1 262.4,645.2 263.1,645.2 263.8,645.3 264.5,645.3 265.2,645.4 265.9,645.5 266.6,645.6 267.3,645.7 268.0,645.7 268.7,645.8 269.4,645.9 270.1,646.0 270.8,646.1 271.5,646.2 272.2,646.4 272.9,646.5 273.6,646.6 274.3,646.7 275.0,646.8 275.7,647.0 276.4,647.1 277.1,647.2 277.8,647.4 278.5,647.5 279.2,647.7 279.9,647.8 280.6,648.0 281.3,648.1 282.0,648.3 282.7,648.4 283.4,648.6 284.1,648.7 284.8,648.9 285.5,649.1 286.2,649.2 286.9,649.4 287.6,649.5 288.3,649.7 289.0,649.9 289.7,650.0 290.4,650.2 291.1,650.4 291.8,650.5 292.5,650.7 293.2,650.9 293.9,651.0 294.6,651.2 295.3,651.4 296.0,651.5 296.7,651.7 297.4,651.9 298.1,652.0 298.8,652.2 299.5,652.4 300.2,652.5 300.9,652.7 301.6,652.9 302.3,653.1 303.0,653.3 303.7,653.5 304.4,653.7 305.1,653.9 305.8,654.1 306.5,654.3 307.2,654.5 307.9,654.7 308.6,655.0 309.3,655.2 310.0,655.4 310.7,655.6 311.4,655.8 312.1,656.0 312.8,656.2 313.5,656.5 314.2,656.7 314.9,656.9 315.6,657.1 316.3,657.3 317.0,657.5 317.7,657.7 318.4,657.9 319.1,658.1 319.8,658.3 320.5,658.5 321.2,658.6 321.9,658.8 322.6,659.0 323.3,659.1 324.0,659.3 324.7,659.4 325.4,659.6 326.1,659.7 326.8,659.9 327.5,660.0 328.2,660.1 328.9,660.3 329.6,660.4 330.3,660.5 331.0,660.7 331.7,660.8 332.4,660.9 333.1,661.0 333.8,661.2 334.5,661.3 335.2,661.4 335.9,661.5 336.6,661.6 337.3,661.8 338.0,661.9 338.7,662.0 339.4,662.1 340.1,662.2 340.8,662.3 341.5,662.4 342.2,662.5 342.9,662.6 343.6,662.7 344.3,662.8 345.0,662.9 345.7,663.0 346.4,663.1 347.1,663.2 347.8,663.2 348.5,663.3 349.2,663.4 349.9,663.5 350.6,663.6 351.3,663.6 352.0,663.7 352.7,663.8 353.4,663.9 354.1,663.9 354.8,664.0 355.5,664.1 356.2,664.2 356.9,664.2 357.6,664.3 358.3,664.4 359.0,664.4 359.7,664.5 360.4,664.6 361.1,664.6 361.8,664.7 362.5,664.8 363.2,664.8 363.9,664.9 364.6,665.0 365.3,665.0 366.0,665.1 366.7,665.1 367.4,665.2 368.1,665.3 368.8,665.3 369.5,665.4 370.2,665.4 370.9,665.5 371.6,665.5 372.3,665.6 373.0,665.6 373.7,665.7 374.4,665.7 375.1,665.7 375.8,665.8 376.5,665.8 377.2,665.9 377.9,665.9 378.6,665.9 379.3,666.0 380.0,666.0 380.7,666.0 381.4,666.1 382.1,666.1 382.8,666.1 383.5,666.1 384.2,666.2 384.9,666.2 385.6,666.2 386.3,666.3 387.0,666.3 387.7,666.3 388.4,666.3 389.1,666.4 389.8,666.4 390.5,666.4 391.2,666.5 391.9,666.5 392.6,666.5 393.3,666.5 394.0,666.6 394.7,666.6 395.4,666.6 396.1,666.6 396.8,666.7 397.5,666.7 398.2,666.7 398.9,666.7 399.6,666.7 400.3,666.8 401.0,666.8 401.7,666.8 402.4,666.8 403.1,666.9 403.8,666.9 404.5,666.9 405.2,666.9 405.9,666.9 406.6,667.0 407.3,667.0 408.0,667.0 408.7,667.0 409.4,667.0 410.1,667.0 410.8,667.1 411.5,667.1 412.2,667.1 412.9,667.1 413.6,667.1 414.3,667.1 415.0,667.2 415.7,667.2 416.4,667.2 417.1,667.2 417.8,667.2 418.5,667.2 419.2,667.2 419.9,667.3 420.6,667.3 421.3,667.3 422.0,667.3 422.7,667.3 423.4,667.3 424.1,667.3 424.8,667.3 425.5,667.3 426.2,667.4 426.9,667.4 427.6,667.4 428.3,667.4 429.0,667.4 429.7,667.4 430.4,667.4 431.1,667.4 431.8,667.4 432.5,667.4 433.2,667.4 433.9,667.4 434.6,667.4 435.3,667.5 436.0,667.5 436.7,667.5 437.4,667.5 438.1,667.5 438.8,667.5 439.5,667.5 440.2,667.5 440.9,667.5 441.6,667.5 442.3,667.5 443.0,667.5 443.7,667.5 444.4,667.5 445.1,667.5 445.8,667.5 446.5,667.5 447.2,667.5 447.9,667.6 448.6,667.6 449.3,667.6 450.0,667.6 450.7,667.6 451.4,667.6 452.1,667.6 452.8,667.6 453.5,667.6 454.2,667.6 454.9,667.6 455.6,667.6 456.3,667.6 457.0,667.6 457.7,667.6 458.4,667.6 459.1,667.6 459.8,667.6 460.5,667.6" />
<polyline fill="none" stroke="#0a0a0a" stroke-width="2.3" stroke-linejoin="round" points="44.0,641.3 44.7,641.3 45.4,641.3 46.1,641.3 46.8,641.3 47.5,641.3 48.2,641.3 48.9,641.3 49.6,641.3 50.3,641.3 51.0,641.3 51.7,641.3 52.4,641.3 53.1,641.3 53.8,641.3 54.5,641.3 55.2,641.3 55.9,641.3 56.6,641.3 57.3,641.3 58.0,641.3 58.7,641.3 59.4,641.3 60.1,641.3 60.8,641.3 61.5,641.3 62.2,641.3 62.9,641.3 63.6,641.3 64.3,641.3 65.0,641.3 65.7,641.3 66.4,641.3 67.1,641.3 67.8,641.3 68.5,641.3 69.2,641.3 69.9,641.3 70.6,641.3 71.3,641.3 72.0,641.3 72.7,641.3 73.4,641.3 74.1,641.3 74.8,641.3 75.5,641.3 76.2,641.3 76.9,641.3 77.6,641.3 78.3,641.3 79.0,641.3 79.7,641.3 80.4,641.3 81.1,641.3 81.8,641.3 82.5,641.3 83.2,641.3 83.9,641.3 84.6,641.3 85.3,641.3 86.0,641.3 86.7,641.3 87.4,641.3 88.1,641.3 88.8,641.3 89.5,641.3 90.2,641.3 90.9,641.3 91.6,641.3 92.3,641.3 93.0,641.3 93.7,641.3 94.4,641.3 95.1,641.3 95.8,641.3 96.5,641.3 97.2,641.3 97.9,641.2 98.6,641.2 99.3,641.2 100.0,641.2 100.7,641.2 101.4,641.2 102.1,641.2 102.8,641.2 103.5,641.2 104.2,641.2 104.9,641.2 105.6,641.2 106.3,641.2 107.0,641.2 107.7,641.1 108.4,641.1 109.1,641.1 109.8,641.1 110.5,641.1 111.2,641.1 111.9,641.1 112.6,641.1 113.3,641.0 114.0,641.0 114.7,641.0 115.4,641.0 116.1,641.0 116.8,640.9 117.5,640.9 118.2,640.9 118.9,640.9 119.6,640.9 120.3,640.8 121.0,640.8 121.7,640.8 122.4,640.8 123.1,640.7 123.8,640.7 124.5,640.7 125.2,640.6 125.9,640.6 126.6,640.6 127.3,640.5 128.0,640.5 128.7,640.4 129.4,640.4 130.1,640.4 130.8,640.3 131.5,640.3 132.2,640.2 132.9,640.2 133.6,640.1 134.3,640.1 135.0,640.0 135.7,639.9 136.4,639.9 137.1,639.8 137.8,639.7 138.5,639.7 139.2,639.6 139.9,639.5 140.6,639.5 141.3,639.4 142.0,639.3 142.7,639.2 143.4,639.1 144.1,639.0 144.8,638.9 145.5,638.8 146.2,638.7 146.9,638.6 147.6,638.5 148.3,638.4 149.0,638.2 149.7,638.1 150.4,637.9 151.1,637.8 151.8,637.6 152.5,637.4 153.2,637.2 153.9,637.0 154.6,636.8 155.3,636.6 156.0,636.3 156.7,636.0 157.4,635.7 158.1,635.3 158.8,635.0 159.5,634.6 160.2,634.1 160.9,633.7 161.6,633.2 162.3,632.7 163.0,632.2 163.7,631.7 164.4,631.1 165.1,630.6 165.8,630.1 166.5,629.5 167.2,629.0 167.9,628.5 168.6,628.0 169.3,627.5 170.0,627.1 170.7,626.7 171.4,626.4 172.1,626.1 172.8,625.9 173.5,625.7 174.2,625.5 174.9,625.4 175.6,625.3 176.3,625.2 177.0,625.2 177.7,625.2 178.4,625.2 179.1,625.2 179.8,625.1 180.5,625.1 181.2,625.1 181.9,625.0 182.6,625.0 183.3,624.9 184.0,624.7 184.7,624.6 185.4,624.4 186.1,624.2 186.8,624.0 187.5,623.7 188.2,623.4 188.9,623.1 189.6,622.7 190.3,622.4 191.0,622.0 191.7,621.6 192.4,621.2 193.1,620.8 193.8,620.3 194.5,619.9 195.2,619.4 195.9,618.9 196.6,618.5 197.3,618.0 198.0,617.5 198.7,617.0 199.4,616.5 200.1,615.9 200.8,615.4 201.5,614.9 202.2,614.3 202.9,613.8 203.6,613.3 204.3,612.7 205.0,612.2 205.7,611.6 206.4,611.0 207.1,610.5 207.8,609.9 208.5,609.3 209.2,608.8 209.9,608.2 210.6,607.6 211.3,607.0 212.0,606.4 212.7,605.8 213.4,605.2 214.1,604.6 214.8,604.1 215.5,603.5 216.2,602.9 216.9,602.3 217.6,601.7 218.3,601.1 219.0,600.5 219.7,599.9 220.4,599.3 221.1,598.7 221.8,598.1 222.5,597.5 223.2,596.9 223.9,596.3 224.6,595.8 225.3,595.2 226.0,594.6 226.7,594.0 227.4,593.5 228.1,592.9 228.8,592.3 229.5,591.8 230.2,591.2 230.9,590.7 231.6,590.1 232.3,589.6 233.0,589.1 233.7,588.5 234.4,588.0 235.1,587.5 235.8,587.0 236.5,586.5 237.2,586.0 237.9,585.6 238.6,585.1 239.3,584.7 240.0,584.2 240.7,583.8 241.4,583.3 242.1,582.9 242.8,582.5 243.5,582.1 244.2,581.7 244.9,581.4 245.6,581.0 246.3,580.6 247.0,580.3 247.7,579.9 248.4,579.6 249.1,579.3 249.8,579.0 250.5,578.7 251.2,578.4 251.9,578.2 252.6,577.9 253.3,577.6 254.0,577.4 254.7,577.1 255.4,576.9 256.1,576.7 256.8,576.5 257.5,576.3 258.2,576.1 258.9,575.9 259.6,575.7 260.3,575.5 261.0,575.3 261.7,575.1 262.4,574.9 263.1,574.8 263.8,574.6 264.5,574.4 265.2,574.2 265.9,574.0 266.6,573.8 267.3,573.6 268.0,573.4 268.7,573.2 269.4,573.0 270.1,572.8 270.8,572.5 271.5,572.3 272.2,572.0 272.9,571.7 273.6,571.3 274.3,571.0 275.0,570.6 275.7,570.2 276.4,569.7 277.1,569.3 277.8,568.7 278.5,568.2 279.2,567.6 279.9,566.9 280.6,566.2 281.3,565.4 282.0,564.6 282.7,563.7 283.4,562.8 284.1,561.8 284.8,560.8 285.5,559.6 286.2,558.4 286.9,557.2 287.6,555.8 288.3,554.4 289.0,552.9 289.7,551.3 290.4,549.7 291.1,547.9 291.8,546.1 292.5,544.2 293.2,542.3 293.9,540.2 294.6,538.1 295.3,535.8 296.0,533.5 296.7,531.2 297.4,528.7 298.1,526.2 298.8,523.6 299.5,520.9 300.2,518.2 300.9,515.4 301.6,512.6 302.3,509.7 303.0,506.8 303.7,503.9 304.4,500.9 305.1,497.9 305.8,494.8 306.5,491.8 307.2,488.7 307.9,485.6 308.6,482.6 309.3,479.5 310.0,476.5 310.7,473.5 311.4,470.5 312.1,467.6 312.8,464.7 313.5,461.9 314.2,459.1 314.9,456.4 315.6,453.8 316.3,451.3 317.0,448.9 317.7,446.6 318.4,444.5 319.1,442.4 319.8,440.5 320.5,438.7 321.2,437.1 321.9,435.6 322.6,434.3 323.3,433.2 324.0,432.2 324.7,431.4 325.4,430.8 326.1,430.4 326.8,430.2 327.5,430.1 328.2,430.3 328.9,430.7 329.6,431.3 330.3,432.0 331.0,433.0 331.7,434.1 332.4,435.4 333.1,436.8 333.8,438.4 334.5,440.2 335.2,442.1 335.9,444.2 336.6,446.5 337.3,448.8 338.0,451.4 338.7,454.0 339.4,456.8 340.1,459.8 340.8,462.8 341.5,466.0 342.2,469.2 342.9,472.6 343.6,476.0 344.3,479.6 345.0,483.2 345.7,486.8 346.4,490.6 347.1,494.4 347.8,498.2 348.5,502.1 349.2,506.0 349.9,510.0 350.6,513.9 351.3,517.9 352.0,521.9 352.7,525.9 353.4,529.9 354.1,533.9 354.8,537.8 355.5,541.8 356.2,545.7 356.9,549.6 357.6,553.4 358.3,557.2 359.0,560.9 359.7,564.6 360.4,568.3 361.1,571.9 361.8,575.4 362.5,578.8 363.2,582.2 363.9,585.5 364.6,588.8 365.3,591.9 366.0,595.0 366.7,598.0 367.4,600.9 368.1,603.8 368.8,606.5 369.5,609.2 370.2,611.8 370.9,614.3 371.6,616.8 372.3,619.1 373.0,621.4 373.7,623.6 374.4,625.7 375.1,627.7 375.8,629.6 376.5,631.5 377.2,633.3 377.9,635.0 378.6,636.7 379.3,638.2 380.0,639.7 380.7,641.2 381.4,642.5 382.1,643.8 382.8,645.1 383.5,646.3 384.2,647.4 384.9,648.5 385.6,649.5 386.3,650.5 387.0,651.4 387.7,652.2 388.4,653.1 389.1,653.8 389.8,654.6 390.5,655.3 391.2,655.9 391.9,656.6 392.6,657.1 393.3,657.7 394.0,658.2 394.7,658.7 395.4,659.2 396.1,659.6 396.8,660.0 397.5,660.4 398.2,660.8 398.9,661.1 399.6,661.4 400.3,661.7 401.0,662.0 401.7,662.3 402.4,662.5 403.1,662.7 403.8,663.0 404.5,663.2 405.2,663.4 405.9,663.5 406.6,663.7 407.3,663.9 408.0,664.0 408.7,664.2 409.4,664.3 410.1,664.4 410.8,664.6 411.5,664.7 412.2,664.8 412.9,664.9 413.6,665.0 414.3,665.1 415.0,665.1 415.7,665.2 416.4,665.3 417.1,665.4 417.8,665.4 418.5,665.5 419.2,665.6 419.9,665.6 420.6,665.7 421.3,665.7 422.0,665.8 422.7,665.8 423.4,665.9 424.1,665.9 424.8,665.9 425.5,666.0 426.2,666.0 426.9,666.1 427.6,666.1 428.3,666.1 429.0,666.2 429.7,666.2 430.4,666.2 431.1,666.2 431.8,666.3 432.5,666.3 433.2,666.3 433.9,666.3 434.6,666.4 435.3,666.4 436.0,666.4 436.7,666.4 437.4,666.4 438.1,666.5 438.8,666.5 439.5,666.5 440.2,666.5 440.9,666.5 441.6,666.6 442.3,666.6 443.0,666.6 443.7,666.6 444.4,666.6 445.1,666.6 445.8,666.7 446.5,666.7 447.2,666.7 447.9,666.7 448.6,666.7 449.3,666.7 450.0,666.7 450.7,666.8 451.4,666.8 452.1,666.8 452.8,666.8 453.5,666.8 454.2,666.8 454.9,666.8 455.6,666.8 456.3,666.9 457.0,666.9 457.7,666.9 458.4,666.9 459.1,666.9 459.8,666.9 460.5,666.9" />
<text x="276.00" y="425.20" style="font-family:'Liberation Sans',sans-serif;font-weight:bold;font-size:16px" text-anchor="start" textLength="31.20" lengthAdjust="spacingAndGlyphs" stroke="#000" stroke-width="0.45" >O1s</text>
<text x="372.60" y="533.20" style="font-family:'Liberation Sans',sans-serif;font-weight:bold;font-size:16px" text-anchor="start" textLength="25.00" lengthAdjust="spacingAndGlyphs" stroke="#000" stroke-width="0.45" >VO</text>
<text x="397.40" y="539.80" style="font-family:'Liberation Sans',sans-serif;font-weight:bold;font-size:10px" text-anchor="start" textLength="5.60" lengthAdjust="spacingAndGlyphs" stroke="#000" stroke-width="0.45" >x</text>
<line x1="368.7" y1="531.3" x2="338.5" y2="563.5" stroke="#333" stroke-width="1.1"/>
<polygon points="336,560.8 340.6,565 333.4,568.8" fill="#222"/>
<polyline fill="none" stroke="#7a7a7a" stroke-width="1.1" stroke-linejoin="round" points="510.4,555.1 511.9,569.7 513.4,591.7 514.9,586.2 516.4,579.3 517.9,581.2 519.4,588.4 520.9,576.1 522.4,584.1 523.9,581.1 525.4,554.3 526.9,575.0 528.4,595.0 529.9,574.7 531.4,577.5 532.9,572.1 534.4,573.4 535.9,591.7 537.4,575.5 538.9,566.6 540.4,542.4 541.9,571.3 543.4,554.9 544.9,556.2 546.4,585.9 547.9,584.5 549.4,553.7 550.9,585.0 552.4,579.8 553.9,564.7 555.4,581.3 556.9,553.2 558.4,557.0 559.9,553.1 561.4,555.6 562.9,577.1 564.4,550.2 565.9,550.6 567.4,551.2 568.9,562.5 570.4,554.3 571.9,565.9 573.4,545.4 574.9,536.2 576.4,541.8 577.9,545.8 579.4,530.1 580.9,542.5 582.4,559.1 583.9,524.2 585.4,528.5 586.9,541.5 588.4,511.4 589.9,504.6 591.4,497.1 592.9,512.2 594.4,509.3 595.9,496.2 597.4,494.2 598.9,505.8 600.4,496.1 601.9,462.3 603.4,476.2 604.9,473.7 606.4,477.8 607.9,461.9 609.4,453.0 610.9,452.3 612.4,432.3 613.9,452.5 615.4,442.9 616.9,455.0 618.4,434.3 619.9,441.1 621.4,433.6 622.9,432.6 624.4,456.0 625.9,441.8 627.4,455.0 628.9,436.4 630.4,454.1 631.9,433.1 633.4,451.3 634.9,453.6 636.4,470.5 637.9,468.3 639.4,467.0 640.9,483.6 642.4,478.9 643.9,487.2 645.4,494.1 646.9,487.4 648.4,488.6 649.9,501.0 651.4,495.7 652.9,510.6 654.4,524.4 655.9,525.7 657.4,514.2 658.9,507.0 660.4,527.5 661.9,531.2 663.4,551.7 664.9,536.8 666.4,543.5 667.9,560.1 669.4,548.7 670.9,557.0 672.4,585.3 673.9,586.3 675.4,578.9 676.9,577.8 678.4,565.2 679.9,588.2 681.4,584.8 682.9,589.7 684.4,582.8 685.9,591.8 687.4,591.7 688.9,600.1 690.4,608.6 691.9,602.0 693.4,587.9 694.9,593.8 696.4,589.5 697.9,595.5 699.4,605.2 700.9,603.3 702.4,594.7 703.9,599.7 705.4,590.2 706.9,583.3 708.4,581.2 709.9,583.2 711.4,598.3 712.9,576.1 714.4,594.6 715.9,595.1 717.4,584.7 718.9,587.4 720.4,585.8 721.9,593.4 723.4,602.0 724.9,600.9 726.4,612.0 727.9,617.1 729.4,614.1 730.9,617.1 732.4,616.8 733.9,622.2 735.4,613.1 736.9,625.9 738.4,625.3 739.9,617.6 741.4,640.0 742.9,616.0 744.4,615.4 745.9,622.2 747.4,603.3 748.9,609.0 750.4,600.2 751.9,600.8 753.4,603.3 754.9,603.0 756.4,605.3 757.9,600.0 759.4,600.5 760.9,594.7 762.4,586.5 763.9,599.4 765.4,589.5 766.9,591.7 768.4,611.6 769.9,610.4 771.4,610.7 772.9,619.4 774.4,624.8 775.9,612.3 777.4,625.8 778.9,621.2 780.4,634.1 781.9,630.9 783.4,648.4 784.9,644.1 786.4,635.8 787.9,643.1 789.4,635.3 790.9,642.6 792.4,647.2 793.9,645.7 795.4,629.8 796.9,642.3 798.4,649.1 799.9,647.9 801.4,654.7 802.9,636.8 804.4,650.6 805.9,642.1 807.4,648.8 808.9,650.6 810.4,653.0 811.9,643.8 813.4,649.7 814.9,639.8 816.4,638.2 817.9,653.1 819.4,648.6 820.9,637.1 822.4,642.9 823.9,649.6 825.4,661.2 826.9,657.5 828.4,655.7 829.9,636.5 831.4,649.2 832.9,653.6 834.4,653.1 835.9,653.3 837.4,648.5 838.9,663.5 840.4,661.5 841.9,649.8 843.4,643.2 844.9,666.0 846.4,646.5 847.9,659.7 849.4,665.0 850.9,643.7 852.4,652.9 853.9,648.1 855.4,654.5 856.9,653.0 858.4,665.1 859.9,654.8 861.4,650.1 862.9,658.4 864.4,647.6 865.9,646.6 867.4,665.8 868.9,642.4 870.4,644.6 871.9,648.2 873.4,639.6 874.9,631.4 876.4,655.0 877.9,641.0 879.4,642.8 880.9,644.1 882.4,639.7 883.9,639.3 885.4,648.9 886.9,666.0 888.4,654.0 889.9,654.6 891.4,638.2 892.9,649.7 894.4,641.5 895.9,656.6 897.4,649.4 898.9,651.7 900.4,651.1 901.9,647.6 903.4,640.8 904.9,656.7 906.4,642.1 907.9,643.7 909.4,650.5 910.9,647.5 912.4,654.8 913.9,660.5 915.4,654.8 916.9,654.5 918.4,653.2 919.9,659.5 921.4,639.3 922.9,655.9 924.4,646.2 925.9,644.0" />
<polyline fill="none" stroke="#484848" stroke-width="1.15" stroke-linejoin="round" points="510.4,580.0 511.1,580.0 511.8,579.9 512.5,579.9 513.2,579.9 513.9,579.9 514.6,579.9 515.3,579.9 516.0,579.9 516.7,579.9 517.4,579.9 518.1,579.9 518.8,579.9 519.5,579.9 520.2,579.9 520.9,579.8 521.6,579.8 522.3,579.8 523.0,579.8 523.7,579.8 524.4,579.8 525.1,579.7 525.8,579.7 526.5,579.7 527.2,579.7 527.9,579.6 528.6,579.6 529.3,579.6 530.0,579.5 530.7,579.5 531.4,579.4 532.1,579.4 532.8,579.3 533.5,579.3 534.2,579.2 534.9,579.1 535.6,579.1 536.3,579.0 537.0,578.9 537.7,578.8 538.4,578.7 539.1,578.6 539.8,578.5 540.5,578.4 541.2,578.3 541.9,578.2 542.6,578.0 543.3,577.9 544.0,577.7 544.7,577.5 545.4,577.4 546.1,577.2 546.8,577.0 547.5,576.7 548.2,576.5 548.9,576.3 549.6,576.0 550.3,575.7 551.0,575.4 551.7,575.1 552.4,574.8 553.1,574.5 553.8,574.1 554.5,573.7 555.2,573.3 555.9,572.9 556.6,572.5 557.3,572.0 558.0,571.5 558.7,571.0 559.4,570.5 560.1,569.9 560.8,569.3 561.5,568.7 562.2,568.1 562.9,567.4 563.6,566.8 564.3,566.1 565.0,565.4 565.7,564.6 566.4,563.8 567.1,563.0 567.8,562.2 568.5,561.3 569.2,560.5 569.9,559.5 570.6,558.6 571.3,557.6 572.0,556.6 572.7,555.5 573.4,554.4 574.1,553.3 574.8,552.2 575.5,551.0 576.2,549.7 576.9,548.5 577.6,547.2 578.3,545.8 579.0,544.4 579.7,543.0 580.4,541.6 581.1,540.1 581.8,538.6 582.5,537.0 583.2,535.4 583.9,533.8 584.6,532.1 585.3,530.4 586.0,528.7 586.7,527.0 587.4,525.3 588.1,523.5 588.8,521.7 589.5,519.9 590.2,518.1 590.9,516.2 591.6,514.4 592.3,512.5 593.0,510.6 593.7,508.7 594.4,506.8 595.1,504.9 595.8,503.0 596.5,501.1 597.2,499.3 597.9,497.4 598.6,495.5 599.3,493.6 600.0,491.7 600.7,489.9 601.4,488.0 602.1,486.2 602.8,484.4 603.5,482.7 604.2,480.9 604.9,479.2 605.6,477.5 606.3,475.9 607.0,474.3 607.7,472.7 608.4,471.2 609.1,469.7 609.8,468.2 610.5,466.9 611.2,465.5 611.9,464.3 612.6,463.0 613.3,461.9 614.0,460.8 614.7,459.8 615.4,458.8 616.1,457.9 616.8,457.2 617.5,456.5 618.2,455.8 618.9,455.3 619.6,454.9 620.3,454.5 621.0,454.3 621.7,454.1 622.4,454.1 623.1,454.1 623.8,454.2 624.5,454.4 625.2,454.7 625.9,455.1 626.6,455.5 627.3,456.1 628.0,456.7 628.7,457.3 629.4,458.0 630.1,458.8 630.8,459.6 631.5,460.5 632.2,461.4 632.9,462.4 633.6,463.4 634.3,464.5 635.0,465.6 635.7,466.8 636.4,468.0 637.1,469.3 637.8,470.6 638.5,471.9 639.2,473.4 639.9,474.8 640.6,476.3 641.3,477.9 642.0,479.5 642.7,481.1 643.4,482.8 644.1,484.5 644.8,486.2 645.5,488.0 646.2,489.8 646.9,491.7 647.6,493.6 648.3,495.5 649.0,497.4 649.7,499.4 650.4,501.4 651.1,503.4 651.8,505.4 652.5,507.5 653.2,509.5 653.9,511.6 654.6,513.7 655.3,515.8 656.0,517.9 656.7,520.1 657.4,522.2 658.1,524.3 658.8,526.5 659.5,528.6 660.2,530.8 660.9,532.9 661.6,535.1 662.3,537.2 663.0,539.4 663.7,541.5 664.4,543.6 665.1,545.8 665.8,547.9 666.5,550.0 667.2,552.1 667.9,554.2 668.6,556.3 669.3,558.3 670.0,560.4 670.7,562.4 671.4,564.4 672.1,566.4 672.8,568.3 673.5,570.2 674.2,572.1 674.9,574.0 675.6,575.9 676.3,577.7 677.0,579.4 677.7,581.2 678.4,582.9 679.1,584.6 679.8,586.3 680.5,587.9 681.2,589.5 681.9,591.0 682.6,592.6 683.3,594.1 684.0,595.6 684.7,597.0 685.4,598.4 686.1,599.8 686.8,601.2 687.5,602.5 688.2,603.8 688.9,605.1 689.6,606.4 690.3,607.6 691.0,608.8 691.7,609.9 692.4,611.1 693.1,612.2 693.8,613.2 694.5,614.3 695.2,615.3 695.9,616.3 696.6,617.3 697.3,618.2 698.0,619.1 698.7,620.0 699.4,620.9 700.1,621.7 700.8,622.6 701.5,623.3 702.2,624.1 702.9,624.9 703.6,625.6 704.3,626.3 705.0,627.0 705.7,627.7 706.4,628.3 707.1,628.9 707.8,629.5 708.5,630.1 709.2,630.7 709.9,631.2 710.6,631.8 711.3,632.3 712.0,632.8 712.7,633.3 713.4,633.7 714.1,634.2 714.8,634.6 715.5,635.0 716.2,635.4 716.9,635.8 717.6,636.2 718.3,636.6 719.0,636.9 719.7,637.3 720.4,637.6 721.1,637.9 721.8,638.2 722.5,638.5 723.2,638.8 723.9,639.1 724.6,639.4 725.3,639.6 726.0,639.9 726.7,640.1 727.4,640.4 728.1,640.6 728.8,640.8 729.5,641.0 730.2,641.3 730.9,641.5 731.6,641.7 732.3,641.9 733.0,642.1 733.7,642.3 734.4,642.4 735.1,642.6 735.8,642.8 736.5,642.9 737.2,643.1 737.9,643.3 738.6,643.4 739.3,643.6 740.0,643.7 740.7,643.9 741.4,644.0 742.1,644.1 742.8,644.3 743.5,644.4 744.2,644.5 744.9,644.7 745.6,644.8 746.3,644.9 747.0,645.0 747.7,645.2 748.4,645.3 749.1,645.4 749.8,645.5 750.5,645.6 751.2,645.7 751.9,645.8 752.6,645.9 753.3,646.0 754.0,646.2 754.7,646.3 755.4,646.4 756.1,646.5 756.8,646.6 757.5,646.7 758.2,646.8 758.9,646.9 759.6,647.0 760.3,647.1 761.0,647.1 761.7,647.2 762.4,647.3 763.1,647.4 763.8,647.5 764.5,647.6 765.2,647.7 765.9,647.8 766.6,647.9 767.3,648.0 768.0,648.1 768.7,648.2 769.4,648.3 770.1,648.4 770.8,648.4 771.5,648.5 772.2,648.6 772.9,648.7 773.6,648.8 774.3,648.9 775.0,649.0 775.7,649.1 776.4,649.1 777.1,649.2 777.8,649.3 778.5,649.4 779.2,649.5 779.9,649.6 780.6,649.7 781.3,649.7 782.0,649.8 782.7,649.9 783.4,650.0 784.1,650.1 784.8,650.2 785.5,650.2 786.2,650.3 786.9,650.4 787.6,650.5 788.3,650.6 789.0,650.7 789.7,650.7 790.4,650.8 791.1,650.9 791.8,651.0 792.5,651.1 793.2,651.1 793.9,651.2 794.6,651.3 795.3,651.4 796.0,651.5 796.7,651.6 797.4,651.6 798.1,651.7 798.8,651.8 799.5,651.9 800.2,652.0 800.9,652.1 801.6,652.2 802.3,652.3 803.0,652.4 803.7,652.4 804.4,652.5 805.1,652.6 805.8,652.7 806.5,652.8 807.2,652.9 807.9,652.9 808.6,653.0 809.3,653.1 810.0,653.2 810.7,653.3 811.4,653.3 812.1,653.4 812.8,653.5 813.5,653.5 814.2,653.6 814.9,653.7 815.6,653.7 816.3,653.8 817.0,653.8 817.7,653.9 818.4,653.9 819.1,654.0 819.8,654.0 820.5,654.0 821.2,654.1 821.9,654.1 822.6,654.1 823.3,654.2 824.0,654.2 824.7,654.2 825.4,654.2 826.1,654.3 826.8,654.3 827.5,654.3 828.2,654.4 828.9,654.4 829.6,654.4 830.3,654.4 831.0,654.5 831.7,654.5 832.4,654.5 833.1,654.5 833.8,654.6 834.5,654.6 835.2,654.6 835.9,654.6 836.6,654.7 837.3,654.7 838.0,654.7 838.7,654.7 839.4,654.7 840.1,654.8 840.8,654.8 841.5,654.8 842.2,654.8 842.9,654.8 843.6,654.8 844.3,654.9 845.0,654.9 845.7,654.9 846.4,654.9 847.1,654.9 847.8,655.0 848.5,655.0 849.2,655.0 849.9,655.0 850.6,655.0 851.3,655.0 852.0,655.1 852.7,655.1 853.4,655.1 854.1,655.1 854.8,655.1 855.5,655.1 856.2,655.2 856.9,655.2 857.6,655.2 858.3,655.2 859.0,655.2 859.7,655.2 860.4,655.3 861.1,655.3 861.8,655.3 862.5,655.3 863.2,655.3 863.9,655.3 864.6,655.4 865.3,655.4 866.0,655.4 866.7,655.4 867.4,655.4 868.1,655.4 868.8,655.5 869.5,655.5 870.2,655.5 870.9,655.5 871.6,655.5 872.3,655.6 873.0,655.6 873.7,655.6 874.4,655.6 875.1,655.6 875.8,655.7 876.5,655.7 877.2,655.7 877.9,655.7 878.6,655.7 879.3,655.8 880.0,655.8 880.7,655.8 881.4,655.8 882.1,655.8 882.8,655.9 883.5,655.9 884.2,655.9 884.9,655.9 885.6,655.9 886.3,655.9 887.0,656.0 887.7,656.0 888.4,656.0 889.1,656.0 889.8,656.0 890.5,656.1 891.2,656.1 891.9,656.1 892.6,656.1 893.3,656.1 894.0,656.1 894.7,656.2 895.4,656.2 896.1,656.2 896.8,656.2 897.5,656.2 898.2,656.3 898.9,656.3 899.6,656.3 900.3,656.3 901.0,656.3 901.7,656.4 902.4,656.4 903.1,656.4 903.8,656.4 904.5,656.4 905.2,656.4 905.9,656.5 906.6,656.5 907.3,656.5 908.0,656.5 908.7,656.5 909.4,656.5 910.1,656.6 910.8,656.6 911.5,656.6 912.2,656.6 912.9,656.6 913.6,656.7 914.3,656.7 915.0,656.7 915.7,656.7 916.4,656.7 917.1,656.7 917.8,656.8 918.5,656.8 919.2,656.8 919.9,656.8 920.6,656.8 921.3,656.8 922.0,656.9 922.7,656.9 923.4,656.9 924.1,656.9 924.8,656.9 925.5,656.9 926.2,657.0 926.9,657.0" />
<polyline fill="none" stroke="#484848" stroke-width="1.15" stroke-linejoin="round" points="510.4,579.8 511.1,579.8 511.8,579.8 512.5,579.8 513.2,579.8 513.9,579.8 514.6,579.8 515.3,579.8 516.0,579.8 516.7,579.8 517.4,579.8 518.1,579.8 518.8,579.8 519.5,579.8 520.2,579.9 520.9,579.9 521.6,579.9 522.3,579.9 523.0,579.9 523.7,579.9 524.4,579.9 525.1,579.9 525.8,579.9 526.5,579.9 527.2,579.9 527.9,579.9 528.6,579.9 529.3,579.9 530.0,579.9 530.7,579.9 531.4,579.9 532.1,579.9 532.8,579.9 533.5,579.9 534.2,579.9 534.9,579.9 535.6,579.9 536.3,579.9 537.0,579.9 537.7,579.9 538.4,580.0 539.1,580.0 539.8,580.0 540.5,580.0 541.2,580.0 541.9,580.0 542.6,580.0 543.3,580.0 544.0,580.0 544.7,580.0 545.4,580.0 546.1,580.0 546.8,580.0 547.5,580.0 548.2,580.1 548.9,580.1 549.6,580.1 550.3,580.1 551.0,580.1 551.7,580.1 552.4,580.1 553.1,580.1 553.8,580.1 554.5,580.1 555.2,580.2 555.9,580.2 556.6,580.2 557.3,580.2 558.0,580.2 558.7,580.2 559.4,580.2 560.1,580.2 560.8,580.2 561.5,580.3 562.2,580.3 562.9,580.3 563.6,580.4 564.3,580.4 565.0,580.5 565.7,580.6 566.4,580.6 567.1,580.7 567.8,580.8 568.5,580.9 569.2,581.0 569.9,581.0 570.6,581.1 571.3,581.3 572.0,581.4 572.7,581.5 573.4,581.6 574.1,581.7 574.8,581.8 575.5,582.0 576.2,582.1 576.9,582.2 577.6,582.3 578.3,582.5 579.0,582.6 579.7,582.7 580.4,582.9 581.1,583.0 581.8,583.2 582.5,583.3 583.2,583.5 583.9,583.6 584.6,583.8 585.3,583.9 586.0,584.1 586.7,584.3 587.4,584.4 588.1,584.6 588.8,584.8 589.5,585.0 590.2,585.3 590.9,585.5 591.6,585.7 592.3,586.0 593.0,586.2 593.7,586.5 594.4,586.7 595.1,587.0 595.8,587.3 596.5,587.6 597.2,587.8 597.9,588.1 598.6,588.4 599.3,588.7 600.0,589.0 600.7,589.3 601.4,589.7 602.1,590.0 602.8,590.3 603.5,590.6 604.2,591.0 604.9,591.3 605.6,591.6 606.3,592.0 607.0,592.3 607.7,592.7 608.4,593.0 609.1,593.4 609.8,593.7 610.5,594.1 611.2,594.4 611.9,594.8 612.6,595.1 613.3,595.5 614.0,595.9 614.7,596.2 615.4,596.6 616.1,596.9 616.8,597.3 617.5,597.7 618.2,598.1 618.9,598.6 619.6,599.0 620.3,599.4 621.0,599.9 621.7,600.4 622.4,600.8 623.1,601.3 623.8,601.8 624.5,602.3 625.2,602.7 625.9,603.2 626.6,603.7 627.3,604.2 628.0,604.7 628.7,605.2 629.4,605.7 630.1,606.2 630.8,606.6 631.5,607.1 632.2,607.6 632.9,608.0 633.6,608.5 634.3,609.0 635.0,609.4 635.7,609.8 636.4,610.2 637.1,610.7 637.8,611.1 638.5,611.5 639.2,611.9 639.9,612.3 640.6,612.7 641.3,613.2 642.0,613.6 642.7,614.0 643.4,614.4 644.1,614.8 644.8,615.2 645.5,615.6 646.2,616.0 646.9,616.4 647.6,616.8 648.3,617.2 649.0,617.5 649.7,617.9 650.4,618.3 651.1,618.7 651.8,619.1 652.5,619.4 653.2,619.8 653.9,620.1 654.6,620.5 655.3,620.8 656.0,621.2 656.7,621.5 657.4,621.9 658.1,622.2 658.8,622.5 659.5,622.8 660.2,623.1 660.9,623.4 661.6,623.7 662.3,624.0 663.0,624.3 663.7,624.6 664.4,624.9 665.1,625.2 665.8,625.5 666.5,625.8 667.2,626.1 667.9,626.3 668.6,626.6 669.3,626.9 670.0,627.1 670.7,627.4 671.4,627.6 672.1,627.8 672.8,628.0 673.5,628.2 674.2,628.4 674.9,628.6 675.6,628.7 676.3,628.9 677.0,629.0 677.7,629.1 678.4,629.2 679.1,629.3 679.8,629.3 680.5,629.3 681.2,629.4 681.9,629.4 682.6,629.4 683.3,629.3 684.0,629.3 684.7,629.2 685.4,629.1 686.1,629.0 686.8,628.9 687.5,628.7 688.2,628.5 688.9,628.3 689.6,628.0 690.3,627.7 691.0,627.4 691.7,627.0 692.4,626.6 693.1,626.1 693.8,625.6 694.5,625.0 695.2,624.4 695.9,623.8 696.6,623.1 697.3,622.3 698.0,621.5 698.7,620.6 699.4,619.6 700.1,618.6 700.8,617.6 701.5,616.5 702.2,615.3 702.9,614.1 703.6,612.8 704.3,611.5 705.0,610.1 705.7,608.7 706.4,607.3 707.1,605.8 707.8,604.3 708.5,602.9 709.2,601.5 709.9,600.1 710.6,598.7 711.3,597.5 712.0,596.3 712.7,595.3 713.4,594.4 714.1,593.7 714.8,593.2 715.5,592.9 716.2,592.8 716.9,592.9 717.6,593.2 718.3,593.8 719.0,594.5 719.7,595.5 720.4,596.6 721.1,597.8 721.8,599.2 722.5,600.7 723.2,602.2 723.9,603.8 724.6,605.5 725.3,607.1 726.0,608.8 726.7,610.5 727.4,612.1 728.1,613.8 728.8,615.4 729.5,616.9 730.2,618.4 730.9,619.8 731.6,621.2 732.3,622.6 733.0,623.8 733.7,625.1 734.4,626.2 735.1,627.3 735.8,628.4 736.5,629.4 737.2,630.3 737.9,631.2 738.6,632.1 739.3,632.9 740.0,633.6 740.7,634.3 741.4,635.0 742.1,635.6 742.8,636.2 743.5,636.7 744.2,637.2 744.9,637.7 745.6,638.2 746.3,638.6 747.0,639.0 747.7,639.4 748.4,639.8 749.1,640.1 749.8,640.4 750.5,640.8 751.2,641.1 751.9,641.3 752.6,641.6 753.3,641.9 754.0,642.1 754.7,642.4 755.4,642.6 756.1,642.8 756.8,643.0 757.5,643.2 758.2,643.4 758.9,643.6 759.6,643.8 760.3,644.0 761.0,644.2 761.7,644.4 762.4,644.5 763.1,644.7 763.8,644.9 764.5,645.0 765.2,645.2 765.9,645.3 766.6,645.5 767.3,645.6 768.0,645.8 768.7,645.9 769.4,646.1 770.1,646.2 770.8,646.4 771.5,646.5 772.2,646.6 772.9,646.8 773.6,646.9 774.3,647.0 775.0,647.2 775.7,647.3 776.4,647.4 777.1,647.5 777.8,647.6 778.5,647.8 779.2,647.9 779.9,648.0 780.6,648.1 781.3,648.2 782.0,648.4 782.7,648.5 783.4,648.6 784.1,648.7 784.8,648.8 785.5,648.9 786.2,649.0 786.9,649.1 787.6,649.2 788.3,649.3 789.0,649.4 789.7,649.5 790.4,649.6 791.1,649.7 791.8,649.8 792.5,649.9 793.2,650.0 793.9,650.1 794.6,650.2 795.3,650.4 796.0,650.5 796.7,650.6 797.4,650.7 798.1,650.8 798.8,650.9 799.5,651.0 800.2,651.1 800.9,651.2 801.6,651.3 802.3,651.4 803.0,651.5 803.7,651.6 804.4,651.7 805.1,651.8 805.8,651.9 806.5,652.0 807.2,652.1 807.9,652.2 808.6,652.3 809.3,652.3 810.0,652.4 810.7,652.5 811.4,652.6 812.1,652.7 812.8,652.8 813.5,652.8 814.2,652.9 814.9,653.0 815.6,653.0 816.3,653.1 817.0,653.2 817.7,653.2 818.4,653.3 819.1,653.3 819.8,653.4 820.5,653.4 821.2,653.5 821.9,653.5 822.6,653.5 823.3,653.6 824.0,653.6 824.7,653.7 825.4,653.7 826.1,653.7 826.8,653.8 827.5,653.8 828.2,653.8 828.9,653.9 829.6,653.9 830.3,653.9 831.0,654.0 831.7,654.0 832.4,654.0 833.1,654.1 833.8,654.1 834.5,654.1 835.2,654.1 835.9,654.2 836.6,654.2 837.3,654.2 838.0,654.2 838.7,654.3 839.4,654.3 840.1,654.3 840.8,654.3 841.5,654.4 842.2,654.4 842.9,654.4 843.6,654.4 844.3,654.5 845.0,654.5 845.7,654.5 846.4,654.5 847.1,654.6 847.8,654.6 848.5,654.6 849.2,654.6 849.9,654.6 850.6,654.7 851.3,654.7 852.0,654.7 852.7,654.7 853.4,654.7 854.1,654.8 854.8,654.8 855.5,654.8 856.2,654.8 856.9,654.8 857.6,654.9 858.3,654.9 859.0,654.9 859.7,654.9 860.4,654.9 861.1,655.0 861.8,655.0 862.5,655.0 863.2,655.0 863.9,655.0 864.6,655.1 865.3,655.1 866.0,655.1 866.7,655.1 867.4,655.1 868.1,655.2 868.8,655.2 869.5,655.2 870.2,655.2 870.9,655.2 871.6,655.3 872.3,655.3 873.0,655.3 873.7,655.3 874.4,655.4 875.1,655.4 875.8,655.4 876.5,655.4 877.2,655.4 877.9,655.5 878.6,655.5 879.3,655.5 880.0,655.5 880.7,655.5 881.4,655.6 882.1,655.6 882.8,655.6 883.5,655.6 884.2,655.7 884.9,655.7 885.6,655.7 886.3,655.7 887.0,655.7 887.7,655.8 888.4,655.8 889.1,655.8 889.8,655.8 890.5,655.8 891.2,655.9 891.9,655.9 892.6,655.9 893.3,655.9 894.0,655.9 894.7,656.0 895.4,656.0 896.1,656.0 896.8,656.0 897.5,656.0 898.2,656.1 898.9,656.1 899.6,656.1 900.3,656.1 901.0,656.1 901.7,656.2 902.4,656.2 903.1,656.2 903.8,656.2 904.5,656.2 905.2,656.3 905.9,656.3 906.6,656.3 907.3,656.3 908.0,656.3 908.7,656.3 909.4,656.4 910.1,656.4 910.8,656.4 911.5,656.4 912.2,656.4 912.9,656.5 913.6,656.5 914.3,656.5 915.0,656.5 915.7,656.5 916.4,656.6 917.1,656.6 917.8,656.6 918.5,656.6 919.2,656.6 919.9,656.6 920.6,656.7 921.3,656.7 922.0,656.7 922.7,656.7 923.4,656.7 924.1,656.8 924.8,656.8 925.5,656.8 926.2,656.8 926.9,656.8" />
<polyline fill="none" stroke="#484848" stroke-width="1.15" stroke-linejoin="round" points="510.4,580.0 511.1,580.0 511.8,580.0 512.5,580.0 513.2,580.0 513.9,580.0 514.6,580.0 515.3,580.0 516.0,580.0 516.7,580.0 517.4,580.0 518.1,580.0 518.8,580.0 519.5,580.0 520.2,580.0 520.9,580.0 521.6,580.0 522.3,580.0 523.0,580.0 523.7,580.0 524.4,580.0 525.1,580.0 525.8,580.0 526.5,580.0 527.2,580.0 527.9,580.0 528.6,580.0 529.3,580.0 530.0,580.0 530.7,580.0 531.4,580.0 532.1,580.0 532.8,580.0 533.5,580.1 534.2,580.1 534.9,580.1 535.6,580.1 536.3,580.1 537.0,580.1 537.7,580.1 538.4,580.1 539.1,580.1 539.8,580.1 540.5,580.1 541.2,580.1 541.9,580.1 542.6,580.1 543.3,580.2 544.0,580.2 544.7,580.2 545.4,580.2 546.1,580.2 546.8,580.2 547.5,580.2 548.2,580.2 548.9,580.2 549.6,580.2 550.3,580.3 551.0,580.3 551.7,580.3 552.4,580.3 553.1,580.3 553.8,580.3 554.5,580.3 555.2,580.3 555.9,580.4 556.6,580.4 557.3,580.4 558.0,580.4 558.7,580.4 559.4,580.4 560.1,580.4 560.8,580.4 561.5,580.5 562.2,580.5 562.9,580.5 563.6,580.6 564.3,580.6 565.0,580.7 565.7,580.8 566.4,580.8 567.1,580.9 567.8,581.0 568.5,581.1 569.2,581.2 569.9,581.3 570.6,581.4 571.3,581.5 572.0,581.6 572.7,581.7 573.4,581.8 574.1,581.9 574.8,582.1 575.5,582.2 576.2,582.3 576.9,582.5 577.6,582.6 578.3,582.7 579.0,582.9 579.7,583.0 580.4,583.2 581.1,583.3 581.8,583.4 582.5,583.6 583.2,583.7 583.9,583.9 584.6,584.0 585.3,584.2 586.0,584.4 586.7,584.5 587.4,584.7 588.1,584.9 588.8,585.1 589.5,585.4 590.2,585.6 590.9,585.8 591.6,586.0 592.3,586.3 593.0,586.5 593.7,586.8 594.4,587.1 595.1,587.3 595.8,587.6 596.5,587.9 597.2,588.2 597.9,588.5 598.6,588.8 599.3,589.1 600.0,589.4 600.7,589.7 601.4,590.0 602.1,590.4 602.8,590.7 603.5,591.0 604.2,591.4 604.9,591.7 605.6,592.1 606.3,592.4 607.0,592.8 607.7,593.1 608.4,593.5 609.1,593.8 609.8,594.2 610.5,594.5 611.2,594.9 611.9,595.3 612.6,595.6 613.3,596.0 614.0,596.3 614.7,596.7 615.4,597.1 616.1,597.5 616.8,597.9 617.5,598.3 618.2,598.7 618.9,599.1 619.6,599.6 620.3,600.0 621.0,600.5 621.7,600.9 622.4,601.4 623.1,601.9 623.8,602.4 624.5,602.9 625.2,603.4 625.9,603.9 626.6,604.4 627.3,604.9 628.0,605.4 628.7,605.9 629.4,606.4 630.1,606.9 630.8,607.4 631.5,607.8 632.2,608.3 632.9,608.8 633.6,609.3 634.3,609.7 635.0,610.2 635.7,610.6 636.4,611.1 637.1,611.5 637.8,611.9 638.5,612.4 639.2,612.8 639.9,613.2 640.6,613.7 641.3,614.1 642.0,614.5 642.7,615.0 643.4,615.4 644.1,615.8 644.8,616.2 645.5,616.6 646.2,617.1 646.9,617.5 647.6,617.9 648.3,618.3 649.0,618.7 649.7,619.1 650.4,619.5 651.1,619.9 651.8,620.3 652.5,620.7 653.2,621.1 653.9,621.5 654.6,621.9 655.3,622.3 656.0,622.7 656.7,623.0 657.4,623.4 658.1,623.8 658.8,624.1 659.5,624.5 660.2,624.8 660.9,625.2 661.6,625.5 662.3,625.9 663.0,626.2 663.7,626.6 664.4,626.9 665.1,627.3 665.8,627.6 666.5,628.0 667.2,628.3 667.9,628.6 668.6,629.0 669.3,629.3 670.0,629.6 670.7,629.9 671.4,630.2 672.1,630.5 672.8,630.8 673.5,631.1 674.2,631.4 674.9,631.7 675.6,631.9 676.3,632.2 677.0,632.4 677.7,632.7 678.4,632.9 679.1,633.1 679.8,633.3 680.5,633.5 681.2,633.7 681.9,633.9 682.6,634.1 683.3,634.3 684.0,634.5 684.7,634.7 685.4,634.8 686.1,635.0 686.8,635.2 687.5,635.3 688.2,635.5 688.9,635.7 689.6,635.8 690.3,636.0 691.0,636.1 691.7,636.3 692.4,636.4 693.1,636.6 693.8,636.7 694.5,636.8 695.2,637.0 695.9,637.1 696.6,637.2 697.3,637.4 698.0,637.5 698.7,637.6 699.4,637.7 700.1,637.8 700.8,638.0 701.5,638.1 702.2,638.2 702.9,638.3 703.6,638.4 704.3,638.5 705.0,638.6 705.7,638.7 706.4,638.8 707.1,638.9 707.8,639.0 708.5,639.1 709.2,639.2 709.9,639.3 710.6,639.4 711.3,639.5 712.0,639.5 712.7,639.6 713.4,639.7 714.1,639.8 714.8,639.8 715.5,639.9 716.2,640.0 716.9,640.0 717.6,640.1 718.3,640.2 719.0,640.2 719.7,640.3 720.4,640.3 721.1,640.4 721.8,640.4 722.5,640.4 723.2,640.5 723.9,640.5 724.6,640.5 725.3,640.5 726.0,640.6 726.7,640.6 727.4,640.5 728.1,640.5 728.8,640.5 729.5,640.5 730.2,640.4 730.9,640.3 731.6,640.2 732.3,640.1 733.0,640.0 733.7,639.8 734.4,639.6 735.1,639.3 735.8,639.1 736.5,638.7 737.2,638.4 737.9,637.9 738.6,637.4 739.3,636.9 740.0,636.3 740.7,635.6 741.4,634.8 742.1,634.0 742.8,633.1 743.5,632.1 744.2,631.0 744.9,629.8 745.6,628.5 746.3,627.2 747.0,625.7 747.7,624.2 748.4,622.6 749.1,620.9 749.8,619.1 750.5,617.3 751.2,615.4 751.9,613.5 752.6,611.6 753.3,609.6 754.0,607.7 754.7,605.8 755.4,603.9 756.1,602.1 756.8,600.4 757.5,598.9 758.2,597.5 758.9,596.2 759.6,595.2 760.3,594.4 761.0,593.8 761.7,593.5 762.4,593.4 763.1,593.7 763.8,594.1 764.5,594.9 765.2,595.9 765.9,597.1 766.6,598.5 767.3,600.1 768.0,601.8 768.7,603.7 769.4,605.7 770.1,607.7 770.8,609.8 771.5,611.9 772.2,614.0 772.9,616.1 773.6,618.2 774.3,620.3 775.0,622.3 775.7,624.2 776.4,626.1 777.1,627.9 777.8,629.6 778.5,631.2 779.2,632.7 779.9,634.2 780.6,635.5 781.3,636.8 782.0,638.0 782.7,639.1 783.4,640.1 784.1,641.0 784.8,641.9 785.5,642.7 786.2,643.4 786.9,644.1 787.6,644.7 788.3,645.2 789.0,645.7 789.7,646.2 790.4,646.6 791.1,647.0 791.8,647.3 792.5,647.6 793.2,647.9 793.9,648.2 794.6,648.5 795.3,648.7 796.0,648.9 796.7,649.2 797.4,649.4 798.1,649.6 798.8,649.7 799.5,649.9 800.2,650.1 800.9,650.2 801.6,650.4 802.3,650.5 803.0,650.7 803.7,650.8 804.4,651.0 805.1,651.1 805.8,651.2 806.5,651.4 807.2,651.5 807.9,651.6 808.6,651.7 809.3,651.8 810.0,652.0 810.7,652.1 811.4,652.2 812.1,652.3 812.8,652.4 813.5,652.5 814.2,652.6 814.9,652.6 815.6,652.7 816.3,652.8 817.0,652.9 817.7,652.9 818.4,653.0 819.1,653.1 819.8,653.1 820.5,653.2 821.2,653.2 821.9,653.3 822.6,653.3 823.3,653.4 824.0,653.4 824.7,653.5 825.4,653.5 826.1,653.6 826.8,653.6 827.5,653.7 828.2,653.7 828.9,653.7 829.6,653.8 830.3,653.8 831.0,653.9 831.7,653.9 832.4,653.9 833.1,654.0 833.8,654.0 834.5,654.0 835.2,654.1 835.9,654.1 836.6,654.1 837.3,654.2 838.0,654.2 838.7,654.2 839.4,654.2 840.1,654.3 840.8,654.3 841.5,654.3 842.2,654.4 842.9,654.4 843.6,654.4 844.3,654.4 845.0,654.5 845.7,654.5 846.4,654.5 847.1,654.5 847.8,654.6 848.5,654.6 849.2,654.6 849.9,654.6 850.6,654.7 851.3,654.7 852.0,654.7 852.7,654.7 853.4,654.7 854.1,654.8 854.8,654.8 855.5,654.8 856.2,654.8 856.9,654.8 857.6,654.9 858.3,654.9 859.0,654.9 859.7,654.9 860.4,655.0 861.1,655.0 861.8,655.0 862.5,655.0 863.2,655.0 863.9,655.1 864.6,655.1 865.3,655.1 866.0,655.1 866.7,655.1 867.4,655.2 868.1,655.2 868.8,655.2 869.5,655.2 870.2,655.3 870.9,655.3 871.6,655.3 872.3,655.3 873.0,655.3 873.7,655.4 874.4,655.4 875.1,655.4 875.8,655.4 876.5,655.5 877.2,655.5 877.9,655.5 878.6,655.5 879.3,655.5 880.0,655.6 880.7,655.6 881.4,655.6 882.1,655.6 882.8,655.6 883.5,655.7 884.2,655.7 884.9,655.7 885.6,655.7 886.3,655.8 887.0,655.8 887.7,655.8 888.4,655.8 889.1,655.8 889.8,655.9 890.5,655.9 891.2,655.9 891.9,655.9 892.6,655.9 893.3,656.0 894.0,656.0 894.7,656.0 895.4,656.0 896.1,656.0 896.8,656.1 897.5,656.1 898.2,656.1 898.9,656.1 899.6,656.1 900.3,656.2 901.0,656.2 901.7,656.2 902.4,656.2 903.1,656.2 903.8,656.3 904.5,656.3 905.2,656.3 905.9,656.3 906.6,656.3 907.3,656.4 908.0,656.4 908.7,656.4 909.4,656.4 910.1,656.4 910.8,656.4 911.5,656.5 912.2,656.5 912.9,656.5 913.6,656.5 914.3,656.5 915.0,656.6 915.7,656.6 916.4,656.6 917.1,656.6 917.8,656.6 918.5,656.7 919.2,656.7 919.9,656.7 920.6,656.7 921.3,656.7 922.0,656.7 922.7,656.8 923.4,656.8 924.1,656.8 924.8,656.8 925.5,656.8 926.2,656.8 926.9,656.9" />
<polyline fill="none" stroke="#222" stroke-width="1.8" stroke-linejoin="round" points="510.4,580.0 511.1,580.0 511.8,580.0 512.5,580.0 513.2,580.0 513.9,580.0 514.6,580.0 515.3,580.0 516.0,580.0 516.7,580.0 517.4,580.0 518.1,580.0 518.8,580.0 519.5,580.0 520.2,580.0 520.9,580.0 521.6,580.0 522.3,580.0 523.0,580.0 523.7,580.0 524.4,580.0 525.1,580.0 525.8,580.1 526.5,580.1 527.2,580.1 527.9,580.1 528.6,580.1 529.3,580.1 530.0,580.1 530.7,580.1 531.4,580.1 532.1,580.1 532.8,580.1 533.5,580.1 534.2,580.1 534.9,580.1 535.6,580.1 536.3,580.1 537.0,580.1 537.7,580.2 538.4,580.2 539.1,580.2 539.8,580.2 540.5,580.2 541.2,580.2 541.9,580.2 542.6,580.2 543.3,580.2 544.0,580.2 544.7,580.2 545.4,580.2 546.1,580.3 546.8,580.3 547.5,580.3 548.2,580.3 548.9,580.3 549.6,580.3 550.3,580.3 551.0,580.3 551.7,580.3 552.4,580.4 553.1,580.4 553.8,580.4 554.5,580.4 555.2,580.4 555.9,580.4 556.6,580.4 557.3,580.4 558.0,580.5 558.7,580.5 559.4,580.5 560.1,580.5 560.8,580.5 561.5,580.5 562.2,580.6 562.9,580.6 563.6,580.7 564.3,580.7 565.0,580.8 565.7,580.8 566.4,580.9 567.1,581.0 567.8,581.1 568.5,581.2 569.2,581.3 569.9,581.4 570.6,581.5 571.3,581.6 572.0,581.7 572.7,581.8 573.4,581.9 574.1,582.0 574.8,582.2 575.5,582.3 576.2,582.4 576.9,582.5 577.6,582.7 578.3,582.8 579.0,583.0 579.7,583.1 580.4,583.2 581.1,583.4 581.8,583.5 582.5,583.7 583.2,583.8 583.9,584.0 584.6,584.1 585.3,584.3 586.0,584.5 586.7,584.6 587.4,584.8 588.1,585.0 588.8,585.2 589.5,585.5 590.2,585.7 590.9,585.9 591.6,586.1 592.3,586.4 593.0,586.6 593.7,586.9 594.4,587.2 595.1,587.4 595.8,587.7 596.5,588.0 597.2,588.3 597.9,588.6 598.6,588.9 599.3,589.2 600.0,589.5 600.7,589.8 601.4,590.2 602.1,590.5 602.8,590.8 603.5,591.2 604.2,591.5 604.9,591.8 605.6,592.2 606.3,592.5 607.0,592.9 607.7,593.2 608.4,593.6 609.1,593.9 609.8,594.3 610.5,594.7 611.2,595.0 611.9,595.4 612.6,595.7 613.3,596.1 614.0,596.5 614.7,596.8 615.4,597.2 616.1,597.6 616.8,598.0 617.5,598.4 618.2,598.8 618.9,599.3 619.6,599.7 620.3,600.1 621.0,600.6 621.7,601.1 622.4,601.6 623.1,602.0 623.8,602.5 624.5,603.0 625.2,603.5 625.9,604.0 626.6,604.5 627.3,605.0 628.0,605.5 628.7,606.0 629.4,606.5 630.1,607.0 630.8,607.5 631.5,608.0 632.2,608.5 632.9,609.0 633.6,609.4 634.3,609.9 635.0,610.4 635.7,610.8 636.4,611.2 637.1,611.7 637.8,612.1 638.5,612.6 639.2,613.0 639.9,613.4 640.6,613.9 641.3,614.3 642.0,614.7 642.7,615.2 643.4,615.6 644.1,616.0 644.8,616.4 645.5,616.9 646.2,617.3 646.9,617.7 647.6,618.1 648.3,618.5 649.0,618.9 649.7,619.4 650.4,619.8 651.1,620.2 651.8,620.6 652.5,621.0 653.2,621.4 653.9,621.8 654.6,622.1 655.3,622.5 656.0,622.9 656.7,623.3 657.4,623.7 658.1,624.0 658.8,624.4 659.5,624.7 660.2,625.1 660.9,625.5 661.6,625.8 662.3,626.2 663.0,626.5 663.7,626.9 664.4,627.2 665.1,627.6 665.8,627.9 666.5,628.3 667.2,628.6 667.9,628.9 668.6,629.3 669.3,629.6 670.0,629.9 670.7,630.3 671.4,630.6 672.1,630.9 672.8,631.2 673.5,631.5 674.2,631.8 674.9,632.1 675.6,632.3 676.3,632.6 677.0,632.8 677.7,633.1 678.4,633.3 679.1,633.5 679.8,633.7 680.5,634.0 681.2,634.2 681.9,634.4 682.6,634.6 683.3,634.8 684.0,634.9 684.7,635.1 685.4,635.3 686.1,635.5 686.8,635.7 687.5,635.9 688.2,636.0 688.9,636.2 689.6,636.4 690.3,636.5 691.0,636.7 691.7,636.8 692.4,637.0 693.1,637.2 693.8,637.3 694.5,637.5 695.2,637.6 695.9,637.7 696.6,637.9 697.3,638.0 698.0,638.2 698.7,638.3 699.4,638.4 700.1,638.6 700.8,638.7 701.5,638.8 702.2,639.0 702.9,639.1 703.6,639.2 704.3,639.4 705.0,639.5 705.7,639.6 706.4,639.7 707.1,639.8 707.8,640.0 708.5,640.1 709.2,640.2 709.9,640.3 710.6,640.4 711.3,640.5 712.0,640.6 712.7,640.7 713.4,640.9 714.1,641.0 714.8,641.1 715.5,641.2 716.2,641.3 716.9,641.4 717.6,641.5 718.3,641.6 719.0,641.7 719.7,641.8 720.4,641.9 721.1,642.0 721.8,642.1 722.5,642.2 723.2,642.3 723.9,642.4 724.6,642.5 725.3,642.5 726.0,642.6 726.7,642.7 727.4,642.8 728.1,642.9 728.8,643.0 729.5,643.1 730.2,643.2 730.9,643.3 731.6,643.4 732.3,643.5 733.0,643.6 733.7,643.7 734.4,643.8 735.1,643.9 735.8,644.0 736.5,644.1 737.2,644.2 737.9,644.3 738.6,644.4 739.3,644.5 740.0,644.6 740.7,644.7 741.4,644.7 742.1,644.8 742.8,644.9 743.5,645.0 744.2,645.1 744.9,645.2 745.6,645.3 746.3,645.4 747.0,645.5 747.7,645.6 748.4,645.7 749.1,645.7 749.8,645.8 750.5,645.9 751.2,646.0 751.9,646.1 752.6,646.2 753.3,646.3 754.0,646.4 754.7,646.5 755.4,646.5 756.1,646.6 756.8,646.7 757.5,646.8 758.2,646.9 758.9,647.0 759.6,647.1 760.3,647.2 761.0,647.3 761.7,647.3 762.4,647.4 763.1,647.5 763.8,647.6 764.5,647.7 765.2,647.8 765.9,647.9 766.6,648.0 767.3,648.0 768.0,648.1 768.7,648.2 769.4,648.3 770.1,648.4 770.8,648.5 771.5,648.6 772.2,648.6 772.9,648.7 773.6,648.8 774.3,648.9 775.0,649.0 775.7,649.1 776.4,649.2 777.1,649.2 777.8,649.3 778.5,649.4 779.2,649.5 779.9,649.6 780.6,649.7 781.3,649.8 782.0,649.8 782.7,649.9 783.4,650.0 784.1,650.1 784.8,650.2 785.5,650.2 786.2,650.3 786.9,650.4 787.6,650.5 788.3,650.6 789.0,650.7 789.7,650.7 790.4,650.8 791.1,650.9 791.8,651.0 792.5,651.1 793.2,651.1 793.9,651.2 794.6,651.3 795.3,651.4 796.0,651.5 796.7,651.6 797.4,651.6 798.1,651.7 798.8,651.8 799.5,651.9 800.2,652.0 800.9,652.1 801.6,652.2 802.3,652.3 803.0,652.4 803.7,652.4 804.4,652.5 805.1,652.6 805.8,652.7 806.5,652.8 807.2,652.9 807.9,652.9 808.6,653.0 809.3,653.1 810.0,653.2 810.7,653.3 811.4,653.3 812.1,653.4 812.8,653.5 813.5,653.5 814.2,653.6 814.9,653.7 815.6,653.7 816.3,653.8 817.0,653.8 817.7,653.9 818.4,653.9 819.1,654.0 819.8,654.0 820.5,654.0 821.2,654.1 821.9,654.1 822.6,654.1 823.3,654.2 824.0,654.2 824.7,654.2 825.4,654.2 826.1,654.3 826.8,654.3 827.5,654.3 828.2,654.4 828.9,654.4 829.6,654.4 830.3,654.4 831.0,654.5 831.7,654.5 832.4,654.5 833.1,654.5 833.8,654.6 834.5,654.6 835.2,654.6 835.9,654.6 836.6,654.7 837.3,654.7 838.0,654.7 838.7,654.7 839.4,654.7 840.1,654.8 840.8,654.8 841.5,654.8 842.2,654.8 842.9,654.8 843.6,654.8 844.3,654.9 845.0,654.9 845.7,654.9 846.4,654.9 847.1,654.9 847.8,655.0 848.5,655.0 849.2,655.0 849.9,655.0 850.6,655.0 851.3,655.0 852.0,655.1 852.7,655.1 853.4,655.1 854.1,655.1 854.8,655.1 855.5,655.1 856.2,655.2 856.9,655.2 857.6,655.2 858.3,655.2 859.0,655.2 859.7,655.2 860.4,655.3 861.1,655.3 861.8,655.3 862.5,655.3 863.2,655.3 863.9,655.3 864.6,655.4 865.3,655.4 866.0,655.4 866.7,655.4 867.4,655.4 868.1,655.4 868.8,655.5 869.5,655.5 870.2,655.5 870.9,655.5 871.6,655.5 872.3,655.6 873.0,655.6 873.7,655.6 874.4,655.6 875.1,655.6 875.8,655.7 876.5,655.7 877.2,655.7 877.9,655.7 878.6,655.7 879.3,655.8 880.0,655.8 880.7,655.8 881.4,655.8 882.1,655.8 882.8,655.9 883.5,655.9 884.2,655.9 884.9,655.9 885.6,655.9 886.3,655.9 887.0,656.0 887.7,656.0 888.4,656.0 889.1,656.0 889.8,656.0 890.5,656.1 891.2,656.1 891.9,656.1 892.6,656.1 893.3,656.1 894.0,656.1 894.7,656.2 895.4,656.2 896.1,656.2 896.8,656.2 897.5,656.2 898.2,656.3 898.9,656.3 899.6,656.3 900.3,656.3 901.0,656.3 901.7,656.4 902.4,656.4 903.1,656.4 903.8,656.4 904.5,656.4 905.2,656.4 905.9,656.5 906.6,656.5 907.3,656.5 908.0,656.5 908.7,656.5 909.4,656.5 910.1,656.6 910.8,656.6 911.5,656.6 912.2,656.6 912.9,656.6 913.6,656.7 914.3,656.7 915.0,656.7 915.7,656.7 916.4,656.7 917.1,656.7 917.8,656.8 918.5,656.8 919.2,656.8 919.9,656.8 920.6,656.8 921.3,656.8 922.0,656.9 922.7,656.9 923.4,656.9 924.1,656.9 924.8,656.9 925.5,656.9 926.2,657.0 926.9,657.0" />
<polyline fill="none" stroke="#0a0a0a" stroke-width="2.4" stroke-linejoin="round" points="510.4,579.8 511.1,579.7 511.8,579.7 512.5,579.7 513.2,579.7 513.9,579.7 514.6,579.7 515.3,579.7 516.0,579.7 516.7,579.7 517.4,579.7 518.1,579.7 518.8,579.7 519.5,579.6 520.2,579.6 520.9,579.6 521.6,579.6 522.3,579.6 523.0,579.6 523.7,579.5 524.4,579.5 525.1,579.5 525.8,579.5 526.5,579.4 527.2,579.4 527.9,579.4 528.6,579.4 529.3,579.3 530.0,579.3 530.7,579.2 531.4,579.2 532.1,579.1 532.8,579.1 533.5,579.0 534.2,579.0 534.9,578.9 535.6,578.8 536.3,578.7 537.0,578.7 537.7,578.6 538.4,578.5 539.1,578.4 539.8,578.3 540.5,578.1 541.2,578.0 541.9,577.9 542.6,577.7 543.3,577.6 544.0,577.4 544.7,577.3 545.4,577.1 546.1,576.9 546.8,576.7 547.5,576.5 548.2,576.2 548.9,576.0 549.6,575.7 550.3,575.4 551.0,575.1 551.7,574.8 552.4,574.5 553.1,574.2 553.8,573.8 554.5,573.4 555.2,573.0 555.9,572.6 556.6,572.1 557.3,571.7 558.0,571.2 558.7,570.7 559.4,570.1 560.1,569.6 560.8,569.0 561.5,568.4 562.2,567.7 562.9,567.1 563.6,566.4 564.3,565.7 565.0,565.0 565.7,564.2 566.4,563.5 567.1,562.7 567.8,561.8 568.5,561.0 569.2,560.1 569.9,559.1 570.6,558.2 571.3,557.2 572.0,556.2 572.7,555.1 573.4,554.0 574.1,552.9 574.8,551.7 575.5,550.5 576.2,549.3 576.9,548.0 577.6,546.7 578.3,545.4 579.0,544.0 579.7,542.6 580.4,541.1 581.1,539.6 581.8,538.1 582.5,536.6 583.2,535.0 583.9,533.3 584.6,531.7 585.3,530.0 586.0,528.3 586.7,526.5 587.4,524.8 588.1,523.0 588.8,521.2 589.5,519.4 590.2,517.5 590.9,515.7 591.6,513.8 592.3,512.0 593.0,510.1 593.7,508.2 594.4,506.3 595.1,504.4 595.8,502.5 596.5,500.6 597.2,498.7 597.9,496.8 598.6,494.9 599.3,493.0 600.0,491.1 600.7,489.3 601.4,487.4 602.1,485.6 602.8,483.8 603.5,482.0 604.2,480.3 604.9,478.5 605.6,476.9 606.3,475.2 607.0,473.6 607.7,472.0 608.4,470.5 609.1,469.0 609.8,467.5 610.5,466.2 611.2,464.8 611.9,463.5 612.6,462.3 613.3,461.1 614.0,460.0 614.7,459.0 615.4,458.0 616.1,457.2 616.8,456.4 617.5,455.7 618.2,455.0 618.9,454.5 619.6,454.1 620.3,453.7 621.0,453.4 621.7,453.3 622.4,453.2 623.1,453.2 623.8,453.3 624.5,453.5 625.2,453.7 625.9,454.1 626.6,454.6 627.3,455.1 628.0,455.7 628.7,456.3 629.4,457.0 630.1,457.8 630.8,458.6 631.5,459.4 632.2,460.3 632.9,461.3 633.6,462.3 634.3,463.4 635.0,464.5 635.7,465.6 636.4,466.8 637.1,468.1 637.8,469.4 638.5,470.7 639.2,472.1 639.9,473.5 640.6,475.0 641.3,476.5 642.0,478.1 642.7,479.7 643.4,481.4 644.1,483.0 644.8,484.8 645.5,486.5 646.2,488.3 646.9,490.1 647.6,492.0 648.3,493.9 649.0,495.8 649.7,497.7 650.4,499.7 651.1,501.7 651.8,503.7 652.5,505.7 653.2,507.7 653.9,509.7 654.6,511.8 655.3,513.9 656.0,516.0 656.7,518.0 657.4,520.1 658.1,522.2 658.8,524.3 659.5,526.4 660.2,528.5 660.9,530.6 661.6,532.7 662.3,534.8 663.0,536.9 663.7,539.0 664.4,541.0 665.1,543.1 665.8,545.2 666.5,547.2 667.2,549.3 667.9,551.3 668.6,553.3 669.3,555.2 670.0,557.2 670.7,559.1 671.4,561.0 672.1,562.9 672.8,564.8 673.5,566.6 674.2,568.4 674.9,570.1 675.6,571.9 676.3,573.6 677.0,575.2 677.7,576.8 678.4,578.4 679.1,579.9 679.8,581.4 680.5,582.8 681.2,584.2 681.9,585.6 682.6,586.9 683.3,588.2 684.0,589.4 684.7,590.6 685.4,591.8 686.1,592.8 686.8,593.9 687.5,594.9 688.2,595.8 688.9,596.6 689.6,597.5 690.3,598.2 691.0,598.9 691.7,599.5 692.4,600.0 693.1,600.5 693.8,600.9 694.5,601.2 695.2,601.5 695.9,601.7 696.6,601.8 697.3,601.8 698.0,601.7 698.7,601.6 699.4,601.4 700.1,601.1 700.8,600.7 701.5,600.2 702.2,599.7 702.9,599.0 703.6,598.4 704.3,597.6 705.0,596.8 705.7,595.9 706.4,594.9 707.1,594.0 707.8,593.0 708.5,592.0 709.2,591.0 709.9,590.0 710.6,589.0 711.3,588.2 712.0,587.4 712.7,586.7 713.4,586.1 714.1,585.7 714.8,585.5 715.5,585.5 716.2,585.7 716.9,586.0 717.6,586.6 718.3,587.4 719.0,588.3 719.7,589.5 720.4,590.7 721.1,592.2 721.8,593.7 722.5,595.3 723.2,597.0 723.9,598.7 724.6,600.5 725.3,602.2 726.0,604.0 726.7,605.7 727.4,607.4 728.1,609.0 728.8,610.6 729.5,612.1 730.2,613.6 730.9,615.0 731.6,616.3 732.3,617.5 733.0,618.6 733.7,619.7 734.4,620.6 735.1,621.5 735.8,622.2 736.5,622.9 737.2,623.4 737.9,623.9 738.6,624.2 739.3,624.4 740.0,624.5 740.7,624.5 741.4,624.3 742.1,624.1 742.8,623.7 743.5,623.2 744.2,622.5 744.9,621.8 745.6,620.9 746.3,619.9 747.0,618.8 747.7,617.6 748.4,616.3 749.1,614.9 749.8,613.4 750.5,611.8 751.2,610.2 751.9,608.5 752.6,606.7 753.3,605.0 754.0,603.2 754.7,601.5 755.4,599.8 756.1,598.1 756.8,596.6 757.5,595.1 758.2,593.8 758.9,592.7 759.6,591.8 760.3,591.1 761.0,590.6 761.7,590.4 762.4,590.4 763.1,590.8 763.8,591.3 764.5,592.2 765.2,593.2 765.9,594.5 766.6,596.0 767.3,597.7 768.0,599.5 768.7,601.4 769.4,603.4 770.1,605.5 770.8,607.6 771.5,609.8 772.2,612.0 772.9,614.1 773.6,616.3 774.3,618.4 775.0,620.4 775.7,622.4 776.4,624.3 777.1,626.1 777.8,627.9 778.5,629.5 779.2,631.1 779.9,632.6 780.6,634.0 781.3,635.3 782.0,636.5 782.7,637.6 783.4,638.7 784.1,639.6 784.8,640.5 785.5,641.3 786.2,642.1 786.9,642.8 787.6,643.4 788.3,644.0 789.0,644.5 789.7,645.0 790.4,645.4 791.1,645.8 791.8,646.2 792.5,646.5 793.2,646.8 793.9,647.1 794.6,647.4 795.3,647.7 796.0,647.9 796.7,648.2 797.4,648.4 798.1,648.6 798.8,648.8 799.5,649.0 800.2,649.2 800.9,649.3 801.6,649.5 802.3,649.7 803.0,649.8 803.7,650.0 804.4,650.1 805.1,650.3 805.8,650.4 806.5,650.6 807.2,650.7 807.9,650.8 808.6,651.0 809.3,651.1 810.0,651.2 810.7,651.3 811.4,651.4 812.1,651.6 812.8,651.7 813.5,651.8 814.2,651.9 814.9,652.0 815.6,652.1 816.3,652.1 817.0,652.2 817.7,652.3 818.4,652.4 819.1,652.5 819.8,652.5 820.5,652.6 821.2,652.6 821.9,652.7 822.6,652.8 823.3,652.8 824.0,652.9 824.7,652.9 825.4,653.0 826.1,653.0 826.8,653.1 827.5,653.1 828.2,653.2 828.9,653.2 829.6,653.3 830.3,653.3 831.0,653.4 831.7,653.4 832.4,653.4 833.1,653.5 833.8,653.5 834.5,653.6 835.2,653.6 835.9,653.6 836.6,653.7 837.3,653.7 838.0,653.7 838.7,653.8 839.4,653.8 840.1,653.8 840.8,653.9 841.5,653.9 842.2,653.9 842.9,654.0 843.6,654.0 844.3,654.0 845.0,654.1 845.7,654.1 846.4,654.1 847.1,654.1 847.8,654.2 848.5,654.2 849.2,654.2 849.9,654.3 850.6,654.3 851.3,654.3 852.0,654.3 852.7,654.4 853.4,654.4 854.1,654.4 854.8,654.4 855.5,654.5 856.2,654.5 856.9,654.5 857.6,654.5 858.3,654.6 859.0,654.6 859.7,654.6 860.4,654.6 861.1,654.7 861.8,654.7 862.5,654.7 863.2,654.7 863.9,654.8 864.6,654.8 865.3,654.8 866.0,654.8 866.7,654.9 867.4,654.9 868.1,654.9 868.8,654.9 869.5,655.0 870.2,655.0 870.9,655.0 871.6,655.0 872.3,655.1 873.0,655.1 873.7,655.1 874.4,655.1 875.1,655.1 875.8,655.2 876.5,655.2 877.2,655.2 877.9,655.2 878.6,655.3 879.3,655.3 880.0,655.3 880.7,655.3 881.4,655.4 882.1,655.4 882.8,655.4 883.5,655.4 884.2,655.5 884.9,655.5 885.6,655.5 886.3,655.5 887.0,655.5 887.7,655.6 888.4,655.6 889.1,655.6 889.8,655.6 890.5,655.7 891.2,655.7 891.9,655.7 892.6,655.7 893.3,655.7 894.0,655.8 894.7,655.8 895.4,655.8 896.1,655.8 896.8,655.9 897.5,655.9 898.2,655.9 898.9,655.9 899.6,655.9 900.3,656.0 901.0,656.0 901.7,656.0 902.4,656.0 903.1,656.0 903.8,656.1 904.5,656.1 905.2,656.1 905.9,656.1 906.6,656.2 907.3,656.2 908.0,656.2 908.7,656.2 909.4,656.2 910.1,656.3 910.8,656.3 911.5,656.3 912.2,656.3 912.9,656.3 913.6,656.4 914.3,656.4 915.0,656.4 915.7,656.4 916.4,656.4 917.1,656.5 917.8,656.5 918.5,656.5 919.2,656.5 919.9,656.5 920.6,656.5 921.3,656.6 922.0,656.6 922.7,656.6 923.4,656.6 924.1,656.6 924.8,656.7 925.5,656.7 926.2,656.7 926.9,656.7" />
<text x="612.00" y="412.00" style="font-family:'Liberation Sans',sans-serif;font-weight:bold;font-size:16px" text-anchor="start" textLength="31.00" lengthAdjust="spacingAndGlyphs" stroke="#000" stroke-width="0.45" >V3p</text>
<text x="700.40" y="560.80" style="font-family:'Liberation Sans',sans-serif;font-weight:bold;font-size:16px" text-anchor="start" textLength="30.60" lengthAdjust="spacingAndGlyphs" stroke="#000" stroke-width="0.45" >W4f</text>
<text x="731.00" y="567.90" style="font-family:'Liberation Sans',sans-serif;font-weight:bold;font-size:10px" text-anchor="start" textLength="14.00" lengthAdjust="spacingAndGlyphs" stroke="#000" stroke-width="0.45" >5/2</text>
<text x="754.40" y="578.60" style="font-family:'Liberation Sans',sans-serif;font-weight:bold;font-size:16px" text-anchor="start" textLength="30.60" lengthAdjust="spacingAndGlyphs" stroke="#000" stroke-width="0.45" >W4f</text>
<text x="785.00" y="585.60" style="font-family:'Liberation Sans',sans-serif;font-weight:bold;font-size:10px" text-anchor="start" textLength="14.00" lengthAdjust="spacingAndGlyphs" stroke="#000" stroke-width="0.45" >7/2</text>
</g>
<rect x="43.1" y="3.7" width="417.90" height="310.80" fill="none" stroke="#4a4a4a" stroke-width="1.8"/>
<line x1="461.00" y1="314.5" x2="461.00" y2="320.5" stroke="#4a4a4a" stroke-width="1.6"/>
<text x="461.00" y="337.30" style="font-family:'Liberation Sans',sans-serif;font-weight:bold;font-size:16px" text-anchor="middle" textLength="9.26" lengthAdjust="spacingAndGlyphs" stroke="#000" stroke-width="0.45" >0</text>
<line x1="426.18" y1="314.5" x2="426.18" y2="318.0" stroke="#4a4a4a" stroke-width="1.6"/>
<line x1="391.35" y1="314.5" x2="391.35" y2="320.5" stroke="#4a4a4a" stroke-width="1.6"/>
<text x="391.35" y="337.30" style="font-family:'Liberation Sans',sans-serif;font-weight:bold;font-size:16px" text-anchor="middle" textLength="27.77" lengthAdjust="spacingAndGlyphs" stroke="#000" stroke-width="0.45" >200</text>
<line x1="356.52" y1="314.5" x2="356.52" y2="318.0" stroke="#4a4a4a" stroke-width="1.6"/>
<line x1="321.70" y1="314.5" x2="321.70" y2="320.5" stroke="#4a4a4a" stroke-width="1.6"/>
<text x="321.70" y="337.30" style="font-family:'Liberation Sans',sans-serif;font-weight:bold;font-size:16px" text-anchor="middle" textLength="27.77" lengthAdjust="spacingAndGlyphs" stroke="#000" stroke-width="0.45" >400</text>
<line x1="286.88" y1="314.5" x2="286.88" y2="318.0" stroke="#4a4a4a" stroke-width="1.6"/>
<line x1="252.05" y1="314.5" x2="252.05" y2="320.5" stroke="#4a4a4a" stroke-width="1.6"/>
<text x="252.05" y="337.30" style="font-family:'Liberation Sans',sans-serif;font-weight:bold;font-size:16px" text-anchor="middle" textLength="27.77" lengthAdjust="spacingAndGlyphs" stroke="#000" stroke-width="0.45" >600</text>
<line x1="217.22" y1="314.5" x2="217.22" y2="318.0" stroke="#4a4a4a" stroke-width="1.6"/>
<line x1="182.40" y1="314.5" x2="182.40" y2="320.5" stroke="#4a4a4a" stroke-width="1.6"/>
<text x="182.40" y="337.30" style="font-family:'Liberation Sans',sans-serif;font-weight:bold;font-size:16px" text-anchor="middle" textLength="27.77" lengthAdjust="spacingAndGlyphs" stroke="#000" stroke-width="0.45" >800</text>
<line x1="147.57" y1="314.5" x2="147.57" y2="318.0" stroke="#4a4a4a" stroke-width="1.6"/>
<line x1="112.75" y1="314.5" x2="112.75" y2="320.5" stroke="#4a4a4a" stroke-width="1.6"/>
<text x="112.75" y="337.30" style="font-family:'Liberation Sans',sans-serif;font-weight:bold;font-size:16px" text-anchor="middle" textLength="37.02" lengthAdjust="spacingAndGlyphs" stroke="#000" stroke-width="0.45" >1000</text>
<line x1="77.92" y1="314.5" x2="77.92" y2="318.0" stroke="#4a4a4a" stroke-width="1.6"/>
<line x1="43.10" y1="314.5" x2="43.10" y2="320.5" stroke="#4a4a4a" stroke-width="1.6"/>
<text x="43.10" y="337.30" style="font-family:'Liberation Sans',sans-serif;font-weight:bold;font-size:16px" text-anchor="middle" textLength="37.02" lengthAdjust="spacingAndGlyphs" stroke="#000" stroke-width="0.45" >1200</text>
<rect x="509.5" y="4.0" width="418.10" height="310.80" fill="none" stroke="#4a4a4a" stroke-width="1.8"/>
<line x1="927.60" y1="314.8" x2="927.60" y2="320.8" stroke="#4a4a4a" stroke-width="1.6"/>
<text x="927.60" y="337.30" style="font-family:'Liberation Sans',sans-serif;font-weight:bold;font-size:16px" text-anchor="middle" textLength="27.77" lengthAdjust="spacingAndGlyphs" stroke="#000" stroke-width="0.45" >510</text>
<line x1="904.37" y1="314.8" x2="904.37" y2="318.3" stroke="#4a4a4a" stroke-width="1.6"/>
<line x1="881.14" y1="314.8" x2="881.14" y2="320.8" stroke="#4a4a4a" stroke-width="1.6"/>
<text x="881.14" y="337.30" style="font-family:'Liberation Sans',sans-serif;font-weight:bold;font-size:16px" text-anchor="middle" textLength="27.77" lengthAdjust="spacingAndGlyphs" stroke="#000" stroke-width="0.45" >512</text>
<line x1="857.92" y1="314.8" x2="857.92" y2="318.3" stroke="#4a4a4a" stroke-width="1.6"/>
<line x1="834.69" y1="314.8" x2="834.69" y2="320.8" stroke="#4a4a4a" stroke-width="1.6"/>
<text x="834.69" y="337.30" style="font-family:'Liberation Sans',sans-serif;font-weight:bold;font-size:16px" text-anchor="middle" textLength="27.77" lengthAdjust="spacingAndGlyphs" stroke="#000" stroke-width="0.45" >514</text>
<line x1="811.46" y1="314.8" x2="811.46" y2="318.3" stroke="#4a4a4a" stroke-width="1.6"/>
<line x1="788.23" y1="314.8" x2="788.23" y2="320.8" stroke="#4a4a4a" stroke-width="1.6"/>
<text x="788.23" y="337.30" style="font-family:'Liberation Sans',sans-serif;font-weight:bold;font-size:16px" text-anchor="middle" textLength="27.77" lengthAdjust="spacingAndGlyphs" stroke="#000" stroke-width="0.45" >516</text>
<line x1="765.01" y1="314.8" x2="765.01" y2="318.3" stroke="#4a4a4a" stroke-width="1.6"/>
<line x1="741.78" y1="314.8" x2="741.78" y2="320.8" stroke="#4a4a4a" stroke-width="1.6"/>
<text x="741.78" y="337.30" style="font-family:'Liberation Sans',sans-serif;font-weight:bold;font-size:16px" text-anchor="middle" textLength="27.77" lengthAdjust="spacingAndGlyphs" stroke="#000" stroke-width="0.45" >518</text>
<line x1="718.55" y1="314.8" x2="718.55" y2="318.3" stroke="#4a4a4a" stroke-width="1.6"/>
<line x1="695.32" y1="314.8" x2="695.32" y2="320.8" stroke="#4a4a4a" stroke-width="1.6"/>
<text x="695.32" y="337.30" style="font-family:'Liberation Sans',sans-serif;font-weight:bold;font-size:16px" text-anchor="middle" textLength="27.77" lengthAdjust="spacingAndGlyphs" stroke="#000" stroke-width="0.45" >520</text>
<line x1="672.09" y1="314.8" x2="672.09" y2="318.3" stroke="#4a4a4a" stroke-width="1.6"/>
<line x1="648.87" y1="314.8" x2="648.87" y2="320.8" stroke="#4a4a4a" stroke-width="1.6"/>
<text x="648.87" y="337.30" style="font-family:'Liberation Sans',sans-serif;font-weight:bold;font-size:16px" text-anchor="middle" textLength="27.77" lengthAdjust="spacingAndGlyphs" stroke="#000" stroke-width="0.45" >522</text>
<line x1="625.64" y1="314.8" x2="625.64" y2="318.3" stroke="#4a4a4a" stroke-width="1.6"/>
<line x1="602.41" y1="314.8" x2="602.41" y2="320.8" stroke="#4a4a4a" stroke-width="1.6"/>
<text x="602.41" y="337.30" style="font-family:'Liberation Sans',sans-serif;font-weight:bold;font-size:16px" text-anchor="middle" textLength="27.77" lengthAdjust="spacingAndGlyphs" stroke="#000" stroke-width="0.45" >524</text>
<line x1="579.18" y1="314.8" x2="579.18" y2="318.3" stroke="#4a4a4a" stroke-width="1.6"/>
<line x1="555.96" y1="314.8" x2="555.96" y2="320.8" stroke="#4a4a4a" stroke-width="1.6"/>
<text x="555.96" y="337.30" style="font-family:'Liberation Sans',sans-serif;font-weight:bold;font-size:16px" text-anchor="middle" textLength="27.77" lengthAdjust="spacingAndGlyphs" stroke="#000" stroke-width="0.45" >526</text>
<line x1="532.73" y1="314.8" x2="532.73" y2="318.3" stroke="#4a4a4a" stroke-width="1.6"/>
<line x1="509.50" y1="314.8" x2="509.50" y2="320.8" stroke="#4a4a4a" stroke-width="1.6"/>
<text x="509.50" y="337.30" style="font-family:'Liberation Sans',sans-serif;font-weight:bold;font-size:16px" text-anchor="middle" textLength="27.77" lengthAdjust="spacingAndGlyphs" stroke="#000" stroke-width="0.45" >528</text>
<rect x="43.2" y="383.7" width="418.30" height="311.30" fill="none" stroke="#4a4a4a" stroke-width="1.8"/>
<line x1="461.50" y1="695.0" x2="461.50" y2="698.5" stroke="#4a4a4a" stroke-width="1.6"/>
<line x1="419.67" y1="695.0" x2="419.67" y2="701.0" stroke="#4a4a4a" stroke-width="1.6"/>
<text x="419.67" y="717.50" style="font-family:'Liberation Sans',sans-serif;font-weight:bold;font-size:16px" text-anchor="middle" textLength="27.77" lengthAdjust="spacingAndGlyphs" stroke="#000" stroke-width="0.45" >528</text>
<line x1="377.84" y1="695.0" x2="377.84" y2="698.5" stroke="#4a4a4a" stroke-width="1.6"/>
<line x1="336.01" y1="695.0" x2="336.01" y2="701.0" stroke="#4a4a4a" stroke-width="1.6"/>
<text x="336.01" y="717.50" style="font-family:'Liberation Sans',sans-serif;font-weight:bold;font-size:16px" text-anchor="middle" textLength="27.77" lengthAdjust="spacingAndGlyphs" stroke="#000" stroke-width="0.45" >530</text>
<line x1="294.18" y1="695.0" x2="294.18" y2="698.5" stroke="#4a4a4a" stroke-width="1.6"/>
<line x1="252.35" y1="695.0" x2="252.35" y2="701.0" stroke="#4a4a4a" stroke-width="1.6"/>
<text x="252.35" y="717.50" style="font-family:'Liberation Sans',sans-serif;font-weight:bold;font-size:16px" text-anchor="middle" textLength="27.77" lengthAdjust="spacingAndGlyphs" stroke="#000" stroke-width="0.45" >532</text>
<line x1="210.52" y1="695.0" x2="210.52" y2="698.5" stroke="#4a4a4a" stroke-width="1.6"/>
<line x1="168.69" y1="695.0" x2="168.69" y2="701.0" stroke="#4a4a4a" stroke-width="1.6"/>
<text x="168.69" y="717.50" style="font-family:'Liberation Sans',sans-serif;font-weight:bold;font-size:16px" text-anchor="middle" textLength="27.77" lengthAdjust="spacingAndGlyphs" stroke="#000" stroke-width="0.45" >534</text>
<line x1="126.86" y1="695.0" x2="126.86" y2="698.5" stroke="#4a4a4a" stroke-width="1.6"/>
<line x1="85.03" y1="695.0" x2="85.03" y2="701.0" stroke="#4a4a4a" stroke-width="1.6"/>
<text x="85.03" y="717.50" style="font-family:'Liberation Sans',sans-serif;font-weight:bold;font-size:16px" text-anchor="middle" textLength="27.77" lengthAdjust="spacingAndGlyphs" stroke="#000" stroke-width="0.45" >536</text>
<line x1="43.20" y1="695.0" x2="43.20" y2="698.5" stroke="#4a4a4a" stroke-width="1.6"/>
<rect x="509.6" y="384.0" width="418.00" height="311.40" fill="none" stroke="#4a4a4a" stroke-width="1.8"/>
<line x1="927.60" y1="695.4" x2="927.60" y2="698.9" stroke="#4a4a4a" stroke-width="1.6"/>
<line x1="906.70" y1="695.4" x2="906.70" y2="701.4" stroke="#4a4a4a" stroke-width="1.6"/>
<text x="906.70" y="717.50" style="font-family:'Liberation Sans',sans-serif;font-weight:bold;font-size:16px" text-anchor="middle" textLength="18.51" lengthAdjust="spacingAndGlyphs" stroke="#000" stroke-width="0.45" >28</text>
<line x1="885.80" y1="695.4" x2="885.80" y2="698.9" stroke="#4a4a4a" stroke-width="1.6"/>
<line x1="864.90" y1="695.4" x2="864.90" y2="701.4" stroke="#4a4a4a" stroke-width="1.6"/>
<text x="864.90" y="717.50" style="font-family:'Liberation Sans',sans-serif;font-weight:bold;font-size:16px" text-anchor="middle" textLength="18.51" lengthAdjust="spacingAndGlyphs" stroke="#000" stroke-width="0.45" >30</text>
<line x1="844.00" y1="695.4" x2="844.00" y2="698.9" stroke="#4a4a4a" stroke-width="1.6"/>
<line x1="823.10" y1="695.4" x2="823.10" y2="701.4" stroke="#4a4a4a" stroke-width="1.6"/>
<text x="823.10" y="717.50" style="font-family:'Liberation Sans',sans-serif;font-weight:bold;font-size:16px" text-anchor="middle" textLength="18.51" lengthAdjust="spacingAndGlyphs" stroke="#000" stroke-width="0.45" >32</text>
<line x1="802.20" y1="695.4" x2="802.20" y2="698.9" stroke="#4a4a4a" stroke-width="1.6"/>
<line x1="781.30" y1="695.4" x2="781.30" y2="701.4" stroke="#4a4a4a" stroke-width="1.6"/>
<text x="781.30" y="717.50" style="font-family:'Liberation Sans',sans-serif;font-weight:bold;font-size:16px" text-anchor="middle" textLength="18.51" lengthAdjust="spacingAndGlyphs" stroke="#000" stroke-width="0.45" >34</text>
<line x1="760.40" y1="695.4" x2="760.40" y2="698.9" stroke="#4a4a4a" stroke-width="1.6"/>
<line x1="739.50" y1="695.4" x2="739.50" y2="701.4" stroke="#4a4a4a" stroke-width="1.6"/>
<text x="739.50" y="717.50" style="font-family:'Liberation Sans',sans-serif;font-weight:bold;font-size:16px" text-anchor="middle" textLength="18.51" lengthAdjust="spacingAndGlyphs" stroke="#000" stroke-width="0.45" >36</text>
<line x1="718.60" y1="695.4" x2="718.60" y2="698.9" stroke="#4a4a4a" stroke-width="1.6"/>
<line x1="697.70" y1="695.4" x2="697.70" y2="701.4" stroke="#4a4a4a" stroke-width="1.6"/>
<text x="697.70" y="717.50" style="font-family:'Liberation Sans',sans-serif;font-weight:bold;font-size:16px" text-anchor="middle" textLength="18.51" lengthAdjust="spacingAndGlyphs" stroke="#000" stroke-width="0.45" >38</text>
<line x1="676.80" y1="695.4" x2="676.80" y2="698.9" stroke="#4a4a4a" stroke-width="1.6"/>
<line x1="655.90" y1="695.4" x2="655.90" y2="701.4" stroke="#4a4a4a" stroke-width="1.6"/>
<text x="655.90" y="717.50" style="font-family:'Liberation Sans',sans-serif;font-weight:bold;font-size:16px" text-anchor="middle" textLength="18.51" lengthAdjust="spacingAndGlyphs" stroke="#000" stroke-width="0.45" >40</text>
<line x1="635.00" y1="695.4" x2="635.00" y2="698.9" stroke="#4a4a4a" stroke-width="1.6"/>
<line x1="614.10" y1="695.4" x2="614.10" y2="701.4" stroke="#4a4a4a" stroke-width="1.6"/>
<text x="614.10" y="717.50" style="font-family:'Liberation Sans',sans-serif;font-weight:bold;font-size:16px" text-anchor="middle" textLength="18.51" lengthAdjust="spacingAndGlyphs" stroke="#000" stroke-width="0.45" >42</text>
<line x1="593.20" y1="695.4" x2="593.20" y2="698.9" stroke="#4a4a4a" stroke-width="1.6"/>
<line x1="572.30" y1="695.4" x2="572.30" y2="701.4" stroke="#4a4a4a" stroke-width="1.6"/>
<text x="572.30" y="717.50" style="font-family:'Liberation Sans',sans-serif;font-weight:bold;font-size:16px" text-anchor="middle" textLength="18.51" lengthAdjust="spacingAndGlyphs" stroke="#000" stroke-width="0.45" >44</text>
<line x1="551.40" y1="695.4" x2="551.40" y2="698.9" stroke="#4a4a4a" stroke-width="1.6"/>
<line x1="530.50" y1="695.4" x2="530.50" y2="701.4" stroke="#4a4a4a" stroke-width="1.6"/>
<text x="530.50" y="717.50" style="font-family:'Liberation Sans',sans-serif;font-weight:bold;font-size:16px" text-anchor="middle" textLength="18.51" lengthAdjust="spacingAndGlyphs" stroke="#000" stroke-width="0.45" >46</text>
<line x1="509.60" y1="695.4" x2="509.60" y2="698.9" stroke="#4a4a4a" stroke-width="1.6"/>
<text x="149.60" y="371.20" style="font-family:'Liberation Sans',sans-serif;font-weight:bold;font-size:23px" text-anchor="start" textLength="222.00" lengthAdjust="spacingAndGlyphs" stroke="#000" stroke-width="0.45" >Binding Energy (eV)</text>
<text x="606.20" y="373.90" style="font-family:'Liberation Sans',sans-serif;font-weight:bold;font-size:23px" text-anchor="start" textLength="223.50" lengthAdjust="spacingAndGlyphs" stroke="#000" stroke-width="0.45" >Binding Energy (eV)</text>
<text x="141.00" y="753.60" style="font-family:'Liberation Sans',sans-serif;font-weight:bold;font-size:23px" text-anchor="start" textLength="222.20" lengthAdjust="spacingAndGlyphs" stroke="#000" stroke-width="0.45" >Binding Energy (eV)</text>
<text x="606.70" y="747.70" style="font-family:'Liberation Sans',sans-serif;font-weight:bold;font-size:23px" text-anchor="start" textLength="221.00" lengthAdjust="spacingAndGlyphs" stroke="#000" stroke-width="0.45" >Binding Energy (eV)</text>
<text transform="translate(26.3,230.2) rotate(-90)" x="0" y="0" style="font-family:'Liberation Sans',sans-serif;font-weight:bold;font-size:25px" textLength="110" lengthAdjust="spacingAndGlyphs" stroke="#000" stroke-width="0.5">Counts /s</text>
<text transform="translate(494.7,225.2) rotate(-90)" x="0" y="0" style="font-family:'Liberation Sans',sans-serif;font-weight:bold;font-size:25px" textLength="110.5" lengthAdjust="spacingAndGlyphs" stroke="#000" stroke-width="0.5">Counts /s</text>
<text transform="translate(24.6,610.6) rotate(-90)" x="0" y="0" style="font-family:'Liberation Sans',sans-serif;font-weight:bold;font-size:27px" textLength="121" lengthAdjust="spacingAndGlyphs" stroke="#000" stroke-width="0.5">Counts /s</text>
<text transform="translate(489.5,610.2) rotate(-90)" x="0" y="0" style="font-family:'Liberation Sans',sans-serif;font-weight:bold;font-size:25px" textLength="110" lengthAdjust="spacingAndGlyphs" stroke="#000" stroke-width="0.5">Counts /s</text>
<text x="50.00" y="46.60" style="font-family:'Liberation Serif',serif;font-weight:bold;font-size:41px" text-anchor="start" textLength="49.80" lengthAdjust="spacingAndGlyphs" stroke="#000" stroke-width="0.45" >(a)</text>
<text x="513.80" y="46.80" style="font-family:'Liberation Serif',serif;font-weight:bold;font-size:41px" text-anchor="start" textLength="51.80" lengthAdjust="spacingAndGlyphs" stroke="#000" stroke-width="0.45" >(b)</text>
<text x="50.20" y="416.20" style="font-family:'Liberation Serif',serif;font-weight:bold;font-size:41px" text-anchor="start" textLength="47.00" lengthAdjust="spacingAndGlyphs" stroke="#000" stroke-width="0.45" >(c)</text>
<text x="514.20" y="421.30" style="font-family:'Liberation Serif',serif;font-weight:bold;font-size:41px" text-anchor="start" textLength="51.60" lengthAdjust="spacingAndGlyphs" stroke="#000" stroke-width="0.45" >(d)</text>
</svg></body></html>
